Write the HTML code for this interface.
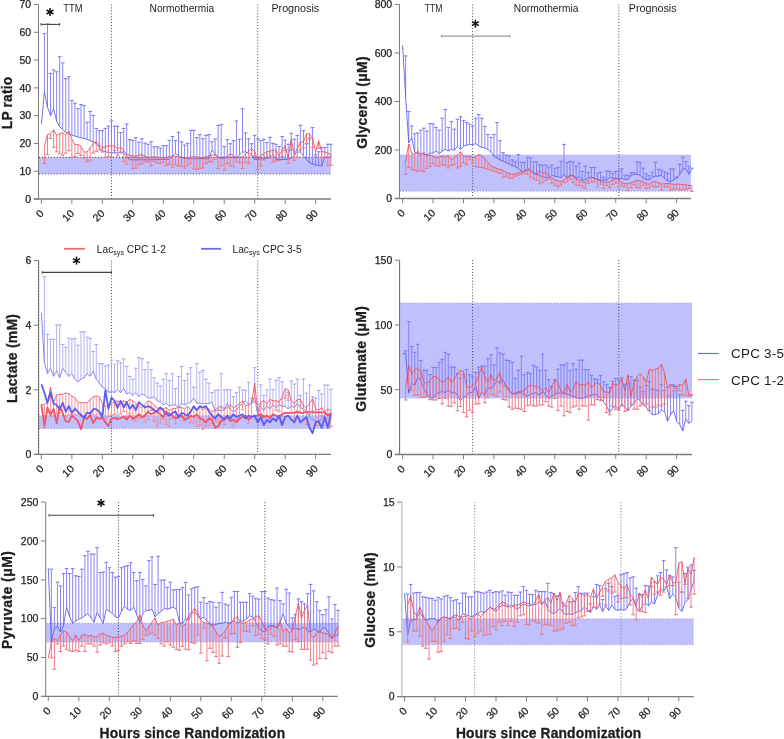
<!DOCTYPE html><html><head><meta charset="utf-8"><style>html,body{margin:0;padding:0;background:#fff;}svg{display:block;will-change:transform;}</style></head><body>
<svg width="784" height="739" viewBox="0 0 784 739" font-family='"Liberation Sans", sans-serif'>
<rect width="784" height="739" fill="#fff"/>
<rect x="39.00" y="157.32" width="292.00" height="16.67" fill="#c0c0fd"/>
<line x1="39.00" y1="157.32" x2="331.00" y2="157.32" stroke="#222" stroke-width="1" stroke-dasharray="1 1.96"/>
<line x1="39.00" y1="173.99" x2="331.00" y2="173.99" stroke="#4a4a4a" stroke-width="1" stroke-dasharray="1 1.96"/>
<line x1="111.48" y1="4.50" x2="111.48" y2="199.00" stroke="#444" stroke-width="1" stroke-dasharray="1 1.93"/>
<line x1="257.74" y1="4.50" x2="257.74" y2="199.00" stroke="#444" stroke-width="1" stroke-dasharray="1 1.93"/>
<line x1="44.45" y1="91.75" x2="44.45" y2="33.68" stroke="#7e7ef2" stroke-width="0.95"/>
<line x1="42.65" y1="33.68" x2="46.25" y2="33.68" stroke="#7e7ef2" stroke-width="1.1"/>
<line x1="47.49" y1="107.31" x2="47.49" y2="23.95" stroke="#7e7ef2" stroke-width="0.95"/>
<line x1="45.69" y1="23.95" x2="49.29" y2="23.95" stroke="#7e7ef2" stroke-width="1.1"/>
<line x1="50.54" y1="115.64" x2="50.54" y2="73.41" stroke="#7e7ef2" stroke-width="0.95"/>
<line x1="48.74" y1="73.41" x2="52.34" y2="73.41" stroke="#7e7ef2" stroke-width="1.1"/>
<line x1="53.59" y1="108.97" x2="53.59" y2="70.07" stroke="#7e7ef2" stroke-width="0.95"/>
<line x1="51.79" y1="70.07" x2="55.39" y2="70.07" stroke="#7e7ef2" stroke-width="1.1"/>
<line x1="56.63" y1="121.20" x2="56.63" y2="71.74" stroke="#7e7ef2" stroke-width="0.95"/>
<line x1="54.84" y1="71.74" x2="58.43" y2="71.74" stroke="#7e7ef2" stroke-width="1.1"/>
<line x1="59.68" y1="126.76" x2="59.68" y2="56.74" stroke="#7e7ef2" stroke-width="0.95"/>
<line x1="57.88" y1="56.74" x2="61.48" y2="56.74" stroke="#7e7ef2" stroke-width="1.1"/>
<line x1="62.73" y1="129.54" x2="62.73" y2="62.85" stroke="#7e7ef2" stroke-width="0.95"/>
<line x1="60.93" y1="62.85" x2="64.53" y2="62.85" stroke="#7e7ef2" stroke-width="1.1"/>
<line x1="65.78" y1="132.31" x2="65.78" y2="78.69" stroke="#7e7ef2" stroke-width="0.95"/>
<line x1="63.98" y1="78.69" x2="67.58" y2="78.69" stroke="#7e7ef2" stroke-width="1.1"/>
<line x1="68.82" y1="133.70" x2="68.82" y2="76.74" stroke="#7e7ef2" stroke-width="0.95"/>
<line x1="67.02" y1="76.74" x2="70.62" y2="76.74" stroke="#7e7ef2" stroke-width="1.1"/>
<line x1="71.87" y1="135.09" x2="71.87" y2="100.36" stroke="#7e7ef2" stroke-width="0.95"/>
<line x1="70.07" y1="100.36" x2="73.67" y2="100.36" stroke="#7e7ef2" stroke-width="1.1"/>
<line x1="74.92" y1="136.07" x2="74.92" y2="103.14" stroke="#7e7ef2" stroke-width="0.95"/>
<line x1="73.12" y1="103.14" x2="76.72" y2="103.14" stroke="#7e7ef2" stroke-width="1.1"/>
<line x1="77.96" y1="137.04" x2="77.96" y2="108.70" stroke="#7e7ef2" stroke-width="0.95"/>
<line x1="76.16" y1="108.70" x2="79.76" y2="108.70" stroke="#7e7ef2" stroke-width="1.1"/>
<line x1="81.01" y1="137.78" x2="81.01" y2="104.53" stroke="#7e7ef2" stroke-width="0.95"/>
<line x1="79.21" y1="104.53" x2="82.81" y2="104.53" stroke="#7e7ef2" stroke-width="1.1"/>
<line x1="84.06" y1="138.52" x2="84.06" y2="105.64" stroke="#7e7ef2" stroke-width="0.95"/>
<line x1="82.26" y1="105.64" x2="85.86" y2="105.64" stroke="#7e7ef2" stroke-width="1.1"/>
<line x1="87.11" y1="139.26" x2="87.11" y2="122.31" stroke="#7e7ef2" stroke-width="0.95"/>
<line x1="85.31" y1="122.31" x2="88.91" y2="122.31" stroke="#7e7ef2" stroke-width="1.1"/>
<line x1="90.15" y1="140.65" x2="90.15" y2="111.47" stroke="#7e7ef2" stroke-width="0.95"/>
<line x1="88.35" y1="111.47" x2="91.95" y2="111.47" stroke="#7e7ef2" stroke-width="1.1"/>
<line x1="93.20" y1="142.04" x2="93.20" y2="115.36" stroke="#7e7ef2" stroke-width="0.95"/>
<line x1="91.40" y1="115.36" x2="95.00" y2="115.36" stroke="#7e7ef2" stroke-width="1.1"/>
<line x1="96.25" y1="143.43" x2="96.25" y2="128.42" stroke="#7e7ef2" stroke-width="0.95"/>
<line x1="94.45" y1="128.42" x2="98.05" y2="128.42" stroke="#7e7ef2" stroke-width="1.1"/>
<line x1="99.29" y1="147.32" x2="99.29" y2="130.65" stroke="#7e7ef2" stroke-width="0.95"/>
<line x1="97.49" y1="130.65" x2="101.09" y2="130.65" stroke="#7e7ef2" stroke-width="1.1"/>
<line x1="102.34" y1="151.21" x2="102.34" y2="130.65" stroke="#7e7ef2" stroke-width="0.95"/>
<line x1="100.54" y1="130.65" x2="104.14" y2="130.65" stroke="#7e7ef2" stroke-width="1.1"/>
<line x1="105.39" y1="151.76" x2="105.39" y2="128.42" stroke="#7e7ef2" stroke-width="0.95"/>
<line x1="103.59" y1="128.42" x2="107.19" y2="128.42" stroke="#7e7ef2" stroke-width="1.1"/>
<line x1="108.43" y1="152.32" x2="108.43" y2="126.20" stroke="#7e7ef2" stroke-width="0.95"/>
<line x1="106.63" y1="126.20" x2="110.23" y2="126.20" stroke="#7e7ef2" stroke-width="1.1"/>
<line x1="111.48" y1="152.88" x2="111.48" y2="120.92" stroke="#7e7ef2" stroke-width="0.95"/>
<line x1="109.68" y1="120.92" x2="113.28" y2="120.92" stroke="#7e7ef2" stroke-width="1.1"/>
<line x1="114.53" y1="152.88" x2="114.53" y2="126.20" stroke="#7e7ef2" stroke-width="0.95"/>
<line x1="112.73" y1="126.20" x2="116.33" y2="126.20" stroke="#7e7ef2" stroke-width="1.1"/>
<line x1="117.57" y1="152.88" x2="117.57" y2="126.20" stroke="#7e7ef2" stroke-width="0.95"/>
<line x1="115.77" y1="126.20" x2="119.37" y2="126.20" stroke="#7e7ef2" stroke-width="1.1"/>
<line x1="120.62" y1="152.88" x2="120.62" y2="132.59" stroke="#7e7ef2" stroke-width="0.95"/>
<line x1="118.82" y1="132.59" x2="122.42" y2="132.59" stroke="#7e7ef2" stroke-width="1.1"/>
<line x1="123.67" y1="152.88" x2="123.67" y2="128.42" stroke="#7e7ef2" stroke-width="0.95"/>
<line x1="121.87" y1="128.42" x2="125.47" y2="128.42" stroke="#7e7ef2" stroke-width="1.1"/>
<line x1="126.72" y1="156.35" x2="126.72" y2="123.98" stroke="#7e7ef2" stroke-width="0.95"/>
<line x1="124.92" y1="123.98" x2="128.52" y2="123.98" stroke="#7e7ef2" stroke-width="1.1"/>
<line x1="129.76" y1="159.82" x2="129.76" y2="139.54" stroke="#7e7ef2" stroke-width="0.95"/>
<line x1="127.96" y1="139.54" x2="131.56" y2="139.54" stroke="#7e7ef2" stroke-width="1.1"/>
<line x1="132.81" y1="159.82" x2="132.81" y2="140.37" stroke="#7e7ef2" stroke-width="0.95"/>
<line x1="131.01" y1="140.37" x2="134.61" y2="140.37" stroke="#7e7ef2" stroke-width="1.1"/>
<line x1="135.86" y1="159.82" x2="135.86" y2="137.59" stroke="#7e7ef2" stroke-width="0.95"/>
<line x1="134.06" y1="137.59" x2="137.66" y2="137.59" stroke="#7e7ef2" stroke-width="1.1"/>
<line x1="138.90" y1="159.82" x2="138.90" y2="142.32" stroke="#7e7ef2" stroke-width="0.95"/>
<line x1="137.10" y1="142.32" x2="140.70" y2="142.32" stroke="#7e7ef2" stroke-width="1.1"/>
<line x1="141.95" y1="159.82" x2="141.95" y2="138.71" stroke="#7e7ef2" stroke-width="0.95"/>
<line x1="140.15" y1="138.71" x2="143.75" y2="138.71" stroke="#7e7ef2" stroke-width="1.1"/>
<line x1="145.00" y1="159.82" x2="145.00" y2="143.15" stroke="#7e7ef2" stroke-width="0.95"/>
<line x1="143.20" y1="143.15" x2="146.80" y2="143.15" stroke="#7e7ef2" stroke-width="1.1"/>
<line x1="148.05" y1="159.82" x2="148.05" y2="144.26" stroke="#7e7ef2" stroke-width="0.95"/>
<line x1="146.25" y1="144.26" x2="149.85" y2="144.26" stroke="#7e7ef2" stroke-width="1.1"/>
<line x1="151.09" y1="159.74" x2="151.09" y2="141.76" stroke="#7e7ef2" stroke-width="0.95"/>
<line x1="149.29" y1="141.76" x2="152.89" y2="141.76" stroke="#7e7ef2" stroke-width="1.1"/>
<line x1="154.14" y1="159.66" x2="154.14" y2="146.76" stroke="#7e7ef2" stroke-width="0.95"/>
<line x1="152.34" y1="146.76" x2="155.94" y2="146.76" stroke="#7e7ef2" stroke-width="1.1"/>
<line x1="157.19" y1="159.58" x2="157.19" y2="146.76" stroke="#7e7ef2" stroke-width="0.95"/>
<line x1="155.39" y1="146.76" x2="158.99" y2="146.76" stroke="#7e7ef2" stroke-width="1.1"/>
<line x1="160.23" y1="159.50" x2="160.23" y2="148.15" stroke="#7e7ef2" stroke-width="0.95"/>
<line x1="158.43" y1="148.15" x2="162.03" y2="148.15" stroke="#7e7ef2" stroke-width="1.1"/>
<line x1="163.28" y1="159.43" x2="163.28" y2="145.65" stroke="#7e7ef2" stroke-width="0.95"/>
<line x1="161.48" y1="145.65" x2="165.08" y2="145.65" stroke="#7e7ef2" stroke-width="1.1"/>
<line x1="166.33" y1="159.35" x2="166.33" y2="145.65" stroke="#7e7ef2" stroke-width="0.95"/>
<line x1="164.53" y1="145.65" x2="168.13" y2="145.65" stroke="#7e7ef2" stroke-width="1.1"/>
<line x1="169.37" y1="159.27" x2="169.37" y2="140.37" stroke="#7e7ef2" stroke-width="0.95"/>
<line x1="167.57" y1="140.37" x2="171.17" y2="140.37" stroke="#7e7ef2" stroke-width="1.1"/>
<line x1="172.42" y1="156.49" x2="172.42" y2="136.48" stroke="#7e7ef2" stroke-width="0.95"/>
<line x1="170.62" y1="136.48" x2="174.22" y2="136.48" stroke="#7e7ef2" stroke-width="1.1"/>
<line x1="175.47" y1="153.71" x2="175.47" y2="140.65" stroke="#7e7ef2" stroke-width="0.95"/>
<line x1="173.67" y1="140.65" x2="177.27" y2="140.65" stroke="#7e7ef2" stroke-width="1.1"/>
<line x1="178.52" y1="155.52" x2="178.52" y2="132.31" stroke="#7e7ef2" stroke-width="0.95"/>
<line x1="176.72" y1="132.31" x2="180.32" y2="132.31" stroke="#7e7ef2" stroke-width="1.1"/>
<line x1="181.56" y1="157.32" x2="181.56" y2="141.76" stroke="#7e7ef2" stroke-width="0.95"/>
<line x1="179.76" y1="141.76" x2="183.36" y2="141.76" stroke="#7e7ef2" stroke-width="1.1"/>
<line x1="184.61" y1="158.02" x2="184.61" y2="145.10" stroke="#7e7ef2" stroke-width="0.95"/>
<line x1="182.81" y1="145.10" x2="186.41" y2="145.10" stroke="#7e7ef2" stroke-width="1.1"/>
<line x1="187.66" y1="158.71" x2="187.66" y2="143.43" stroke="#7e7ef2" stroke-width="0.95"/>
<line x1="185.86" y1="143.43" x2="189.46" y2="143.43" stroke="#7e7ef2" stroke-width="1.1"/>
<line x1="190.70" y1="158.71" x2="190.70" y2="130.37" stroke="#7e7ef2" stroke-width="0.95"/>
<line x1="188.90" y1="130.37" x2="192.50" y2="130.37" stroke="#7e7ef2" stroke-width="1.1"/>
<line x1="193.75" y1="158.71" x2="193.75" y2="130.37" stroke="#7e7ef2" stroke-width="0.95"/>
<line x1="191.95" y1="130.37" x2="195.55" y2="130.37" stroke="#7e7ef2" stroke-width="1.1"/>
<line x1="196.80" y1="158.71" x2="196.80" y2="137.59" stroke="#7e7ef2" stroke-width="0.95"/>
<line x1="195.00" y1="137.59" x2="198.60" y2="137.59" stroke="#7e7ef2" stroke-width="1.1"/>
<line x1="199.84" y1="158.71" x2="199.84" y2="134.54" stroke="#7e7ef2" stroke-width="0.95"/>
<line x1="198.04" y1="134.54" x2="201.64" y2="134.54" stroke="#7e7ef2" stroke-width="1.1"/>
<line x1="202.89" y1="158.71" x2="202.89" y2="138.71" stroke="#7e7ef2" stroke-width="0.95"/>
<line x1="201.09" y1="138.71" x2="204.69" y2="138.71" stroke="#7e7ef2" stroke-width="1.1"/>
<line x1="205.94" y1="158.71" x2="205.94" y2="135.37" stroke="#7e7ef2" stroke-width="0.95"/>
<line x1="204.14" y1="135.37" x2="207.74" y2="135.37" stroke="#7e7ef2" stroke-width="1.1"/>
<line x1="208.99" y1="158.71" x2="208.99" y2="134.54" stroke="#7e7ef2" stroke-width="0.95"/>
<line x1="207.19" y1="134.54" x2="210.79" y2="134.54" stroke="#7e7ef2" stroke-width="1.1"/>
<line x1="212.03" y1="150.10" x2="212.03" y2="141.76" stroke="#7e7ef2" stroke-width="0.95"/>
<line x1="210.23" y1="141.76" x2="213.83" y2="141.76" stroke="#7e7ef2" stroke-width="1.1"/>
<line x1="215.08" y1="153.71" x2="215.08" y2="138.98" stroke="#7e7ef2" stroke-width="0.95"/>
<line x1="213.28" y1="138.98" x2="216.88" y2="138.98" stroke="#7e7ef2" stroke-width="1.1"/>
<line x1="218.13" y1="157.32" x2="218.13" y2="125.37" stroke="#7e7ef2" stroke-width="0.95"/>
<line x1="216.33" y1="125.37" x2="219.93" y2="125.37" stroke="#7e7ef2" stroke-width="1.1"/>
<line x1="221.17" y1="157.32" x2="221.17" y2="124.53" stroke="#7e7ef2" stroke-width="0.95"/>
<line x1="219.37" y1="124.53" x2="222.97" y2="124.53" stroke="#7e7ef2" stroke-width="1.1"/>
<line x1="224.22" y1="157.32" x2="224.22" y2="146.49" stroke="#7e7ef2" stroke-width="0.95"/>
<line x1="222.42" y1="146.49" x2="226.02" y2="146.49" stroke="#7e7ef2" stroke-width="1.1"/>
<line x1="227.27" y1="157.32" x2="227.27" y2="139.54" stroke="#7e7ef2" stroke-width="0.95"/>
<line x1="225.47" y1="139.54" x2="229.07" y2="139.54" stroke="#7e7ef2" stroke-width="1.1"/>
<line x1="230.31" y1="157.32" x2="230.31" y2="143.71" stroke="#7e7ef2" stroke-width="0.95"/>
<line x1="228.51" y1="143.71" x2="232.11" y2="143.71" stroke="#7e7ef2" stroke-width="1.1"/>
<line x1="233.36" y1="157.32" x2="233.36" y2="140.65" stroke="#7e7ef2" stroke-width="0.95"/>
<line x1="231.56" y1="140.65" x2="235.16" y2="140.65" stroke="#7e7ef2" stroke-width="1.1"/>
<line x1="236.41" y1="158.16" x2="236.41" y2="120.92" stroke="#7e7ef2" stroke-width="0.95"/>
<line x1="234.61" y1="120.92" x2="238.21" y2="120.92" stroke="#7e7ef2" stroke-width="1.1"/>
<line x1="239.46" y1="155.10" x2="239.46" y2="139.26" stroke="#7e7ef2" stroke-width="0.95"/>
<line x1="237.66" y1="139.26" x2="241.26" y2="139.26" stroke="#7e7ef2" stroke-width="1.1"/>
<line x1="242.50" y1="152.04" x2="242.50" y2="108.70" stroke="#7e7ef2" stroke-width="0.95"/>
<line x1="240.70" y1="108.70" x2="244.30" y2="108.70" stroke="#7e7ef2" stroke-width="1.1"/>
<line x1="245.55" y1="152.04" x2="245.55" y2="132.87" stroke="#7e7ef2" stroke-width="0.95"/>
<line x1="243.75" y1="132.87" x2="247.35" y2="132.87" stroke="#7e7ef2" stroke-width="1.1"/>
<line x1="248.60" y1="153.29" x2="248.60" y2="138.71" stroke="#7e7ef2" stroke-width="0.95"/>
<line x1="246.80" y1="138.71" x2="250.40" y2="138.71" stroke="#7e7ef2" stroke-width="1.1"/>
<line x1="251.64" y1="154.54" x2="251.64" y2="143.71" stroke="#7e7ef2" stroke-width="0.95"/>
<line x1="249.84" y1="143.71" x2="253.44" y2="143.71" stroke="#7e7ef2" stroke-width="1.1"/>
<line x1="254.69" y1="159.54" x2="254.69" y2="135.37" stroke="#7e7ef2" stroke-width="0.95"/>
<line x1="252.89" y1="135.37" x2="256.49" y2="135.37" stroke="#7e7ef2" stroke-width="1.1"/>
<line x1="257.74" y1="159.21" x2="257.74" y2="138.71" stroke="#7e7ef2" stroke-width="0.95"/>
<line x1="255.94" y1="138.71" x2="259.54" y2="138.71" stroke="#7e7ef2" stroke-width="1.1"/>
<line x1="260.78" y1="158.88" x2="260.78" y2="140.65" stroke="#7e7ef2" stroke-width="0.95"/>
<line x1="258.98" y1="140.65" x2="262.58" y2="140.65" stroke="#7e7ef2" stroke-width="1.1"/>
<line x1="263.83" y1="158.54" x2="263.83" y2="139.26" stroke="#7e7ef2" stroke-width="0.95"/>
<line x1="262.03" y1="139.26" x2="265.63" y2="139.26" stroke="#7e7ef2" stroke-width="1.1"/>
<line x1="266.88" y1="158.21" x2="266.88" y2="142.59" stroke="#7e7ef2" stroke-width="0.95"/>
<line x1="265.08" y1="142.59" x2="268.68" y2="142.59" stroke="#7e7ef2" stroke-width="1.1"/>
<line x1="269.93" y1="157.88" x2="269.93" y2="137.32" stroke="#7e7ef2" stroke-width="0.95"/>
<line x1="268.12" y1="137.32" x2="271.73" y2="137.32" stroke="#7e7ef2" stroke-width="1.1"/>
<line x1="272.97" y1="154.54" x2="272.97" y2="143.43" stroke="#7e7ef2" stroke-width="0.95"/>
<line x1="271.17" y1="143.43" x2="274.77" y2="143.43" stroke="#7e7ef2" stroke-width="1.1"/>
<line x1="276.02" y1="159.54" x2="276.02" y2="144.26" stroke="#7e7ef2" stroke-width="0.95"/>
<line x1="274.22" y1="144.26" x2="277.82" y2="144.26" stroke="#7e7ef2" stroke-width="1.1"/>
<line x1="279.07" y1="159.54" x2="279.07" y2="146.49" stroke="#7e7ef2" stroke-width="0.95"/>
<line x1="277.27" y1="146.49" x2="280.87" y2="146.49" stroke="#7e7ef2" stroke-width="1.1"/>
<line x1="282.11" y1="159.54" x2="282.11" y2="136.48" stroke="#7e7ef2" stroke-width="0.95"/>
<line x1="280.31" y1="136.48" x2="283.91" y2="136.48" stroke="#7e7ef2" stroke-width="1.1"/>
<line x1="285.16" y1="159.54" x2="285.16" y2="140.09" stroke="#7e7ef2" stroke-width="0.95"/>
<line x1="283.36" y1="140.09" x2="286.96" y2="140.09" stroke="#7e7ef2" stroke-width="1.1"/>
<line x1="288.21" y1="158.99" x2="288.21" y2="144.26" stroke="#7e7ef2" stroke-width="0.95"/>
<line x1="286.41" y1="144.26" x2="290.01" y2="144.26" stroke="#7e7ef2" stroke-width="1.1"/>
<line x1="291.25" y1="158.43" x2="291.25" y2="133.15" stroke="#7e7ef2" stroke-width="0.95"/>
<line x1="289.45" y1="133.15" x2="293.05" y2="133.15" stroke="#7e7ef2" stroke-width="1.1"/>
<line x1="294.30" y1="155.24" x2="294.30" y2="139.26" stroke="#7e7ef2" stroke-width="0.95"/>
<line x1="292.50" y1="139.26" x2="296.10" y2="139.26" stroke="#7e7ef2" stroke-width="1.1"/>
<line x1="297.35" y1="152.04" x2="297.35" y2="135.37" stroke="#7e7ef2" stroke-width="0.95"/>
<line x1="295.55" y1="135.37" x2="299.15" y2="135.37" stroke="#7e7ef2" stroke-width="1.1"/>
<line x1="300.39" y1="152.04" x2="300.39" y2="125.37" stroke="#7e7ef2" stroke-width="0.95"/>
<line x1="298.59" y1="125.37" x2="302.19" y2="125.37" stroke="#7e7ef2" stroke-width="1.1"/>
<line x1="303.44" y1="155.65" x2="303.44" y2="130.65" stroke="#7e7ef2" stroke-width="0.95"/>
<line x1="301.64" y1="130.65" x2="305.24" y2="130.65" stroke="#7e7ef2" stroke-width="1.1"/>
<line x1="306.49" y1="159.27" x2="306.49" y2="143.43" stroke="#7e7ef2" stroke-width="0.95"/>
<line x1="304.69" y1="143.43" x2="308.29" y2="143.43" stroke="#7e7ef2" stroke-width="1.1"/>
<line x1="309.54" y1="162.88" x2="309.54" y2="137.87" stroke="#7e7ef2" stroke-width="0.95"/>
<line x1="307.74" y1="137.87" x2="311.34" y2="137.87" stroke="#7e7ef2" stroke-width="1.1"/>
<line x1="312.58" y1="163.99" x2="312.58" y2="127.59" stroke="#7e7ef2" stroke-width="0.95"/>
<line x1="310.78" y1="127.59" x2="314.38" y2="127.59" stroke="#7e7ef2" stroke-width="1.1"/>
<line x1="315.63" y1="165.10" x2="315.63" y2="154.54" stroke="#7e7ef2" stroke-width="0.95"/>
<line x1="313.83" y1="154.54" x2="317.43" y2="154.54" stroke="#7e7ef2" stroke-width="1.1"/>
<line x1="318.68" y1="165.52" x2="318.68" y2="151.76" stroke="#7e7ef2" stroke-width="0.95"/>
<line x1="316.88" y1="151.76" x2="320.48" y2="151.76" stroke="#7e7ef2" stroke-width="1.1"/>
<line x1="321.72" y1="165.94" x2="321.72" y2="147.60" stroke="#7e7ef2" stroke-width="0.95"/>
<line x1="319.92" y1="147.60" x2="323.52" y2="147.60" stroke="#7e7ef2" stroke-width="1.1"/>
<line x1="324.77" y1="157.32" x2="324.77" y2="147.60" stroke="#7e7ef2" stroke-width="0.95"/>
<line x1="322.97" y1="147.60" x2="326.57" y2="147.60" stroke="#7e7ef2" stroke-width="1.1"/>
<line x1="327.82" y1="157.32" x2="327.82" y2="144.26" stroke="#7e7ef2" stroke-width="0.95"/>
<line x1="326.02" y1="144.26" x2="329.62" y2="144.26" stroke="#7e7ef2" stroke-width="1.1"/>
<line x1="330.87" y1="157.32" x2="330.87" y2="144.26" stroke="#7e7ef2" stroke-width="0.95"/>
<line x1="329.06" y1="144.26" x2="332.67" y2="144.26" stroke="#7e7ef2" stroke-width="1.1"/>
<polyline points="41.40,123.98 44.45,91.75 47.49,107.31 50.54,115.64 53.59,108.97 56.63,121.20 59.68,126.76 62.73,129.54 65.78,132.31 68.82,133.70 71.87,135.09 74.92,136.07 77.96,137.04 81.01,137.78 84.06,138.52 87.11,139.26 90.15,140.65 93.20,142.04 96.25,143.43 99.29,147.32 102.34,151.21 105.39,151.76 108.43,152.32 111.48,152.88 114.53,152.88 117.57,152.88 120.62,152.88 123.67,152.88 126.72,156.35 129.76,159.82 132.81,159.82 135.86,159.82 138.90,159.82 141.95,159.82 145.00,159.82 148.05,159.82 151.09,159.74 154.14,159.66 157.19,159.58 160.23,159.50 163.28,159.43 166.33,159.35 169.37,159.27 172.42,156.49 175.47,153.71 178.52,155.52 181.56,157.32 184.61,158.02 187.66,158.71 190.70,158.71 193.75,158.71 196.80,158.71 199.84,158.71 202.89,158.71 205.94,158.71 208.99,158.71 212.03,150.10 215.08,153.71 218.13,157.32 221.17,157.32 224.22,157.32 227.27,157.32 230.31,157.32 233.36,157.32 236.41,158.16 239.46,155.10 242.50,152.04 245.55,152.04 248.60,153.29 251.64,154.54 254.69,159.54 257.74,159.21 260.78,158.88 263.83,158.54 266.88,158.21 269.93,157.88 272.97,154.54 276.02,159.54 279.07,159.54 282.11,159.54 285.16,159.54 288.21,158.99 291.25,158.43 294.30,155.24 297.35,152.04 300.39,152.04 303.44,155.65 306.49,159.27 309.54,162.88 312.58,163.99 315.63,165.10 318.68,165.52 321.72,165.94 324.77,157.32 327.82,157.32 330.87,157.32" fill="none" stroke="#5858ee" stroke-width="0.85" stroke-linejoin="round"/>
<line x1="44.45" y1="146.21" x2="44.45" y2="163.43" stroke="#ee7884" stroke-width="0.95"/>
<line x1="42.65" y1="163.43" x2="46.25" y2="163.43" stroke="#ee7884" stroke-width="1.1"/>
<line x1="47.49" y1="134.81" x2="47.49" y2="154.54" stroke="#ee7884" stroke-width="0.95"/>
<line x1="45.69" y1="154.54" x2="49.29" y2="154.54" stroke="#ee7884" stroke-width="1.1"/>
<line x1="50.54" y1="133.70" x2="50.54" y2="138.43" stroke="#ee7884" stroke-width="0.95"/>
<line x1="48.74" y1="138.43" x2="52.34" y2="138.43" stroke="#ee7884" stroke-width="1.1"/>
<line x1="53.59" y1="129.81" x2="53.59" y2="147.32" stroke="#ee7884" stroke-width="0.95"/>
<line x1="51.79" y1="147.32" x2="55.39" y2="147.32" stroke="#ee7884" stroke-width="1.1"/>
<line x1="56.63" y1="135.37" x2="56.63" y2="151.76" stroke="#ee7884" stroke-width="0.95"/>
<line x1="54.84" y1="151.76" x2="58.43" y2="151.76" stroke="#ee7884" stroke-width="1.1"/>
<line x1="59.68" y1="133.70" x2="59.68" y2="153.71" stroke="#ee7884" stroke-width="0.95"/>
<line x1="57.88" y1="153.71" x2="61.48" y2="153.71" stroke="#ee7884" stroke-width="1.1"/>
<line x1="62.73" y1="132.59" x2="62.73" y2="155.38" stroke="#ee7884" stroke-width="0.95"/>
<line x1="60.93" y1="155.38" x2="64.53" y2="155.38" stroke="#ee7884" stroke-width="1.1"/>
<line x1="65.78" y1="135.37" x2="65.78" y2="153.15" stroke="#ee7884" stroke-width="0.95"/>
<line x1="63.98" y1="153.15" x2="67.58" y2="153.15" stroke="#ee7884" stroke-width="1.1"/>
<line x1="68.82" y1="131.20" x2="68.82" y2="150.65" stroke="#ee7884" stroke-width="0.95"/>
<line x1="67.02" y1="150.65" x2="70.62" y2="150.65" stroke="#ee7884" stroke-width="1.1"/>
<line x1="71.87" y1="139.26" x2="71.87" y2="157.60" stroke="#ee7884" stroke-width="0.95"/>
<line x1="70.07" y1="157.60" x2="73.67" y2="157.60" stroke="#ee7884" stroke-width="1.1"/>
<line x1="74.92" y1="144.54" x2="74.92" y2="156.49" stroke="#ee7884" stroke-width="0.95"/>
<line x1="73.12" y1="156.49" x2="76.72" y2="156.49" stroke="#ee7884" stroke-width="1.1"/>
<line x1="77.96" y1="144.54" x2="77.96" y2="153.43" stroke="#ee7884" stroke-width="0.95"/>
<line x1="76.16" y1="153.43" x2="79.76" y2="153.43" stroke="#ee7884" stroke-width="1.1"/>
<line x1="81.01" y1="146.21" x2="81.01" y2="155.38" stroke="#ee7884" stroke-width="0.95"/>
<line x1="79.21" y1="155.38" x2="82.81" y2="155.38" stroke="#ee7884" stroke-width="1.1"/>
<line x1="84.06" y1="152.04" x2="84.06" y2="158.59" stroke="#ee7884" stroke-width="0.95"/>
<line x1="82.26" y1="158.59" x2="85.86" y2="158.59" stroke="#ee7884" stroke-width="1.1"/>
<line x1="87.11" y1="152.04" x2="87.11" y2="161.71" stroke="#ee7884" stroke-width="0.95"/>
<line x1="85.31" y1="161.71" x2="88.91" y2="161.71" stroke="#ee7884" stroke-width="1.1"/>
<line x1="90.15" y1="147.60" x2="90.15" y2="160.86" stroke="#ee7884" stroke-width="0.95"/>
<line x1="88.35" y1="160.86" x2="91.95" y2="160.86" stroke="#ee7884" stroke-width="1.1"/>
<line x1="93.20" y1="143.43" x2="93.20" y2="153.15" stroke="#ee7884" stroke-width="0.95"/>
<line x1="91.40" y1="153.15" x2="95.00" y2="153.15" stroke="#ee7884" stroke-width="1.1"/>
<line x1="96.25" y1="141.48" x2="96.25" y2="151.41" stroke="#ee7884" stroke-width="0.95"/>
<line x1="94.45" y1="151.41" x2="98.05" y2="151.41" stroke="#ee7884" stroke-width="1.1"/>
<line x1="99.29" y1="144.82" x2="99.29" y2="149.99" stroke="#ee7884" stroke-width="0.95"/>
<line x1="97.49" y1="149.99" x2="101.09" y2="149.99" stroke="#ee7884" stroke-width="1.1"/>
<line x1="102.34" y1="147.87" x2="102.34" y2="152.04" stroke="#ee7884" stroke-width="0.95"/>
<line x1="100.54" y1="152.04" x2="104.14" y2="152.04" stroke="#ee7884" stroke-width="1.1"/>
<line x1="105.39" y1="146.76" x2="105.39" y2="157.42" stroke="#ee7884" stroke-width="0.95"/>
<line x1="103.59" y1="157.42" x2="107.19" y2="157.42" stroke="#ee7884" stroke-width="1.1"/>
<line x1="108.43" y1="145.65" x2="108.43" y2="157.01" stroke="#ee7884" stroke-width="0.95"/>
<line x1="106.63" y1="157.01" x2="110.23" y2="157.01" stroke="#ee7884" stroke-width="1.1"/>
<line x1="111.48" y1="146.21" x2="111.48" y2="156.99" stroke="#ee7884" stroke-width="0.95"/>
<line x1="109.68" y1="156.99" x2="113.28" y2="156.99" stroke="#ee7884" stroke-width="1.1"/>
<line x1="114.53" y1="145.65" x2="114.53" y2="150.33" stroke="#ee7884" stroke-width="0.95"/>
<line x1="112.73" y1="150.33" x2="116.33" y2="150.33" stroke="#ee7884" stroke-width="1.1"/>
<line x1="117.57" y1="148.99" x2="117.57" y2="155.68" stroke="#ee7884" stroke-width="0.95"/>
<line x1="115.77" y1="155.68" x2="119.37" y2="155.68" stroke="#ee7884" stroke-width="1.1"/>
<line x1="120.62" y1="147.04" x2="120.62" y2="151.96" stroke="#ee7884" stroke-width="0.95"/>
<line x1="118.82" y1="151.96" x2="122.42" y2="151.96" stroke="#ee7884" stroke-width="1.1"/>
<line x1="123.67" y1="150.65" x2="123.67" y2="161.57" stroke="#ee7884" stroke-width="0.95"/>
<line x1="121.87" y1="161.57" x2="125.47" y2="161.57" stroke="#ee7884" stroke-width="1.1"/>
<line x1="126.72" y1="154.26" x2="126.72" y2="164.21" stroke="#ee7884" stroke-width="0.95"/>
<line x1="124.92" y1="164.21" x2="128.52" y2="164.21" stroke="#ee7884" stroke-width="1.1"/>
<line x1="129.76" y1="155.24" x2="129.76" y2="159.75" stroke="#ee7884" stroke-width="0.95"/>
<line x1="127.96" y1="159.75" x2="131.56" y2="159.75" stroke="#ee7884" stroke-width="1.1"/>
<line x1="132.81" y1="156.21" x2="132.81" y2="168.57" stroke="#ee7884" stroke-width="0.95"/>
<line x1="131.01" y1="168.57" x2="134.61" y2="168.57" stroke="#ee7884" stroke-width="1.1"/>
<line x1="135.86" y1="155.93" x2="135.86" y2="168.14" stroke="#ee7884" stroke-width="0.95"/>
<line x1="134.06" y1="168.14" x2="137.66" y2="168.14" stroke="#ee7884" stroke-width="1.1"/>
<line x1="138.90" y1="155.24" x2="138.90" y2="164.86" stroke="#ee7884" stroke-width="0.95"/>
<line x1="137.10" y1="164.86" x2="140.70" y2="164.86" stroke="#ee7884" stroke-width="1.1"/>
<line x1="141.95" y1="154.54" x2="141.95" y2="163.84" stroke="#ee7884" stroke-width="0.95"/>
<line x1="140.15" y1="163.84" x2="143.75" y2="163.84" stroke="#ee7884" stroke-width="1.1"/>
<line x1="145.00" y1="156.07" x2="145.00" y2="161.55" stroke="#ee7884" stroke-width="0.95"/>
<line x1="143.20" y1="161.55" x2="146.80" y2="161.55" stroke="#ee7884" stroke-width="1.1"/>
<line x1="148.05" y1="157.60" x2="148.05" y2="161.89" stroke="#ee7884" stroke-width="0.95"/>
<line x1="146.25" y1="161.89" x2="149.85" y2="161.89" stroke="#ee7884" stroke-width="1.1"/>
<line x1="151.09" y1="157.18" x2="151.09" y2="165.75" stroke="#ee7884" stroke-width="0.95"/>
<line x1="149.29" y1="165.75" x2="152.89" y2="165.75" stroke="#ee7884" stroke-width="1.1"/>
<line x1="154.14" y1="156.77" x2="154.14" y2="161.43" stroke="#ee7884" stroke-width="0.95"/>
<line x1="152.34" y1="161.43" x2="155.94" y2="161.43" stroke="#ee7884" stroke-width="1.1"/>
<line x1="157.19" y1="157.14" x2="157.19" y2="162.89" stroke="#ee7884" stroke-width="0.95"/>
<line x1="155.39" y1="162.89" x2="158.99" y2="162.89" stroke="#ee7884" stroke-width="1.1"/>
<line x1="160.23" y1="157.51" x2="160.23" y2="163.69" stroke="#ee7884" stroke-width="0.95"/>
<line x1="158.43" y1="163.69" x2="162.03" y2="163.69" stroke="#ee7884" stroke-width="1.1"/>
<line x1="163.28" y1="157.88" x2="163.28" y2="162.30" stroke="#ee7884" stroke-width="0.95"/>
<line x1="161.48" y1="162.30" x2="165.08" y2="162.30" stroke="#ee7884" stroke-width="1.1"/>
<line x1="166.33" y1="157.23" x2="166.33" y2="165.26" stroke="#ee7884" stroke-width="0.95"/>
<line x1="164.53" y1="165.26" x2="168.13" y2="165.26" stroke="#ee7884" stroke-width="1.1"/>
<line x1="169.37" y1="156.58" x2="169.37" y2="164.42" stroke="#ee7884" stroke-width="0.95"/>
<line x1="167.57" y1="164.42" x2="171.17" y2="164.42" stroke="#ee7884" stroke-width="1.1"/>
<line x1="172.42" y1="155.93" x2="172.42" y2="167.12" stroke="#ee7884" stroke-width="0.95"/>
<line x1="170.62" y1="167.12" x2="174.22" y2="167.12" stroke="#ee7884" stroke-width="1.1"/>
<line x1="175.47" y1="156.35" x2="175.47" y2="164.84" stroke="#ee7884" stroke-width="0.95"/>
<line x1="173.67" y1="164.84" x2="177.27" y2="164.84" stroke="#ee7884" stroke-width="1.1"/>
<line x1="178.52" y1="156.77" x2="178.52" y2="166.27" stroke="#ee7884" stroke-width="0.95"/>
<line x1="176.72" y1="166.27" x2="180.32" y2="166.27" stroke="#ee7884" stroke-width="1.1"/>
<line x1="181.56" y1="157.60" x2="181.56" y2="165.93" stroke="#ee7884" stroke-width="0.95"/>
<line x1="179.76" y1="165.93" x2="183.36" y2="165.93" stroke="#ee7884" stroke-width="1.1"/>
<line x1="184.61" y1="158.43" x2="184.61" y2="168.12" stroke="#ee7884" stroke-width="0.95"/>
<line x1="182.81" y1="168.12" x2="186.41" y2="168.12" stroke="#ee7884" stroke-width="1.1"/>
<line x1="187.66" y1="157.78" x2="187.66" y2="165.76" stroke="#ee7884" stroke-width="0.95"/>
<line x1="185.86" y1="165.76" x2="189.46" y2="165.76" stroke="#ee7884" stroke-width="1.1"/>
<line x1="190.70" y1="157.14" x2="190.70" y2="163.62" stroke="#ee7884" stroke-width="0.95"/>
<line x1="188.90" y1="163.62" x2="192.50" y2="163.62" stroke="#ee7884" stroke-width="1.1"/>
<line x1="193.75" y1="156.49" x2="193.75" y2="168.97" stroke="#ee7884" stroke-width="0.95"/>
<line x1="191.95" y1="168.97" x2="195.55" y2="168.97" stroke="#ee7884" stroke-width="1.1"/>
<line x1="196.80" y1="156.95" x2="196.80" y2="169.42" stroke="#ee7884" stroke-width="0.95"/>
<line x1="195.00" y1="169.42" x2="198.60" y2="169.42" stroke="#ee7884" stroke-width="1.1"/>
<line x1="199.84" y1="157.41" x2="199.84" y2="168.59" stroke="#ee7884" stroke-width="0.95"/>
<line x1="198.04" y1="168.59" x2="201.64" y2="168.59" stroke="#ee7884" stroke-width="1.1"/>
<line x1="202.89" y1="157.88" x2="202.89" y2="167.95" stroke="#ee7884" stroke-width="0.95"/>
<line x1="201.09" y1="167.95" x2="204.69" y2="167.95" stroke="#ee7884" stroke-width="1.1"/>
<line x1="205.94" y1="156.90" x2="205.94" y2="163.70" stroke="#ee7884" stroke-width="0.95"/>
<line x1="204.14" y1="163.70" x2="207.74" y2="163.70" stroke="#ee7884" stroke-width="1.1"/>
<line x1="208.99" y1="155.93" x2="208.99" y2="162.01" stroke="#ee7884" stroke-width="0.95"/>
<line x1="207.19" y1="162.01" x2="210.79" y2="162.01" stroke="#ee7884" stroke-width="1.1"/>
<line x1="212.03" y1="155.24" x2="212.03" y2="161.81" stroke="#ee7884" stroke-width="0.95"/>
<line x1="210.23" y1="161.81" x2="213.83" y2="161.81" stroke="#ee7884" stroke-width="1.1"/>
<line x1="215.08" y1="154.54" x2="215.08" y2="159.30" stroke="#ee7884" stroke-width="0.95"/>
<line x1="213.28" y1="159.30" x2="216.88" y2="159.30" stroke="#ee7884" stroke-width="1.1"/>
<line x1="218.13" y1="157.88" x2="218.13" y2="168.43" stroke="#ee7884" stroke-width="0.95"/>
<line x1="216.33" y1="168.43" x2="219.93" y2="168.43" stroke="#ee7884" stroke-width="1.1"/>
<line x1="221.17" y1="158.29" x2="221.17" y2="165.80" stroke="#ee7884" stroke-width="0.95"/>
<line x1="219.37" y1="165.80" x2="222.97" y2="165.80" stroke="#ee7884" stroke-width="1.1"/>
<line x1="224.22" y1="158.71" x2="224.22" y2="169.94" stroke="#ee7884" stroke-width="0.95"/>
<line x1="222.42" y1="169.94" x2="226.02" y2="169.94" stroke="#ee7884" stroke-width="1.1"/>
<line x1="227.27" y1="156.21" x2="227.27" y2="163.60" stroke="#ee7884" stroke-width="0.95"/>
<line x1="225.47" y1="163.60" x2="229.07" y2="163.60" stroke="#ee7884" stroke-width="1.1"/>
<line x1="230.31" y1="153.71" x2="230.31" y2="165.86" stroke="#ee7884" stroke-width="0.95"/>
<line x1="228.51" y1="165.86" x2="232.11" y2="165.86" stroke="#ee7884" stroke-width="1.1"/>
<line x1="233.36" y1="155.52" x2="233.36" y2="166.75" stroke="#ee7884" stroke-width="0.95"/>
<line x1="231.56" y1="166.75" x2="235.16" y2="166.75" stroke="#ee7884" stroke-width="1.1"/>
<line x1="236.41" y1="157.32" x2="236.41" y2="161.49" stroke="#ee7884" stroke-width="0.95"/>
<line x1="234.61" y1="161.49" x2="238.21" y2="161.49" stroke="#ee7884" stroke-width="1.1"/>
<line x1="239.46" y1="157.04" x2="239.46" y2="162.96" stroke="#ee7884" stroke-width="0.95"/>
<line x1="237.66" y1="162.96" x2="241.26" y2="162.96" stroke="#ee7884" stroke-width="1.1"/>
<line x1="242.50" y1="156.77" x2="242.50" y2="168.52" stroke="#ee7884" stroke-width="0.95"/>
<line x1="240.70" y1="168.52" x2="244.30" y2="168.52" stroke="#ee7884" stroke-width="1.1"/>
<line x1="245.55" y1="153.99" x2="245.55" y2="162.07" stroke="#ee7884" stroke-width="0.95"/>
<line x1="243.75" y1="162.07" x2="247.35" y2="162.07" stroke="#ee7884" stroke-width="1.1"/>
<line x1="248.60" y1="151.21" x2="248.60" y2="163.55" stroke="#ee7884" stroke-width="0.95"/>
<line x1="246.80" y1="163.55" x2="250.40" y2="163.55" stroke="#ee7884" stroke-width="1.1"/>
<line x1="251.64" y1="148.43" x2="251.64" y2="155.91" stroke="#ee7884" stroke-width="0.95"/>
<line x1="249.84" y1="155.91" x2="253.44" y2="155.91" stroke="#ee7884" stroke-width="1.1"/>
<line x1="254.69" y1="151.76" x2="254.69" y2="156.54" stroke="#ee7884" stroke-width="0.95"/>
<line x1="252.89" y1="156.54" x2="256.49" y2="156.54" stroke="#ee7884" stroke-width="1.1"/>
<line x1="257.74" y1="160.10" x2="257.74" y2="169.51" stroke="#ee7884" stroke-width="0.95"/>
<line x1="255.94" y1="169.51" x2="259.54" y2="169.51" stroke="#ee7884" stroke-width="1.1"/>
<line x1="260.78" y1="155.38" x2="260.78" y2="166.03" stroke="#ee7884" stroke-width="0.95"/>
<line x1="258.98" y1="166.03" x2="262.58" y2="166.03" stroke="#ee7884" stroke-width="1.1"/>
<line x1="263.83" y1="153.57" x2="263.83" y2="159.99" stroke="#ee7884" stroke-width="0.95"/>
<line x1="262.03" y1="159.99" x2="265.63" y2="159.99" stroke="#ee7884" stroke-width="1.1"/>
<line x1="266.88" y1="151.76" x2="266.88" y2="156.66" stroke="#ee7884" stroke-width="0.95"/>
<line x1="265.08" y1="156.66" x2="268.68" y2="156.66" stroke="#ee7884" stroke-width="1.1"/>
<line x1="269.93" y1="151.21" x2="269.93" y2="158.15" stroke="#ee7884" stroke-width="0.95"/>
<line x1="268.12" y1="158.15" x2="271.73" y2="158.15" stroke="#ee7884" stroke-width="1.1"/>
<line x1="272.97" y1="149.82" x2="272.97" y2="162.02" stroke="#ee7884" stroke-width="0.95"/>
<line x1="271.17" y1="162.02" x2="274.77" y2="162.02" stroke="#ee7884" stroke-width="1.1"/>
<line x1="276.02" y1="150.38" x2="276.02" y2="160.86" stroke="#ee7884" stroke-width="0.95"/>
<line x1="274.22" y1="160.86" x2="277.82" y2="160.86" stroke="#ee7884" stroke-width="1.1"/>
<line x1="279.07" y1="155.38" x2="279.07" y2="160.53" stroke="#ee7884" stroke-width="0.95"/>
<line x1="277.27" y1="160.53" x2="280.87" y2="160.53" stroke="#ee7884" stroke-width="1.1"/>
<line x1="282.11" y1="150.38" x2="282.11" y2="156.60" stroke="#ee7884" stroke-width="0.95"/>
<line x1="280.31" y1="156.60" x2="283.91" y2="156.60" stroke="#ee7884" stroke-width="1.1"/>
<line x1="285.16" y1="145.37" x2="285.16" y2="150.38" stroke="#ee7884" stroke-width="0.95"/>
<line x1="283.36" y1="150.38" x2="286.96" y2="150.38" stroke="#ee7884" stroke-width="1.1"/>
<line x1="288.21" y1="158.71" x2="288.21" y2="163.38" stroke="#ee7884" stroke-width="0.95"/>
<line x1="286.41" y1="163.38" x2="290.01" y2="163.38" stroke="#ee7884" stroke-width="1.1"/>
<line x1="291.25" y1="139.26" x2="291.25" y2="150.07" stroke="#ee7884" stroke-width="0.95"/>
<line x1="289.45" y1="150.07" x2="293.05" y2="150.07" stroke="#ee7884" stroke-width="1.1"/>
<line x1="294.30" y1="154.54" x2="294.30" y2="160.19" stroke="#ee7884" stroke-width="0.95"/>
<line x1="292.50" y1="160.19" x2="296.10" y2="160.19" stroke="#ee7884" stroke-width="1.1"/>
<line x1="297.35" y1="148.29" x2="297.35" y2="157.12" stroke="#ee7884" stroke-width="0.95"/>
<line x1="295.55" y1="157.12" x2="299.15" y2="157.12" stroke="#ee7884" stroke-width="1.1"/>
<line x1="300.39" y1="142.04" x2="300.39" y2="149.94" stroke="#ee7884" stroke-width="0.95"/>
<line x1="298.59" y1="149.94" x2="302.19" y2="149.94" stroke="#ee7884" stroke-width="1.1"/>
<line x1="303.44" y1="142.04" x2="303.44" y2="147.80" stroke="#ee7884" stroke-width="0.95"/>
<line x1="301.64" y1="147.80" x2="305.24" y2="147.80" stroke="#ee7884" stroke-width="1.1"/>
<line x1="306.49" y1="133.70" x2="306.49" y2="143.97" stroke="#ee7884" stroke-width="0.95"/>
<line x1="304.69" y1="143.97" x2="308.29" y2="143.97" stroke="#ee7884" stroke-width="1.1"/>
<line x1="309.54" y1="133.70" x2="309.54" y2="138.96" stroke="#ee7884" stroke-width="0.95"/>
<line x1="307.74" y1="138.96" x2="311.34" y2="138.96" stroke="#ee7884" stroke-width="1.1"/>
<line x1="312.58" y1="137.87" x2="312.58" y2="147.41" stroke="#ee7884" stroke-width="0.95"/>
<line x1="310.78" y1="147.41" x2="314.38" y2="147.41" stroke="#ee7884" stroke-width="1.1"/>
<line x1="315.63" y1="151.76" x2="315.63" y2="156.90" stroke="#ee7884" stroke-width="0.95"/>
<line x1="313.83" y1="156.90" x2="317.43" y2="156.90" stroke="#ee7884" stroke-width="1.1"/>
<line x1="318.68" y1="140.65" x2="318.68" y2="148.33" stroke="#ee7884" stroke-width="0.95"/>
<line x1="316.88" y1="148.33" x2="320.48" y2="148.33" stroke="#ee7884" stroke-width="1.1"/>
<line x1="321.72" y1="151.76" x2="321.72" y2="157.71" stroke="#ee7884" stroke-width="0.95"/>
<line x1="319.92" y1="157.71" x2="323.52" y2="157.71" stroke="#ee7884" stroke-width="1.1"/>
<line x1="324.77" y1="151.76" x2="324.77" y2="158.18" stroke="#ee7884" stroke-width="0.95"/>
<line x1="322.97" y1="158.18" x2="326.57" y2="158.18" stroke="#ee7884" stroke-width="1.1"/>
<line x1="327.82" y1="153.15" x2="327.82" y2="165.41" stroke="#ee7884" stroke-width="0.95"/>
<line x1="326.02" y1="165.41" x2="329.62" y2="165.41" stroke="#ee7884" stroke-width="1.1"/>
<line x1="330.87" y1="154.54" x2="330.87" y2="165.41" stroke="#ee7884" stroke-width="0.95"/>
<line x1="329.06" y1="165.41" x2="332.67" y2="165.41" stroke="#ee7884" stroke-width="1.1"/>
<polyline points="44.45,146.21 47.49,134.81 50.54,133.70 53.59,129.81 56.63,135.37 59.68,133.70 62.73,132.59 65.78,135.37 68.82,131.20 71.87,139.26 74.92,144.54 77.96,144.54 81.01,146.21 84.06,152.04 87.11,152.04 90.15,147.60 93.20,143.43 96.25,141.48 99.29,144.82 102.34,147.87 105.39,146.76 108.43,145.65 111.48,146.21 114.53,145.65 117.57,148.99 120.62,147.04 123.67,150.65 126.72,154.26 129.76,155.24 132.81,156.21 135.86,155.93 138.90,155.24 141.95,154.54 145.00,156.07 148.05,157.60 151.09,157.18 154.14,156.77 157.19,157.14 160.23,157.51 163.28,157.88 166.33,157.23 169.37,156.58 172.42,155.93 175.47,156.35 178.52,156.77 181.56,157.60 184.61,158.43 187.66,157.78 190.70,157.14 193.75,156.49 196.80,156.95 199.84,157.41 202.89,157.88 205.94,156.90 208.99,155.93 212.03,155.24 215.08,154.54 218.13,157.88 221.17,158.29 224.22,158.71 227.27,156.21 230.31,153.71 233.36,155.52 236.41,157.32 239.46,157.04 242.50,156.77 245.55,153.99 248.60,151.21 251.64,148.43 254.69,151.76 257.74,160.10 260.78,155.38 263.83,153.57 266.88,151.76 269.93,151.21 272.97,149.82 276.02,150.38 279.07,155.38 282.11,150.38 285.16,145.37 288.21,158.71 291.25,139.26 294.30,154.54 297.35,148.29 300.39,142.04 303.44,142.04 306.49,133.70 309.54,133.70 312.58,137.87 315.63,151.76 318.68,140.65 321.72,151.76 324.77,151.76 327.82,153.15 330.87,154.54" fill="none" stroke="#ea4d60" stroke-width="0.85" stroke-linejoin="round"/>
<line x1="38.5" y1="4.50" x2="38.5" y2="199.00" stroke="#7d7d7d" stroke-width="1"/>
<line x1="33.70" y1="199.00" x2="38.5" y2="199.00" stroke="#7d7d7d" stroke-width="1"/>
<text x="31.20" y="202.80" text-anchor="end" font-size="10.5" fill="#1e1e1e" stroke="#1e1e1e" stroke-width="0.25">0</text>
<line x1="33.70" y1="171.21" x2="38.5" y2="171.21" stroke="#7d7d7d" stroke-width="1"/>
<text x="31.20" y="175.01" text-anchor="end" font-size="10.5" fill="#1e1e1e" stroke="#1e1e1e" stroke-width="0.25">10</text>
<line x1="33.70" y1="143.43" x2="38.5" y2="143.43" stroke="#7d7d7d" stroke-width="1"/>
<text x="31.20" y="147.23" text-anchor="end" font-size="10.5" fill="#1e1e1e" stroke="#1e1e1e" stroke-width="0.25">20</text>
<line x1="33.70" y1="115.64" x2="38.5" y2="115.64" stroke="#7d7d7d" stroke-width="1"/>
<text x="31.20" y="119.44" text-anchor="end" font-size="10.5" fill="#1e1e1e" stroke="#1e1e1e" stroke-width="0.25">30</text>
<line x1="33.70" y1="87.86" x2="38.5" y2="87.86" stroke="#7d7d7d" stroke-width="1"/>
<text x="31.20" y="91.66" text-anchor="end" font-size="10.5" fill="#1e1e1e" stroke="#1e1e1e" stroke-width="0.25">40</text>
<line x1="33.70" y1="60.07" x2="38.5" y2="60.07" stroke="#7d7d7d" stroke-width="1"/>
<text x="31.20" y="63.87" text-anchor="end" font-size="10.5" fill="#1e1e1e" stroke="#1e1e1e" stroke-width="0.25">50</text>
<line x1="33.70" y1="32.29" x2="38.5" y2="32.29" stroke="#7d7d7d" stroke-width="1"/>
<text x="31.20" y="36.09" text-anchor="end" font-size="10.5" fill="#1e1e1e" stroke="#1e1e1e" stroke-width="0.25">60</text>
<line x1="33.70" y1="4.50" x2="38.5" y2="4.50" stroke="#7d7d7d" stroke-width="1"/>
<text x="31.20" y="8.30" text-anchor="end" font-size="10.5" fill="#1e1e1e" stroke="#1e1e1e" stroke-width="0.25">70</text>
<line x1="34.00" y1="199.00" x2="331.00" y2="199.00" stroke="#7d7d7d" stroke-width="1.3"/>
<line x1="41.40" y1="199.00" x2="41.40" y2="203.70" stroke="#7d7d7d" stroke-width="1"/>
<text transform="translate(44.40,214.00) rotate(-45)" text-anchor="end" font-size="10.5" fill="#1e1e1e" stroke="#1e1e1e" stroke-width="0.25">0</text>
<line x1="71.87" y1="199.00" x2="71.87" y2="203.70" stroke="#7d7d7d" stroke-width="1"/>
<text transform="translate(74.87,214.00) rotate(-45)" text-anchor="end" font-size="10.5" fill="#1e1e1e" stroke="#1e1e1e" stroke-width="0.25">10</text>
<line x1="102.34" y1="199.00" x2="102.34" y2="203.70" stroke="#7d7d7d" stroke-width="1"/>
<text transform="translate(105.34,214.00) rotate(-45)" text-anchor="end" font-size="10.5" fill="#1e1e1e" stroke="#1e1e1e" stroke-width="0.25">20</text>
<line x1="132.81" y1="199.00" x2="132.81" y2="203.70" stroke="#7d7d7d" stroke-width="1"/>
<text transform="translate(135.81,214.00) rotate(-45)" text-anchor="end" font-size="10.5" fill="#1e1e1e" stroke="#1e1e1e" stroke-width="0.25">30</text>
<line x1="163.28" y1="199.00" x2="163.28" y2="203.70" stroke="#7d7d7d" stroke-width="1"/>
<text transform="translate(166.28,214.00) rotate(-45)" text-anchor="end" font-size="10.5" fill="#1e1e1e" stroke="#1e1e1e" stroke-width="0.25">40</text>
<line x1="193.75" y1="199.00" x2="193.75" y2="203.70" stroke="#7d7d7d" stroke-width="1"/>
<text transform="translate(196.75,214.00) rotate(-45)" text-anchor="end" font-size="10.5" fill="#1e1e1e" stroke="#1e1e1e" stroke-width="0.25">50</text>
<line x1="224.22" y1="199.00" x2="224.22" y2="203.70" stroke="#7d7d7d" stroke-width="1"/>
<text transform="translate(227.22,214.00) rotate(-45)" text-anchor="end" font-size="10.5" fill="#1e1e1e" stroke="#1e1e1e" stroke-width="0.25">60</text>
<line x1="254.69" y1="199.00" x2="254.69" y2="203.70" stroke="#7d7d7d" stroke-width="1"/>
<text transform="translate(257.69,214.00) rotate(-45)" text-anchor="end" font-size="10.5" fill="#1e1e1e" stroke="#1e1e1e" stroke-width="0.25">70</text>
<line x1="285.16" y1="199.00" x2="285.16" y2="203.70" stroke="#7d7d7d" stroke-width="1"/>
<text transform="translate(288.16,214.00) rotate(-45)" text-anchor="end" font-size="10.5" fill="#1e1e1e" stroke="#1e1e1e" stroke-width="0.25">80</text>
<line x1="315.63" y1="199.00" x2="315.63" y2="203.70" stroke="#7d7d7d" stroke-width="1"/>
<text transform="translate(318.63,214.00) rotate(-45)" text-anchor="end" font-size="10.5" fill="#1e1e1e" stroke="#1e1e1e" stroke-width="0.25">90</text>
<text x="63.3" y="12" font-size="10.2" fill="#1e1e1e" textLength="19.3" lengthAdjust="spacingAndGlyphs">TTM</text>
<text x="149.6" y="12" font-size="10.2" fill="#1e1e1e">Normothermia</text>
<text x="271.4" y="12" font-size="10.2" fill="#1e1e1e" textLength="47.8" lengthAdjust="spacingAndGlyphs">Prognosis</text>
<line x1="41.10" y1="24.40" x2="59.60" y2="24.40" stroke="#444" stroke-width="1.1"/>
<line x1="41.10" y1="23.10" x2="41.10" y2="25.70" stroke="#444" stroke-width="1"/>
<line x1="59.60" y1="23.10" x2="59.60" y2="25.70" stroke="#444" stroke-width="1"/>
<line x1="50.00" y1="8.00" x2="50.00" y2="16.00" stroke="#111" stroke-width="1.55"/>
<line x1="46.54" y1="10.00" x2="53.46" y2="14.00" stroke="#111" stroke-width="1.55"/>
<line x1="46.54" y1="14.00" x2="53.46" y2="10.00" stroke="#111" stroke-width="1.55"/>
<text transform="translate(12.00,103.00) rotate(-90)" text-anchor="middle" font-size="13.9" font-weight="bold" fill="#1e1e1e" stroke="#1e1e1e" stroke-width="0.3" textLength="52.5" lengthAdjust="spacing">LP ratio</text>
<rect x="400.00" y="154.85" width="291.00" height="36.38" fill="#c0c0fd"/>
<line x1="400.00" y1="154.85" x2="691.00" y2="154.85" stroke="#b8b8d8" stroke-width="1" stroke-dasharray="1 1.96"/>
<line x1="400.00" y1="191.22" x2="691.00" y2="191.22" stroke="#9a9ab8" stroke-width="1" stroke-dasharray="1 1.96"/>
<line x1="472.63" y1="4.50" x2="472.63" y2="198.50" stroke="#444" stroke-width="1" stroke-dasharray="1 1.93"/>
<line x1="618.80" y1="4.50" x2="618.80" y2="198.50" stroke="#444" stroke-width="1" stroke-dasharray="1 1.93"/>
<line x1="405.65" y1="96.65" x2="405.65" y2="55.91" stroke="#7e7ef2" stroke-width="0.95"/>
<line x1="403.85" y1="55.91" x2="407.45" y2="55.91" stroke="#7e7ef2" stroke-width="1.1"/>
<line x1="408.69" y1="142.72" x2="408.69" y2="111.44" stroke="#7e7ef2" stroke-width="0.95"/>
<line x1="406.89" y1="111.44" x2="410.49" y2="111.44" stroke="#7e7ef2" stroke-width="1.1"/>
<line x1="411.74" y1="137.88" x2="411.74" y2="125.99" stroke="#7e7ef2" stroke-width="0.95"/>
<line x1="409.94" y1="125.99" x2="413.54" y2="125.99" stroke="#7e7ef2" stroke-width="1.1"/>
<line x1="414.78" y1="152.18" x2="414.78" y2="133.75" stroke="#7e7ef2" stroke-width="0.95"/>
<line x1="412.98" y1="133.75" x2="416.58" y2="133.75" stroke="#7e7ef2" stroke-width="1.1"/>
<line x1="417.83" y1="154.12" x2="417.83" y2="133.03" stroke="#7e7ef2" stroke-width="0.95"/>
<line x1="416.03" y1="133.03" x2="419.63" y2="133.03" stroke="#7e7ef2" stroke-width="1.1"/>
<line x1="420.87" y1="153.15" x2="420.87" y2="130.12" stroke="#7e7ef2" stroke-width="0.95"/>
<line x1="419.07" y1="130.12" x2="422.67" y2="130.12" stroke="#7e7ef2" stroke-width="1.1"/>
<line x1="423.92" y1="154.12" x2="423.92" y2="128.18" stroke="#7e7ef2" stroke-width="0.95"/>
<line x1="422.12" y1="128.18" x2="425.72" y2="128.18" stroke="#7e7ef2" stroke-width="1.1"/>
<line x1="426.96" y1="155.09" x2="426.96" y2="131.08" stroke="#7e7ef2" stroke-width="0.95"/>
<line x1="425.16" y1="131.08" x2="428.76" y2="131.08" stroke="#7e7ef2" stroke-width="1.1"/>
<line x1="430.00" y1="153.15" x2="430.00" y2="123.57" stroke="#7e7ef2" stroke-width="0.95"/>
<line x1="428.20" y1="123.57" x2="431.81" y2="123.57" stroke="#7e7ef2" stroke-width="1.1"/>
<line x1="433.05" y1="153.15" x2="433.05" y2="123.81" stroke="#7e7ef2" stroke-width="0.95"/>
<line x1="431.25" y1="123.81" x2="434.85" y2="123.81" stroke="#7e7ef2" stroke-width="1.1"/>
<line x1="436.10" y1="150.97" x2="436.10" y2="127.45" stroke="#7e7ef2" stroke-width="0.95"/>
<line x1="434.30" y1="127.45" x2="437.90" y2="127.45" stroke="#7e7ef2" stroke-width="1.1"/>
<line x1="439.14" y1="153.64" x2="439.14" y2="130.12" stroke="#7e7ef2" stroke-width="0.95"/>
<line x1="437.34" y1="130.12" x2="440.94" y2="130.12" stroke="#7e7ef2" stroke-width="1.1"/>
<line x1="442.19" y1="151.21" x2="442.19" y2="118.23" stroke="#7e7ef2" stroke-width="0.95"/>
<line x1="440.38" y1="118.23" x2="443.99" y2="118.23" stroke="#7e7ef2" stroke-width="1.1"/>
<line x1="445.23" y1="149.27" x2="445.23" y2="109.50" stroke="#7e7ef2" stroke-width="0.95"/>
<line x1="443.43" y1="109.50" x2="447.03" y2="109.50" stroke="#7e7ef2" stroke-width="1.1"/>
<line x1="448.28" y1="150.97" x2="448.28" y2="127.45" stroke="#7e7ef2" stroke-width="0.95"/>
<line x1="446.48" y1="127.45" x2="450.08" y2="127.45" stroke="#7e7ef2" stroke-width="1.1"/>
<line x1="451.32" y1="149.27" x2="451.32" y2="121.63" stroke="#7e7ef2" stroke-width="0.95"/>
<line x1="449.52" y1="121.63" x2="453.12" y2="121.63" stroke="#7e7ef2" stroke-width="1.1"/>
<line x1="454.37" y1="150.24" x2="454.37" y2="129.14" stroke="#7e7ef2" stroke-width="0.95"/>
<line x1="452.56" y1="129.14" x2="456.17" y2="129.14" stroke="#7e7ef2" stroke-width="1.1"/>
<line x1="457.41" y1="146.36" x2="457.41" y2="119.20" stroke="#7e7ef2" stroke-width="0.95"/>
<line x1="455.61" y1="119.20" x2="459.21" y2="119.20" stroke="#7e7ef2" stroke-width="1.1"/>
<line x1="460.46" y1="149.27" x2="460.46" y2="116.78" stroke="#7e7ef2" stroke-width="0.95"/>
<line x1="458.66" y1="116.78" x2="462.26" y2="116.78" stroke="#7e7ef2" stroke-width="1.1"/>
<line x1="463.50" y1="146.36" x2="463.50" y2="120.66" stroke="#7e7ef2" stroke-width="0.95"/>
<line x1="461.70" y1="120.66" x2="465.30" y2="120.66" stroke="#7e7ef2" stroke-width="1.1"/>
<line x1="466.55" y1="145.15" x2="466.55" y2="122.60" stroke="#7e7ef2" stroke-width="0.95"/>
<line x1="464.75" y1="122.60" x2="468.35" y2="122.60" stroke="#7e7ef2" stroke-width="1.1"/>
<line x1="469.59" y1="144.66" x2="469.59" y2="124.05" stroke="#7e7ef2" stroke-width="0.95"/>
<line x1="467.79" y1="124.05" x2="471.39" y2="124.05" stroke="#7e7ef2" stroke-width="1.1"/>
<line x1="472.63" y1="144.66" x2="472.63" y2="125.99" stroke="#7e7ef2" stroke-width="0.95"/>
<line x1="470.83" y1="125.99" x2="474.44" y2="125.99" stroke="#7e7ef2" stroke-width="1.1"/>
<line x1="475.68" y1="143.69" x2="475.68" y2="118.23" stroke="#7e7ef2" stroke-width="0.95"/>
<line x1="473.88" y1="118.23" x2="477.48" y2="118.23" stroke="#7e7ef2" stroke-width="1.1"/>
<line x1="478.73" y1="145.88" x2="478.73" y2="114.59" stroke="#7e7ef2" stroke-width="0.95"/>
<line x1="476.93" y1="114.59" x2="480.53" y2="114.59" stroke="#7e7ef2" stroke-width="1.1"/>
<line x1="481.77" y1="147.33" x2="481.77" y2="118.23" stroke="#7e7ef2" stroke-width="0.95"/>
<line x1="479.97" y1="118.23" x2="483.57" y2="118.23" stroke="#7e7ef2" stroke-width="1.1"/>
<line x1="484.82" y1="147.82" x2="484.82" y2="126.48" stroke="#7e7ef2" stroke-width="0.95"/>
<line x1="483.02" y1="126.48" x2="486.62" y2="126.48" stroke="#7e7ef2" stroke-width="1.1"/>
<line x1="487.86" y1="149.27" x2="487.86" y2="134.48" stroke="#7e7ef2" stroke-width="0.95"/>
<line x1="486.06" y1="134.48" x2="489.66" y2="134.48" stroke="#7e7ef2" stroke-width="1.1"/>
<line x1="490.91" y1="152.18" x2="490.91" y2="137.39" stroke="#7e7ef2" stroke-width="0.95"/>
<line x1="489.11" y1="137.39" x2="492.71" y2="137.39" stroke="#7e7ef2" stroke-width="1.1"/>
<line x1="493.95" y1="156.06" x2="493.95" y2="134.48" stroke="#7e7ef2" stroke-width="0.95"/>
<line x1="492.15" y1="134.48" x2="495.75" y2="134.48" stroke="#7e7ef2" stroke-width="1.1"/>
<line x1="497.00" y1="158.00" x2="497.00" y2="122.60" stroke="#7e7ef2" stroke-width="0.95"/>
<line x1="495.19" y1="122.60" x2="498.80" y2="122.60" stroke="#7e7ef2" stroke-width="1.1"/>
<line x1="500.04" y1="159.94" x2="500.04" y2="140.78" stroke="#7e7ef2" stroke-width="0.95"/>
<line x1="498.24" y1="140.78" x2="501.84" y2="140.78" stroke="#7e7ef2" stroke-width="1.1"/>
<line x1="503.09" y1="161.16" x2="503.09" y2="152.67" stroke="#7e7ef2" stroke-width="0.95"/>
<line x1="501.29" y1="152.67" x2="504.89" y2="152.67" stroke="#7e7ef2" stroke-width="1.1"/>
<line x1="506.13" y1="162.61" x2="506.13" y2="155.09" stroke="#7e7ef2" stroke-width="0.95"/>
<line x1="504.33" y1="155.09" x2="507.93" y2="155.09" stroke="#7e7ef2" stroke-width="1.1"/>
<line x1="509.18" y1="164.06" x2="509.18" y2="155.58" stroke="#7e7ef2" stroke-width="0.95"/>
<line x1="507.38" y1="155.58" x2="510.98" y2="155.58" stroke="#7e7ef2" stroke-width="1.1"/>
<line x1="512.22" y1="165.52" x2="512.22" y2="159.94" stroke="#7e7ef2" stroke-width="0.95"/>
<line x1="510.42" y1="159.94" x2="514.02" y2="159.94" stroke="#7e7ef2" stroke-width="1.1"/>
<line x1="515.26" y1="166.49" x2="515.26" y2="161.88" stroke="#7e7ef2" stroke-width="0.95"/>
<line x1="513.47" y1="161.88" x2="517.06" y2="161.88" stroke="#7e7ef2" stroke-width="1.1"/>
<line x1="518.31" y1="168.43" x2="518.31" y2="154.61" stroke="#7e7ef2" stroke-width="0.95"/>
<line x1="516.51" y1="154.61" x2="520.11" y2="154.61" stroke="#7e7ef2" stroke-width="1.1"/>
<line x1="521.36" y1="171.34" x2="521.36" y2="162.37" stroke="#7e7ef2" stroke-width="0.95"/>
<line x1="519.56" y1="162.37" x2="523.15" y2="162.37" stroke="#7e7ef2" stroke-width="1.1"/>
<line x1="524.40" y1="171.34" x2="524.40" y2="162.37" stroke="#7e7ef2" stroke-width="0.95"/>
<line x1="522.60" y1="162.37" x2="526.20" y2="162.37" stroke="#7e7ef2" stroke-width="1.1"/>
<line x1="527.45" y1="169.88" x2="527.45" y2="157.28" stroke="#7e7ef2" stroke-width="0.95"/>
<line x1="525.65" y1="157.28" x2="529.25" y2="157.28" stroke="#7e7ef2" stroke-width="1.1"/>
<line x1="530.49" y1="171.34" x2="530.49" y2="158.00" stroke="#7e7ef2" stroke-width="0.95"/>
<line x1="528.69" y1="158.00" x2="532.29" y2="158.00" stroke="#7e7ef2" stroke-width="1.1"/>
<line x1="533.54" y1="173.76" x2="533.54" y2="161.88" stroke="#7e7ef2" stroke-width="0.95"/>
<line x1="531.74" y1="161.88" x2="535.34" y2="161.88" stroke="#7e7ef2" stroke-width="1.1"/>
<line x1="536.58" y1="174.25" x2="536.58" y2="161.88" stroke="#7e7ef2" stroke-width="0.95"/>
<line x1="534.78" y1="161.88" x2="538.38" y2="161.88" stroke="#7e7ef2" stroke-width="1.1"/>
<line x1="539.62" y1="175.22" x2="539.62" y2="164.55" stroke="#7e7ef2" stroke-width="0.95"/>
<line x1="537.83" y1="164.55" x2="541.42" y2="164.55" stroke="#7e7ef2" stroke-width="1.1"/>
<line x1="542.67" y1="177.16" x2="542.67" y2="165.28" stroke="#7e7ef2" stroke-width="0.95"/>
<line x1="540.87" y1="165.28" x2="544.47" y2="165.28" stroke="#7e7ef2" stroke-width="1.1"/>
<line x1="545.72" y1="177.16" x2="545.72" y2="165.03" stroke="#7e7ef2" stroke-width="0.95"/>
<line x1="543.92" y1="165.03" x2="547.51" y2="165.03" stroke="#7e7ef2" stroke-width="1.1"/>
<line x1="548.76" y1="178.13" x2="548.76" y2="166.97" stroke="#7e7ef2" stroke-width="0.95"/>
<line x1="546.96" y1="166.97" x2="550.56" y2="166.97" stroke="#7e7ef2" stroke-width="1.1"/>
<line x1="551.81" y1="175.46" x2="551.81" y2="165.03" stroke="#7e7ef2" stroke-width="0.95"/>
<line x1="550.01" y1="165.03" x2="553.61" y2="165.03" stroke="#7e7ef2" stroke-width="1.1"/>
<line x1="554.85" y1="176.19" x2="554.85" y2="168.19" stroke="#7e7ef2" stroke-width="0.95"/>
<line x1="553.05" y1="168.19" x2="556.65" y2="168.19" stroke="#7e7ef2" stroke-width="1.1"/>
<line x1="557.89" y1="176.68" x2="557.89" y2="167.22" stroke="#7e7ef2" stroke-width="0.95"/>
<line x1="556.10" y1="167.22" x2="559.69" y2="167.22" stroke="#7e7ef2" stroke-width="1.1"/>
<line x1="560.94" y1="177.89" x2="560.94" y2="161.16" stroke="#7e7ef2" stroke-width="0.95"/>
<line x1="559.14" y1="161.16" x2="562.74" y2="161.16" stroke="#7e7ef2" stroke-width="1.1"/>
<line x1="563.99" y1="174.25" x2="563.99" y2="144.42" stroke="#7e7ef2" stroke-width="0.95"/>
<line x1="562.19" y1="144.42" x2="565.78" y2="144.42" stroke="#7e7ef2" stroke-width="1.1"/>
<line x1="567.03" y1="178.37" x2="567.03" y2="162.61" stroke="#7e7ef2" stroke-width="0.95"/>
<line x1="565.23" y1="162.61" x2="568.83" y2="162.61" stroke="#7e7ef2" stroke-width="1.1"/>
<line x1="570.08" y1="176.19" x2="570.08" y2="161.40" stroke="#7e7ef2" stroke-width="0.95"/>
<line x1="568.28" y1="161.40" x2="571.88" y2="161.40" stroke="#7e7ef2" stroke-width="1.1"/>
<line x1="573.12" y1="174.74" x2="573.12" y2="162.12" stroke="#7e7ef2" stroke-width="0.95"/>
<line x1="571.32" y1="162.12" x2="574.92" y2="162.12" stroke="#7e7ef2" stroke-width="1.1"/>
<line x1="576.16" y1="178.13" x2="576.16" y2="166.25" stroke="#7e7ef2" stroke-width="0.95"/>
<line x1="574.37" y1="166.25" x2="577.96" y2="166.25" stroke="#7e7ef2" stroke-width="1.1"/>
<line x1="579.21" y1="176.68" x2="579.21" y2="163.34" stroke="#7e7ef2" stroke-width="0.95"/>
<line x1="577.41" y1="163.34" x2="581.01" y2="163.34" stroke="#7e7ef2" stroke-width="1.1"/>
<line x1="582.25" y1="180.07" x2="582.25" y2="171.34" stroke="#7e7ef2" stroke-width="0.95"/>
<line x1="580.46" y1="171.34" x2="584.05" y2="171.34" stroke="#7e7ef2" stroke-width="1.1"/>
<line x1="585.30" y1="180.07" x2="585.30" y2="166.25" stroke="#7e7ef2" stroke-width="0.95"/>
<line x1="583.50" y1="166.25" x2="587.10" y2="166.25" stroke="#7e7ef2" stroke-width="1.1"/>
<line x1="588.35" y1="177.65" x2="588.35" y2="172.31" stroke="#7e7ef2" stroke-width="0.95"/>
<line x1="586.55" y1="172.31" x2="590.14" y2="172.31" stroke="#7e7ef2" stroke-width="1.1"/>
<line x1="591.39" y1="177.16" x2="591.39" y2="167.46" stroke="#7e7ef2" stroke-width="0.95"/>
<line x1="589.59" y1="167.46" x2="593.19" y2="167.46" stroke="#7e7ef2" stroke-width="1.1"/>
<line x1="594.44" y1="178.37" x2="594.44" y2="167.46" stroke="#7e7ef2" stroke-width="0.95"/>
<line x1="592.64" y1="167.46" x2="596.24" y2="167.46" stroke="#7e7ef2" stroke-width="1.1"/>
<line x1="597.48" y1="179.10" x2="597.48" y2="173.28" stroke="#7e7ef2" stroke-width="0.95"/>
<line x1="595.68" y1="173.28" x2="599.28" y2="173.28" stroke="#7e7ef2" stroke-width="1.1"/>
<line x1="600.52" y1="180.07" x2="600.52" y2="172.31" stroke="#7e7ef2" stroke-width="0.95"/>
<line x1="598.73" y1="172.31" x2="602.32" y2="172.31" stroke="#7e7ef2" stroke-width="1.1"/>
<line x1="603.57" y1="180.07" x2="603.57" y2="177.16" stroke="#7e7ef2" stroke-width="0.95"/>
<line x1="601.77" y1="177.16" x2="605.37" y2="177.16" stroke="#7e7ef2" stroke-width="1.1"/>
<line x1="606.62" y1="180.07" x2="606.62" y2="170.85" stroke="#7e7ef2" stroke-width="0.95"/>
<line x1="604.82" y1="170.85" x2="608.41" y2="170.85" stroke="#7e7ef2" stroke-width="1.1"/>
<line x1="609.66" y1="177.65" x2="609.66" y2="171.34" stroke="#7e7ef2" stroke-width="0.95"/>
<line x1="607.86" y1="171.34" x2="611.46" y2="171.34" stroke="#7e7ef2" stroke-width="1.1"/>
<line x1="612.71" y1="178.13" x2="612.71" y2="173.28" stroke="#7e7ef2" stroke-width="0.95"/>
<line x1="610.91" y1="173.28" x2="614.50" y2="173.28" stroke="#7e7ef2" stroke-width="1.1"/>
<line x1="615.75" y1="178.37" x2="615.75" y2="171.34" stroke="#7e7ef2" stroke-width="0.95"/>
<line x1="613.95" y1="171.34" x2="617.55" y2="171.34" stroke="#7e7ef2" stroke-width="1.1"/>
<line x1="618.80" y1="179.10" x2="618.80" y2="171.34" stroke="#7e7ef2" stroke-width="0.95"/>
<line x1="617.00" y1="171.34" x2="620.60" y2="171.34" stroke="#7e7ef2" stroke-width="1.1"/>
<line x1="621.84" y1="178.37" x2="621.84" y2="168.91" stroke="#7e7ef2" stroke-width="0.95"/>
<line x1="620.04" y1="168.91" x2="623.64" y2="168.91" stroke="#7e7ef2" stroke-width="1.1"/>
<line x1="624.88" y1="179.59" x2="624.88" y2="175.22" stroke="#7e7ef2" stroke-width="0.95"/>
<line x1="623.09" y1="175.22" x2="626.68" y2="175.22" stroke="#7e7ef2" stroke-width="1.1"/>
<line x1="627.93" y1="179.59" x2="627.93" y2="175.22" stroke="#7e7ef2" stroke-width="0.95"/>
<line x1="626.13" y1="175.22" x2="629.73" y2="175.22" stroke="#7e7ef2" stroke-width="1.1"/>
<line x1="630.98" y1="175.70" x2="630.98" y2="172.55" stroke="#7e7ef2" stroke-width="0.95"/>
<line x1="629.18" y1="172.55" x2="632.77" y2="172.55" stroke="#7e7ef2" stroke-width="1.1"/>
<line x1="634.02" y1="174.25" x2="634.02" y2="172.55" stroke="#7e7ef2" stroke-width="0.95"/>
<line x1="632.22" y1="172.55" x2="635.82" y2="172.55" stroke="#7e7ef2" stroke-width="1.1"/>
<line x1="637.07" y1="174.25" x2="637.07" y2="161.64" stroke="#7e7ef2" stroke-width="0.95"/>
<line x1="635.27" y1="161.64" x2="638.87" y2="161.64" stroke="#7e7ef2" stroke-width="1.1"/>
<line x1="640.11" y1="175.22" x2="640.11" y2="162.37" stroke="#7e7ef2" stroke-width="0.95"/>
<line x1="638.31" y1="162.37" x2="641.91" y2="162.37" stroke="#7e7ef2" stroke-width="1.1"/>
<line x1="643.15" y1="178.37" x2="643.15" y2="168.19" stroke="#7e7ef2" stroke-width="0.95"/>
<line x1="641.36" y1="168.19" x2="644.95" y2="168.19" stroke="#7e7ef2" stroke-width="1.1"/>
<line x1="646.20" y1="179.59" x2="646.20" y2="173.76" stroke="#7e7ef2" stroke-width="0.95"/>
<line x1="644.40" y1="173.76" x2="648.00" y2="173.76" stroke="#7e7ef2" stroke-width="1.1"/>
<line x1="649.25" y1="179.59" x2="649.25" y2="175.70" stroke="#7e7ef2" stroke-width="0.95"/>
<line x1="647.45" y1="175.70" x2="651.04" y2="175.70" stroke="#7e7ef2" stroke-width="1.1"/>
<line x1="652.29" y1="177.16" x2="652.29" y2="172.31" stroke="#7e7ef2" stroke-width="0.95"/>
<line x1="650.49" y1="172.31" x2="654.09" y2="172.31" stroke="#7e7ef2" stroke-width="1.1"/>
<line x1="655.34" y1="176.19" x2="655.34" y2="162.37" stroke="#7e7ef2" stroke-width="0.95"/>
<line x1="653.54" y1="162.37" x2="657.13" y2="162.37" stroke="#7e7ef2" stroke-width="1.1"/>
<line x1="658.38" y1="176.19" x2="658.38" y2="169.40" stroke="#7e7ef2" stroke-width="0.95"/>
<line x1="656.58" y1="169.40" x2="660.18" y2="169.40" stroke="#7e7ef2" stroke-width="1.1"/>
<line x1="661.42" y1="175.22" x2="661.42" y2="170.13" stroke="#7e7ef2" stroke-width="0.95"/>
<line x1="659.62" y1="170.13" x2="663.22" y2="170.13" stroke="#7e7ef2" stroke-width="1.1"/>
<line x1="664.47" y1="178.13" x2="664.47" y2="171.82" stroke="#7e7ef2" stroke-width="0.95"/>
<line x1="662.67" y1="171.82" x2="666.27" y2="171.82" stroke="#7e7ef2" stroke-width="1.1"/>
<line x1="667.52" y1="180.80" x2="667.52" y2="173.28" stroke="#7e7ef2" stroke-width="0.95"/>
<line x1="665.72" y1="173.28" x2="669.32" y2="173.28" stroke="#7e7ef2" stroke-width="1.1"/>
<line x1="670.56" y1="181.77" x2="670.56" y2="168.91" stroke="#7e7ef2" stroke-width="0.95"/>
<line x1="668.76" y1="168.91" x2="672.36" y2="168.91" stroke="#7e7ef2" stroke-width="1.1"/>
<line x1="673.61" y1="180.07" x2="673.61" y2="168.91" stroke="#7e7ef2" stroke-width="0.95"/>
<line x1="671.81" y1="168.91" x2="675.40" y2="168.91" stroke="#7e7ef2" stroke-width="1.1"/>
<line x1="676.65" y1="178.37" x2="676.65" y2="177.16" stroke="#7e7ef2" stroke-width="0.95"/>
<line x1="674.85" y1="177.16" x2="678.45" y2="177.16" stroke="#7e7ef2" stroke-width="1.1"/>
<line x1="679.69" y1="174.25" x2="679.69" y2="164.31" stroke="#7e7ef2" stroke-width="0.95"/>
<line x1="677.89" y1="164.31" x2="681.49" y2="164.31" stroke="#7e7ef2" stroke-width="1.1"/>
<line x1="682.74" y1="169.40" x2="682.74" y2="157.28" stroke="#7e7ef2" stroke-width="0.95"/>
<line x1="680.94" y1="157.28" x2="684.54" y2="157.28" stroke="#7e7ef2" stroke-width="1.1"/>
<line x1="685.79" y1="168.43" x2="685.79" y2="161.64" stroke="#7e7ef2" stroke-width="0.95"/>
<line x1="683.99" y1="161.64" x2="687.59" y2="161.64" stroke="#7e7ef2" stroke-width="1.1"/>
<line x1="688.83" y1="174.25" x2="688.83" y2="166.25" stroke="#7e7ef2" stroke-width="0.95"/>
<line x1="687.03" y1="166.25" x2="690.63" y2="166.25" stroke="#7e7ef2" stroke-width="1.1"/>
<line x1="691.88" y1="169.40" x2="691.88" y2="168.19" stroke="#7e7ef2" stroke-width="0.95"/>
<line x1="690.08" y1="168.19" x2="693.67" y2="168.19" stroke="#7e7ef2" stroke-width="1.1"/>
<polyline points="402.60,45.24 405.65,96.65 408.69,142.72 411.74,137.88 414.78,152.18 417.83,154.12 420.87,153.15 423.92,154.12 426.96,155.09 430.00,153.15 433.05,153.15 436.10,150.97 439.14,153.64 442.19,151.21 445.23,149.27 448.28,150.97 451.32,149.27 454.37,150.24 457.41,146.36 460.46,149.27 463.50,146.36 466.55,145.15 469.59,144.66 472.63,144.66 475.68,143.69 478.73,145.88 481.77,147.33 484.82,147.82 487.86,149.27 490.91,152.18 493.95,156.06 497.00,158.00 500.04,159.94 503.09,161.16 506.13,162.61 509.18,164.06 512.22,165.52 515.26,166.49 518.31,168.43 521.36,171.34 524.40,171.34 527.45,169.88 530.49,171.34 533.54,173.76 536.58,174.25 539.62,175.22 542.67,177.16 545.72,177.16 548.76,178.13 551.81,175.46 554.85,176.19 557.89,176.68 560.94,177.89 563.99,174.25 567.03,178.37 570.08,176.19 573.12,174.74 576.16,178.13 579.21,176.68 582.25,180.07 585.30,180.07 588.35,177.65 591.39,177.16 594.44,178.37 597.48,179.10 600.52,180.07 603.57,180.07 606.62,180.07 609.66,177.65 612.71,178.13 615.75,178.37 618.80,179.10 621.84,178.37 624.88,179.59 627.93,179.59 630.98,175.70 634.02,174.25 637.07,174.25 640.11,175.22 643.15,178.37 646.20,179.59 649.25,179.59 652.29,177.16 655.34,176.19 658.38,176.19 661.42,175.22 664.47,178.13 667.52,180.80 670.56,181.77 673.61,180.07 676.65,178.37 679.69,174.25 682.74,169.40 685.79,168.43 688.83,174.25 691.88,169.40" fill="none" stroke="#5858ee" stroke-width="0.85" stroke-linejoin="round"/>
<line x1="405.65" y1="162.12" x2="405.65" y2="174.25" stroke="#ee7884" stroke-width="0.95"/>
<line x1="403.85" y1="174.25" x2="407.45" y2="174.25" stroke="#ee7884" stroke-width="1.1"/>
<line x1="408.69" y1="143.94" x2="408.69" y2="167.46" stroke="#ee7884" stroke-width="0.95"/>
<line x1="406.89" y1="167.46" x2="410.49" y2="167.46" stroke="#ee7884" stroke-width="1.1"/>
<line x1="411.74" y1="153.15" x2="411.74" y2="169.40" stroke="#ee7884" stroke-width="0.95"/>
<line x1="409.94" y1="169.40" x2="413.54" y2="169.40" stroke="#ee7884" stroke-width="1.1"/>
<line x1="414.78" y1="154.12" x2="414.78" y2="170.37" stroke="#ee7884" stroke-width="0.95"/>
<line x1="412.98" y1="170.37" x2="416.58" y2="170.37" stroke="#ee7884" stroke-width="1.1"/>
<line x1="417.83" y1="150.97" x2="417.83" y2="171.34" stroke="#ee7884" stroke-width="0.95"/>
<line x1="416.03" y1="171.34" x2="419.63" y2="171.34" stroke="#ee7884" stroke-width="1.1"/>
<line x1="420.87" y1="156.06" x2="420.87" y2="170.37" stroke="#ee7884" stroke-width="0.95"/>
<line x1="419.07" y1="170.37" x2="422.67" y2="170.37" stroke="#ee7884" stroke-width="1.1"/>
<line x1="423.92" y1="152.18" x2="423.92" y2="171.82" stroke="#ee7884" stroke-width="0.95"/>
<line x1="422.12" y1="171.82" x2="425.72" y2="171.82" stroke="#ee7884" stroke-width="1.1"/>
<line x1="426.96" y1="156.06" x2="426.96" y2="168.43" stroke="#ee7884" stroke-width="0.95"/>
<line x1="425.16" y1="168.43" x2="428.76" y2="168.43" stroke="#ee7884" stroke-width="1.1"/>
<line x1="430.00" y1="155.09" x2="430.00" y2="166.49" stroke="#ee7884" stroke-width="0.95"/>
<line x1="428.20" y1="166.49" x2="431.81" y2="166.49" stroke="#ee7884" stroke-width="1.1"/>
<line x1="433.05" y1="156.06" x2="433.05" y2="163.82" stroke="#ee7884" stroke-width="0.95"/>
<line x1="431.25" y1="163.82" x2="434.85" y2="163.82" stroke="#ee7884" stroke-width="1.1"/>
<line x1="436.10" y1="158.00" x2="436.10" y2="165.52" stroke="#ee7884" stroke-width="0.95"/>
<line x1="434.30" y1="165.52" x2="437.90" y2="165.52" stroke="#ee7884" stroke-width="1.1"/>
<line x1="439.14" y1="157.03" x2="439.14" y2="166.49" stroke="#ee7884" stroke-width="0.95"/>
<line x1="437.34" y1="166.49" x2="440.94" y2="166.49" stroke="#ee7884" stroke-width="1.1"/>
<line x1="442.19" y1="156.06" x2="442.19" y2="164.55" stroke="#ee7884" stroke-width="0.95"/>
<line x1="440.38" y1="164.55" x2="443.99" y2="164.55" stroke="#ee7884" stroke-width="1.1"/>
<line x1="445.23" y1="157.03" x2="445.23" y2="165.52" stroke="#ee7884" stroke-width="0.95"/>
<line x1="443.43" y1="165.52" x2="447.03" y2="165.52" stroke="#ee7884" stroke-width="1.1"/>
<line x1="448.28" y1="155.58" x2="448.28" y2="167.94" stroke="#ee7884" stroke-width="0.95"/>
<line x1="446.48" y1="167.94" x2="450.08" y2="167.94" stroke="#ee7884" stroke-width="1.1"/>
<line x1="451.32" y1="159.94" x2="451.32" y2="165.52" stroke="#ee7884" stroke-width="0.95"/>
<line x1="449.52" y1="165.52" x2="453.12" y2="165.52" stroke="#ee7884" stroke-width="1.1"/>
<line x1="454.37" y1="157.03" x2="454.37" y2="164.55" stroke="#ee7884" stroke-width="0.95"/>
<line x1="452.56" y1="164.55" x2="456.17" y2="164.55" stroke="#ee7884" stroke-width="1.1"/>
<line x1="457.41" y1="155.34" x2="457.41" y2="167.94" stroke="#ee7884" stroke-width="0.95"/>
<line x1="455.61" y1="167.94" x2="459.21" y2="167.94" stroke="#ee7884" stroke-width="1.1"/>
<line x1="460.46" y1="151.70" x2="460.46" y2="166.49" stroke="#ee7884" stroke-width="0.95"/>
<line x1="458.66" y1="166.49" x2="462.26" y2="166.49" stroke="#ee7884" stroke-width="1.1"/>
<line x1="463.50" y1="156.06" x2="463.50" y2="162.85" stroke="#ee7884" stroke-width="0.95"/>
<line x1="461.70" y1="162.85" x2="465.30" y2="162.85" stroke="#ee7884" stroke-width="1.1"/>
<line x1="466.55" y1="156.79" x2="466.55" y2="164.55" stroke="#ee7884" stroke-width="0.95"/>
<line x1="464.75" y1="164.55" x2="468.35" y2="164.55" stroke="#ee7884" stroke-width="1.1"/>
<line x1="469.59" y1="156.06" x2="469.59" y2="159.94" stroke="#ee7884" stroke-width="0.95"/>
<line x1="467.79" y1="159.94" x2="471.39" y2="159.94" stroke="#ee7884" stroke-width="1.1"/>
<line x1="472.63" y1="157.76" x2="472.63" y2="162.85" stroke="#ee7884" stroke-width="0.95"/>
<line x1="470.83" y1="162.85" x2="474.44" y2="162.85" stroke="#ee7884" stroke-width="1.1"/>
<line x1="475.68" y1="156.79" x2="475.68" y2="166.49" stroke="#ee7884" stroke-width="0.95"/>
<line x1="473.88" y1="166.49" x2="477.48" y2="166.49" stroke="#ee7884" stroke-width="1.1"/>
<line x1="478.73" y1="154.61" x2="478.73" y2="167.46" stroke="#ee7884" stroke-width="0.95"/>
<line x1="476.93" y1="167.46" x2="480.53" y2="167.46" stroke="#ee7884" stroke-width="1.1"/>
<line x1="481.77" y1="156.06" x2="481.77" y2="167.46" stroke="#ee7884" stroke-width="0.95"/>
<line x1="479.97" y1="167.46" x2="483.57" y2="167.46" stroke="#ee7884" stroke-width="1.1"/>
<line x1="484.82" y1="158.97" x2="484.82" y2="168.43" stroke="#ee7884" stroke-width="0.95"/>
<line x1="483.02" y1="168.43" x2="486.62" y2="168.43" stroke="#ee7884" stroke-width="1.1"/>
<line x1="487.86" y1="162.61" x2="487.86" y2="169.40" stroke="#ee7884" stroke-width="0.95"/>
<line x1="486.06" y1="169.40" x2="489.66" y2="169.40" stroke="#ee7884" stroke-width="1.1"/>
<line x1="490.91" y1="165.52" x2="490.91" y2="170.37" stroke="#ee7884" stroke-width="0.95"/>
<line x1="489.11" y1="170.37" x2="492.71" y2="170.37" stroke="#ee7884" stroke-width="1.1"/>
<line x1="493.95" y1="167.46" x2="493.95" y2="171.34" stroke="#ee7884" stroke-width="0.95"/>
<line x1="492.15" y1="171.34" x2="495.75" y2="171.34" stroke="#ee7884" stroke-width="1.1"/>
<line x1="497.00" y1="168.43" x2="497.00" y2="172.31" stroke="#ee7884" stroke-width="0.95"/>
<line x1="495.19" y1="172.31" x2="498.80" y2="172.31" stroke="#ee7884" stroke-width="1.1"/>
<line x1="500.04" y1="169.40" x2="500.04" y2="173.28" stroke="#ee7884" stroke-width="0.95"/>
<line x1="498.24" y1="173.28" x2="501.84" y2="173.28" stroke="#ee7884" stroke-width="1.1"/>
<line x1="503.09" y1="170.37" x2="503.09" y2="177.16" stroke="#ee7884" stroke-width="0.95"/>
<line x1="501.29" y1="177.16" x2="504.89" y2="177.16" stroke="#ee7884" stroke-width="1.1"/>
<line x1="506.13" y1="172.31" x2="506.13" y2="176.19" stroke="#ee7884" stroke-width="0.95"/>
<line x1="504.33" y1="176.19" x2="507.93" y2="176.19" stroke="#ee7884" stroke-width="1.1"/>
<line x1="509.18" y1="173.76" x2="509.18" y2="178.13" stroke="#ee7884" stroke-width="0.95"/>
<line x1="507.38" y1="178.13" x2="510.98" y2="178.13" stroke="#ee7884" stroke-width="1.1"/>
<line x1="512.22" y1="174.25" x2="512.22" y2="178.37" stroke="#ee7884" stroke-width="0.95"/>
<line x1="510.42" y1="178.37" x2="514.02" y2="178.37" stroke="#ee7884" stroke-width="1.1"/>
<line x1="515.26" y1="173.76" x2="515.26" y2="176.19" stroke="#ee7884" stroke-width="0.95"/>
<line x1="513.47" y1="176.19" x2="517.06" y2="176.19" stroke="#ee7884" stroke-width="1.1"/>
<line x1="518.31" y1="172.80" x2="518.31" y2="175.22" stroke="#ee7884" stroke-width="0.95"/>
<line x1="516.51" y1="175.22" x2="520.11" y2="175.22" stroke="#ee7884" stroke-width="1.1"/>
<line x1="521.36" y1="172.31" x2="521.36" y2="174.25" stroke="#ee7884" stroke-width="0.95"/>
<line x1="519.56" y1="174.25" x2="523.15" y2="174.25" stroke="#ee7884" stroke-width="1.1"/>
<line x1="524.40" y1="171.34" x2="524.40" y2="173.28" stroke="#ee7884" stroke-width="0.95"/>
<line x1="522.60" y1="173.28" x2="526.20" y2="173.28" stroke="#ee7884" stroke-width="1.1"/>
<line x1="527.45" y1="168.43" x2="527.45" y2="174.25" stroke="#ee7884" stroke-width="0.95"/>
<line x1="525.65" y1="174.25" x2="529.25" y2="174.25" stroke="#ee7884" stroke-width="1.1"/>
<line x1="530.49" y1="169.40" x2="530.49" y2="177.16" stroke="#ee7884" stroke-width="0.95"/>
<line x1="528.69" y1="177.16" x2="532.29" y2="177.16" stroke="#ee7884" stroke-width="1.1"/>
<line x1="533.54" y1="172.31" x2="533.54" y2="179.10" stroke="#ee7884" stroke-width="0.95"/>
<line x1="531.74" y1="179.10" x2="535.34" y2="179.10" stroke="#ee7884" stroke-width="1.1"/>
<line x1="536.58" y1="174.25" x2="536.58" y2="180.31" stroke="#ee7884" stroke-width="0.95"/>
<line x1="534.78" y1="180.31" x2="538.38" y2="180.31" stroke="#ee7884" stroke-width="1.1"/>
<line x1="539.62" y1="170.37" x2="539.62" y2="183.71" stroke="#ee7884" stroke-width="0.95"/>
<line x1="537.83" y1="183.71" x2="541.42" y2="183.71" stroke="#ee7884" stroke-width="1.1"/>
<line x1="542.67" y1="173.28" x2="542.67" y2="182.50" stroke="#ee7884" stroke-width="0.95"/>
<line x1="540.87" y1="182.50" x2="544.47" y2="182.50" stroke="#ee7884" stroke-width="1.1"/>
<line x1="545.72" y1="172.55" x2="545.72" y2="180.31" stroke="#ee7884" stroke-width="0.95"/>
<line x1="543.92" y1="180.31" x2="547.51" y2="180.31" stroke="#ee7884" stroke-width="1.1"/>
<line x1="548.76" y1="175.22" x2="548.76" y2="179.10" stroke="#ee7884" stroke-width="0.95"/>
<line x1="546.96" y1="179.10" x2="550.56" y2="179.10" stroke="#ee7884" stroke-width="1.1"/>
<line x1="551.81" y1="178.13" x2="551.81" y2="183.11" stroke="#ee7884" stroke-width="0.95"/>
<line x1="550.01" y1="183.11" x2="553.61" y2="183.11" stroke="#ee7884" stroke-width="1.1"/>
<line x1="554.85" y1="179.59" x2="554.85" y2="185.36" stroke="#ee7884" stroke-width="0.95"/>
<line x1="553.05" y1="185.36" x2="556.65" y2="185.36" stroke="#ee7884" stroke-width="1.1"/>
<line x1="557.89" y1="180.80" x2="557.89" y2="186.62" stroke="#ee7884" stroke-width="0.95"/>
<line x1="556.10" y1="186.62" x2="559.69" y2="186.62" stroke="#ee7884" stroke-width="1.1"/>
<line x1="560.94" y1="181.53" x2="560.94" y2="185.06" stroke="#ee7884" stroke-width="0.95"/>
<line x1="559.14" y1="185.06" x2="562.74" y2="185.06" stroke="#ee7884" stroke-width="1.1"/>
<line x1="563.99" y1="179.83" x2="563.99" y2="182.78" stroke="#ee7884" stroke-width="0.95"/>
<line x1="562.19" y1="182.78" x2="565.78" y2="182.78" stroke="#ee7884" stroke-width="1.1"/>
<line x1="567.03" y1="177.16" x2="567.03" y2="181.71" stroke="#ee7884" stroke-width="0.95"/>
<line x1="565.23" y1="181.71" x2="568.83" y2="181.71" stroke="#ee7884" stroke-width="1.1"/>
<line x1="570.08" y1="175.22" x2="570.08" y2="179.33" stroke="#ee7884" stroke-width="0.95"/>
<line x1="568.28" y1="179.33" x2="571.88" y2="179.33" stroke="#ee7884" stroke-width="1.1"/>
<line x1="573.12" y1="176.19" x2="573.12" y2="182.64" stroke="#ee7884" stroke-width="0.95"/>
<line x1="571.32" y1="182.64" x2="574.92" y2="182.64" stroke="#ee7884" stroke-width="1.1"/>
<line x1="576.16" y1="179.10" x2="576.16" y2="185.02" stroke="#ee7884" stroke-width="0.95"/>
<line x1="574.37" y1="185.02" x2="577.96" y2="185.02" stroke="#ee7884" stroke-width="1.1"/>
<line x1="579.21" y1="180.07" x2="579.21" y2="185.61" stroke="#ee7884" stroke-width="0.95"/>
<line x1="577.41" y1="185.61" x2="581.01" y2="185.61" stroke="#ee7884" stroke-width="1.1"/>
<line x1="582.25" y1="181.53" x2="582.25" y2="186.87" stroke="#ee7884" stroke-width="0.95"/>
<line x1="580.46" y1="186.87" x2="584.05" y2="186.87" stroke="#ee7884" stroke-width="1.1"/>
<line x1="585.30" y1="182.74" x2="585.30" y2="188.53" stroke="#ee7884" stroke-width="0.95"/>
<line x1="583.50" y1="188.53" x2="587.10" y2="188.53" stroke="#ee7884" stroke-width="1.1"/>
<line x1="588.35" y1="180.07" x2="588.35" y2="183.61" stroke="#ee7884" stroke-width="0.95"/>
<line x1="586.55" y1="183.61" x2="590.14" y2="183.61" stroke="#ee7884" stroke-width="1.1"/>
<line x1="591.39" y1="177.16" x2="591.39" y2="181.99" stroke="#ee7884" stroke-width="0.95"/>
<line x1="589.59" y1="181.99" x2="593.19" y2="181.99" stroke="#ee7884" stroke-width="1.1"/>
<line x1="594.44" y1="178.13" x2="594.44" y2="181.75" stroke="#ee7884" stroke-width="0.95"/>
<line x1="592.64" y1="181.75" x2="596.24" y2="181.75" stroke="#ee7884" stroke-width="1.1"/>
<line x1="597.48" y1="180.07" x2="597.48" y2="186.93" stroke="#ee7884" stroke-width="0.95"/>
<line x1="595.68" y1="186.93" x2="599.28" y2="186.93" stroke="#ee7884" stroke-width="1.1"/>
<line x1="600.52" y1="181.04" x2="600.52" y2="184.21" stroke="#ee7884" stroke-width="0.95"/>
<line x1="598.73" y1="184.21" x2="602.32" y2="184.21" stroke="#ee7884" stroke-width="1.1"/>
<line x1="603.57" y1="182.01" x2="603.57" y2="188.49" stroke="#ee7884" stroke-width="0.95"/>
<line x1="601.77" y1="188.49" x2="605.37" y2="188.49" stroke="#ee7884" stroke-width="1.1"/>
<line x1="606.62" y1="182.25" x2="606.62" y2="185.49" stroke="#ee7884" stroke-width="0.95"/>
<line x1="604.82" y1="185.49" x2="608.41" y2="185.49" stroke="#ee7884" stroke-width="1.1"/>
<line x1="609.66" y1="181.53" x2="609.66" y2="187.43" stroke="#ee7884" stroke-width="0.95"/>
<line x1="607.86" y1="187.43" x2="611.46" y2="187.43" stroke="#ee7884" stroke-width="1.1"/>
<line x1="612.71" y1="180.07" x2="612.71" y2="184.45" stroke="#ee7884" stroke-width="0.95"/>
<line x1="610.91" y1="184.45" x2="614.50" y2="184.45" stroke="#ee7884" stroke-width="1.1"/>
<line x1="615.75" y1="178.37" x2="615.75" y2="183.05" stroke="#ee7884" stroke-width="0.95"/>
<line x1="613.95" y1="183.05" x2="617.55" y2="183.05" stroke="#ee7884" stroke-width="1.1"/>
<line x1="618.80" y1="180.07" x2="618.80" y2="186.66" stroke="#ee7884" stroke-width="0.95"/>
<line x1="617.00" y1="186.66" x2="620.60" y2="186.66" stroke="#ee7884" stroke-width="1.1"/>
<line x1="621.84" y1="182.74" x2="621.84" y2="185.73" stroke="#ee7884" stroke-width="0.95"/>
<line x1="620.04" y1="185.73" x2="623.64" y2="185.73" stroke="#ee7884" stroke-width="1.1"/>
<line x1="624.88" y1="183.71" x2="624.88" y2="186.88" stroke="#ee7884" stroke-width="0.95"/>
<line x1="623.09" y1="186.88" x2="626.68" y2="186.88" stroke="#ee7884" stroke-width="1.1"/>
<line x1="627.93" y1="183.71" x2="627.93" y2="190.61" stroke="#ee7884" stroke-width="0.95"/>
<line x1="626.13" y1="190.61" x2="629.73" y2="190.61" stroke="#ee7884" stroke-width="1.1"/>
<line x1="630.98" y1="182.74" x2="630.98" y2="187.87" stroke="#ee7884" stroke-width="0.95"/>
<line x1="629.18" y1="187.87" x2="632.77" y2="187.87" stroke="#ee7884" stroke-width="1.1"/>
<line x1="634.02" y1="181.53" x2="634.02" y2="184.83" stroke="#ee7884" stroke-width="0.95"/>
<line x1="632.22" y1="184.83" x2="635.82" y2="184.83" stroke="#ee7884" stroke-width="1.1"/>
<line x1="637.07" y1="180.31" x2="637.07" y2="187.53" stroke="#ee7884" stroke-width="0.95"/>
<line x1="635.27" y1="187.53" x2="638.87" y2="187.53" stroke="#ee7884" stroke-width="1.1"/>
<line x1="640.11" y1="180.80" x2="640.11" y2="187.84" stroke="#ee7884" stroke-width="0.95"/>
<line x1="638.31" y1="187.84" x2="641.91" y2="187.84" stroke="#ee7884" stroke-width="1.1"/>
<line x1="643.15" y1="181.77" x2="643.15" y2="185.17" stroke="#ee7884" stroke-width="0.95"/>
<line x1="641.36" y1="185.17" x2="644.95" y2="185.17" stroke="#ee7884" stroke-width="1.1"/>
<line x1="646.20" y1="183.71" x2="646.20" y2="188.46" stroke="#ee7884" stroke-width="0.95"/>
<line x1="644.40" y1="188.46" x2="648.00" y2="188.46" stroke="#ee7884" stroke-width="1.1"/>
<line x1="649.25" y1="184.19" x2="649.25" y2="187.69" stroke="#ee7884" stroke-width="0.95"/>
<line x1="647.45" y1="187.69" x2="651.04" y2="187.69" stroke="#ee7884" stroke-width="1.1"/>
<line x1="652.29" y1="181.77" x2="652.29" y2="186.04" stroke="#ee7884" stroke-width="0.95"/>
<line x1="650.49" y1="186.04" x2="654.09" y2="186.04" stroke="#ee7884" stroke-width="1.1"/>
<line x1="655.34" y1="181.53" x2="655.34" y2="187.15" stroke="#ee7884" stroke-width="0.95"/>
<line x1="653.54" y1="187.15" x2="657.13" y2="187.15" stroke="#ee7884" stroke-width="1.1"/>
<line x1="658.38" y1="182.74" x2="658.38" y2="186.36" stroke="#ee7884" stroke-width="0.95"/>
<line x1="656.58" y1="186.36" x2="660.18" y2="186.36" stroke="#ee7884" stroke-width="1.1"/>
<line x1="661.42" y1="184.19" x2="661.42" y2="190.14" stroke="#ee7884" stroke-width="0.95"/>
<line x1="659.62" y1="190.14" x2="663.22" y2="190.14" stroke="#ee7884" stroke-width="1.1"/>
<line x1="664.47" y1="183.71" x2="664.47" y2="186.84" stroke="#ee7884" stroke-width="0.95"/>
<line x1="662.67" y1="186.84" x2="666.27" y2="186.84" stroke="#ee7884" stroke-width="1.1"/>
<line x1="667.52" y1="183.47" x2="667.52" y2="187.12" stroke="#ee7884" stroke-width="0.95"/>
<line x1="665.72" y1="187.12" x2="669.32" y2="187.12" stroke="#ee7884" stroke-width="1.1"/>
<line x1="670.56" y1="183.71" x2="670.56" y2="190.18" stroke="#ee7884" stroke-width="0.95"/>
<line x1="668.76" y1="190.18" x2="672.36" y2="190.18" stroke="#ee7884" stroke-width="1.1"/>
<line x1="673.61" y1="184.44" x2="673.61" y2="189.09" stroke="#ee7884" stroke-width="0.95"/>
<line x1="671.81" y1="189.09" x2="675.40" y2="189.09" stroke="#ee7884" stroke-width="1.1"/>
<line x1="676.65" y1="184.19" x2="676.65" y2="188.93" stroke="#ee7884" stroke-width="0.95"/>
<line x1="674.85" y1="188.93" x2="678.45" y2="188.93" stroke="#ee7884" stroke-width="1.1"/>
<line x1="679.69" y1="184.19" x2="679.69" y2="189.70" stroke="#ee7884" stroke-width="0.95"/>
<line x1="677.89" y1="189.70" x2="681.49" y2="189.70" stroke="#ee7884" stroke-width="1.1"/>
<line x1="682.74" y1="184.68" x2="682.74" y2="189.67" stroke="#ee7884" stroke-width="0.95"/>
<line x1="680.94" y1="189.67" x2="684.54" y2="189.67" stroke="#ee7884" stroke-width="1.1"/>
<line x1="685.79" y1="184.68" x2="685.79" y2="189.27" stroke="#ee7884" stroke-width="0.95"/>
<line x1="683.99" y1="189.27" x2="687.59" y2="189.27" stroke="#ee7884" stroke-width="1.1"/>
<line x1="688.83" y1="185.41" x2="688.83" y2="188.45" stroke="#ee7884" stroke-width="0.95"/>
<line x1="687.03" y1="188.45" x2="690.63" y2="188.45" stroke="#ee7884" stroke-width="1.1"/>
<line x1="691.88" y1="185.41" x2="691.88" y2="191.49" stroke="#ee7884" stroke-width="0.95"/>
<line x1="690.08" y1="191.49" x2="693.67" y2="191.49" stroke="#ee7884" stroke-width="1.1"/>
<polyline points="405.65,162.12 408.69,143.94 411.74,153.15 414.78,154.12 417.83,150.97 420.87,156.06 423.92,152.18 426.96,156.06 430.00,155.09 433.05,156.06 436.10,158.00 439.14,157.03 442.19,156.06 445.23,157.03 448.28,155.58 451.32,159.94 454.37,157.03 457.41,155.34 460.46,151.70 463.50,156.06 466.55,156.79 469.59,156.06 472.63,157.76 475.68,156.79 478.73,154.61 481.77,156.06 484.82,158.97 487.86,162.61 490.91,165.52 493.95,167.46 497.00,168.43 500.04,169.40 503.09,170.37 506.13,172.31 509.18,173.76 512.22,174.25 515.26,173.76 518.31,172.80 521.36,172.31 524.40,171.34 527.45,168.43 530.49,169.40 533.54,172.31 536.58,174.25 539.62,170.37 542.67,173.28 545.72,172.55 548.76,175.22 551.81,178.13 554.85,179.59 557.89,180.80 560.94,181.53 563.99,179.83 567.03,177.16 570.08,175.22 573.12,176.19 576.16,179.10 579.21,180.07 582.25,181.53 585.30,182.74 588.35,180.07 591.39,177.16 594.44,178.13 597.48,180.07 600.52,181.04 603.57,182.01 606.62,182.25 609.66,181.53 612.71,180.07 615.75,178.37 618.80,180.07 621.84,182.74 624.88,183.71 627.93,183.71 630.98,182.74 634.02,181.53 637.07,180.31 640.11,180.80 643.15,181.77 646.20,183.71 649.25,184.19 652.29,181.77 655.34,181.53 658.38,182.74 661.42,184.19 664.47,183.71 667.52,183.47 670.56,183.71 673.61,184.44 676.65,184.19 679.69,184.19 682.74,184.68 685.79,184.68 688.83,185.41 691.88,185.41" fill="none" stroke="#ea4d60" stroke-width="0.85" stroke-linejoin="round"/>
<line x1="399.5" y1="4.50" x2="399.5" y2="198.50" stroke="#7d7d7d" stroke-width="1"/>
<line x1="394.70" y1="198.50" x2="399.5" y2="198.50" stroke="#7d7d7d" stroke-width="1"/>
<text x="392.20" y="202.30" text-anchor="end" font-size="10.5" fill="#1e1e1e" stroke="#1e1e1e" stroke-width="0.25">0</text>
<line x1="394.70" y1="150.00" x2="399.5" y2="150.00" stroke="#7d7d7d" stroke-width="1"/>
<text x="392.20" y="153.80" text-anchor="end" font-size="10.5" fill="#1e1e1e" stroke="#1e1e1e" stroke-width="0.25">200</text>
<line x1="394.70" y1="101.50" x2="399.5" y2="101.50" stroke="#7d7d7d" stroke-width="1"/>
<text x="392.20" y="105.30" text-anchor="end" font-size="10.5" fill="#1e1e1e" stroke="#1e1e1e" stroke-width="0.25">400</text>
<line x1="394.70" y1="53.00" x2="399.5" y2="53.00" stroke="#7d7d7d" stroke-width="1"/>
<text x="392.20" y="56.80" text-anchor="end" font-size="10.5" fill="#1e1e1e" stroke="#1e1e1e" stroke-width="0.25">600</text>
<line x1="394.70" y1="4.50" x2="399.5" y2="4.50" stroke="#7d7d7d" stroke-width="1"/>
<text x="392.20" y="8.30" text-anchor="end" font-size="10.5" fill="#1e1e1e" stroke="#1e1e1e" stroke-width="0.25">800</text>
<line x1="395.00" y1="198.50" x2="691.00" y2="198.50" stroke="#7d7d7d" stroke-width="1.3"/>
<line x1="402.60" y1="198.50" x2="402.60" y2="203.20" stroke="#7d7d7d" stroke-width="1"/>
<text transform="translate(405.60,213.50) rotate(-45)" text-anchor="end" font-size="10.5" fill="#1e1e1e" stroke="#1e1e1e" stroke-width="0.25">0</text>
<line x1="433.05" y1="198.50" x2="433.05" y2="203.20" stroke="#7d7d7d" stroke-width="1"/>
<text transform="translate(436.05,213.50) rotate(-45)" text-anchor="end" font-size="10.5" fill="#1e1e1e" stroke="#1e1e1e" stroke-width="0.25">10</text>
<line x1="463.50" y1="198.50" x2="463.50" y2="203.20" stroke="#7d7d7d" stroke-width="1"/>
<text transform="translate(466.50,213.50) rotate(-45)" text-anchor="end" font-size="10.5" fill="#1e1e1e" stroke="#1e1e1e" stroke-width="0.25">20</text>
<line x1="493.95" y1="198.50" x2="493.95" y2="203.20" stroke="#7d7d7d" stroke-width="1"/>
<text transform="translate(496.95,213.50) rotate(-45)" text-anchor="end" font-size="10.5" fill="#1e1e1e" stroke="#1e1e1e" stroke-width="0.25">30</text>
<line x1="524.40" y1="198.50" x2="524.40" y2="203.20" stroke="#7d7d7d" stroke-width="1"/>
<text transform="translate(527.40,213.50) rotate(-45)" text-anchor="end" font-size="10.5" fill="#1e1e1e" stroke="#1e1e1e" stroke-width="0.25">40</text>
<line x1="554.85" y1="198.50" x2="554.85" y2="203.20" stroke="#7d7d7d" stroke-width="1"/>
<text transform="translate(557.85,213.50) rotate(-45)" text-anchor="end" font-size="10.5" fill="#1e1e1e" stroke="#1e1e1e" stroke-width="0.25">50</text>
<line x1="585.30" y1="198.50" x2="585.30" y2="203.20" stroke="#7d7d7d" stroke-width="1"/>
<text transform="translate(588.30,213.50) rotate(-45)" text-anchor="end" font-size="10.5" fill="#1e1e1e" stroke="#1e1e1e" stroke-width="0.25">60</text>
<line x1="615.75" y1="198.50" x2="615.75" y2="203.20" stroke="#7d7d7d" stroke-width="1"/>
<text transform="translate(618.75,213.50) rotate(-45)" text-anchor="end" font-size="10.5" fill="#1e1e1e" stroke="#1e1e1e" stroke-width="0.25">70</text>
<line x1="646.20" y1="198.50" x2="646.20" y2="203.20" stroke="#7d7d7d" stroke-width="1"/>
<text transform="translate(649.20,213.50) rotate(-45)" text-anchor="end" font-size="10.5" fill="#1e1e1e" stroke="#1e1e1e" stroke-width="0.25">80</text>
<line x1="676.65" y1="198.50" x2="676.65" y2="203.20" stroke="#7d7d7d" stroke-width="1"/>
<text transform="translate(679.65,213.50) rotate(-45)" text-anchor="end" font-size="10.5" fill="#1e1e1e" stroke="#1e1e1e" stroke-width="0.25">90</text>
<text x="424.8" y="12" font-size="10.2" fill="#1e1e1e" textLength="17.6" lengthAdjust="spacingAndGlyphs">TTM</text>
<text x="513.8" y="12" font-size="10.2" fill="#1e1e1e">Normothermia</text>
<text x="628.8" y="12" font-size="10.2" fill="#1e1e1e" textLength="47.8" lengthAdjust="spacingAndGlyphs">Prognosis</text>
<line x1="441.40" y1="36.10" x2="510.00" y2="36.10" stroke="#999" stroke-width="1.1"/>
<line x1="441.40" y1="34.80" x2="441.40" y2="37.40" stroke="#999" stroke-width="1"/>
<line x1="510.00" y1="34.80" x2="510.00" y2="37.40" stroke="#999" stroke-width="1"/>
<line x1="475.40" y1="19.70" x2="475.40" y2="27.70" stroke="#111" stroke-width="1.55"/>
<line x1="471.94" y1="21.70" x2="478.86" y2="25.70" stroke="#111" stroke-width="1.55"/>
<line x1="471.94" y1="25.70" x2="478.86" y2="21.70" stroke="#111" stroke-width="1.55"/>
<text transform="translate(366.60,102.60) rotate(-90)" text-anchor="middle" font-size="13.9" font-weight="bold" fill="#1e1e1e" stroke="#1e1e1e" stroke-width="0.3" textLength="92.5" lengthAdjust="spacing">Glycerol (μM)</text>
<rect x="39.10" y="415.64" width="291.90" height="12.92" fill="#c0c0fd"/>
<line x1="39.10" y1="415.64" x2="331.00" y2="415.64" stroke="#b0b0d8" stroke-width="1" stroke-dasharray="1 1.96"/>
<line x1="39.10" y1="428.56" x2="331.00" y2="428.56" stroke="#9a9ab8" stroke-width="1" stroke-dasharray="1 1.96"/>
<line x1="111.48" y1="260.60" x2="111.48" y2="454.40" stroke="#444" stroke-width="1" stroke-dasharray="1 1.93"/>
<line x1="257.74" y1="260.60" x2="257.74" y2="454.40" stroke="#444" stroke-width="1" stroke-dasharray="1 1.93"/>
<line x1="44.45" y1="362.86" x2="44.45" y2="276.80" stroke="#a8a8f7" stroke-width="0.9"/>
<line x1="42.65" y1="276.80" x2="46.25" y2="276.80" stroke="#a8a8f7" stroke-width="1.1"/>
<line x1="47.49" y1="373.68" x2="47.49" y2="334.44" stroke="#a8a8f7" stroke-width="0.9"/>
<line x1="45.69" y1="334.44" x2="49.29" y2="334.44" stroke="#a8a8f7" stroke-width="1.1"/>
<line x1="50.54" y1="368.27" x2="50.54" y2="339.31" stroke="#a8a8f7" stroke-width="0.9"/>
<line x1="48.74" y1="339.31" x2="52.34" y2="339.31" stroke="#a8a8f7" stroke-width="1.1"/>
<line x1="53.59" y1="376.39" x2="53.59" y2="339.31" stroke="#a8a8f7" stroke-width="0.9"/>
<line x1="51.79" y1="339.31" x2="55.39" y2="339.31" stroke="#a8a8f7" stroke-width="1.1"/>
<line x1="56.63" y1="370.98" x2="56.63" y2="324.97" stroke="#a8a8f7" stroke-width="0.9"/>
<line x1="54.84" y1="324.97" x2="58.43" y2="324.97" stroke="#a8a8f7" stroke-width="1.1"/>
<line x1="59.68" y1="377.74" x2="59.68" y2="324.97" stroke="#a8a8f7" stroke-width="0.9"/>
<line x1="57.88" y1="324.97" x2="61.48" y2="324.97" stroke="#a8a8f7" stroke-width="1.1"/>
<line x1="62.73" y1="368.27" x2="62.73" y2="344.46" stroke="#a8a8f7" stroke-width="0.9"/>
<line x1="60.93" y1="344.46" x2="64.53" y2="344.46" stroke="#a8a8f7" stroke-width="1.1"/>
<line x1="65.78" y1="372.33" x2="65.78" y2="347.16" stroke="#a8a8f7" stroke-width="0.9"/>
<line x1="63.98" y1="347.16" x2="67.58" y2="347.16" stroke="#a8a8f7" stroke-width="1.1"/>
<line x1="68.82" y1="376.39" x2="68.82" y2="337.96" stroke="#a8a8f7" stroke-width="0.9"/>
<line x1="67.02" y1="337.96" x2="70.62" y2="337.96" stroke="#a8a8f7" stroke-width="1.1"/>
<line x1="71.87" y1="373.68" x2="71.87" y2="339.04" stroke="#a8a8f7" stroke-width="0.9"/>
<line x1="70.07" y1="339.04" x2="73.67" y2="339.04" stroke="#a8a8f7" stroke-width="1.1"/>
<line x1="74.92" y1="379.10" x2="74.92" y2="338.50" stroke="#a8a8f7" stroke-width="0.9"/>
<line x1="73.12" y1="338.50" x2="76.72" y2="338.50" stroke="#a8a8f7" stroke-width="1.1"/>
<line x1="77.96" y1="381.80" x2="77.96" y2="345.27" stroke="#a8a8f7" stroke-width="0.9"/>
<line x1="76.16" y1="345.27" x2="79.76" y2="345.27" stroke="#a8a8f7" stroke-width="1.1"/>
<line x1="81.01" y1="379.10" x2="81.01" y2="331.74" stroke="#a8a8f7" stroke-width="0.9"/>
<line x1="79.21" y1="331.74" x2="82.81" y2="331.74" stroke="#a8a8f7" stroke-width="1.1"/>
<line x1="84.06" y1="377.74" x2="84.06" y2="331.74" stroke="#a8a8f7" stroke-width="0.9"/>
<line x1="82.26" y1="331.74" x2="85.86" y2="331.74" stroke="#a8a8f7" stroke-width="1.1"/>
<line x1="87.11" y1="373.68" x2="87.11" y2="337.15" stroke="#a8a8f7" stroke-width="0.9"/>
<line x1="85.31" y1="337.15" x2="88.91" y2="337.15" stroke="#a8a8f7" stroke-width="1.1"/>
<line x1="90.15" y1="376.39" x2="90.15" y2="338.50" stroke="#a8a8f7" stroke-width="0.9"/>
<line x1="88.35" y1="338.50" x2="91.95" y2="338.50" stroke="#a8a8f7" stroke-width="1.1"/>
<line x1="93.20" y1="370.98" x2="93.20" y2="351.49" stroke="#a8a8f7" stroke-width="0.9"/>
<line x1="91.40" y1="351.49" x2="95.00" y2="351.49" stroke="#a8a8f7" stroke-width="1.1"/>
<line x1="96.25" y1="379.10" x2="96.25" y2="344.46" stroke="#a8a8f7" stroke-width="0.9"/>
<line x1="94.45" y1="344.46" x2="98.05" y2="344.46" stroke="#a8a8f7" stroke-width="1.1"/>
<line x1="99.29" y1="383.16" x2="99.29" y2="363.67" stroke="#a8a8f7" stroke-width="0.9"/>
<line x1="97.49" y1="363.67" x2="101.09" y2="363.67" stroke="#a8a8f7" stroke-width="1.1"/>
<line x1="102.34" y1="387.22" x2="102.34" y2="363.67" stroke="#a8a8f7" stroke-width="0.9"/>
<line x1="100.54" y1="363.67" x2="104.14" y2="363.67" stroke="#a8a8f7" stroke-width="1.1"/>
<line x1="105.39" y1="388.57" x2="105.39" y2="366.11" stroke="#a8a8f7" stroke-width="0.9"/>
<line x1="103.59" y1="366.11" x2="107.19" y2="366.11" stroke="#a8a8f7" stroke-width="1.1"/>
<line x1="108.43" y1="392.63" x2="108.43" y2="365.02" stroke="#a8a8f7" stroke-width="0.9"/>
<line x1="106.63" y1="365.02" x2="110.23" y2="365.02" stroke="#a8a8f7" stroke-width="1.1"/>
<line x1="111.48" y1="391.28" x2="111.48" y2="360.15" stroke="#a8a8f7" stroke-width="0.9"/>
<line x1="109.68" y1="360.15" x2="113.28" y2="360.15" stroke="#a8a8f7" stroke-width="1.1"/>
<line x1="114.53" y1="392.63" x2="114.53" y2="364.21" stroke="#a8a8f7" stroke-width="0.9"/>
<line x1="112.73" y1="364.21" x2="116.33" y2="364.21" stroke="#a8a8f7" stroke-width="1.1"/>
<line x1="117.57" y1="389.92" x2="117.57" y2="360.69" stroke="#a8a8f7" stroke-width="0.9"/>
<line x1="115.77" y1="360.69" x2="119.37" y2="360.69" stroke="#a8a8f7" stroke-width="1.1"/>
<line x1="120.62" y1="392.63" x2="120.62" y2="362.86" stroke="#a8a8f7" stroke-width="0.9"/>
<line x1="118.82" y1="362.86" x2="122.42" y2="362.86" stroke="#a8a8f7" stroke-width="1.1"/>
<line x1="123.67" y1="388.57" x2="123.67" y2="358.80" stroke="#a8a8f7" stroke-width="0.9"/>
<line x1="121.87" y1="358.80" x2="125.47" y2="358.80" stroke="#a8a8f7" stroke-width="1.1"/>
<line x1="126.72" y1="393.98" x2="126.72" y2="366.38" stroke="#a8a8f7" stroke-width="0.9"/>
<line x1="124.92" y1="366.38" x2="128.52" y2="366.38" stroke="#a8a8f7" stroke-width="1.1"/>
<line x1="129.76" y1="392.63" x2="129.76" y2="376.39" stroke="#a8a8f7" stroke-width="0.9"/>
<line x1="127.96" y1="376.39" x2="131.56" y2="376.39" stroke="#a8a8f7" stroke-width="1.1"/>
<line x1="132.81" y1="395.33" x2="132.81" y2="379.10" stroke="#a8a8f7" stroke-width="0.9"/>
<line x1="131.01" y1="379.10" x2="134.61" y2="379.10" stroke="#a8a8f7" stroke-width="1.1"/>
<line x1="135.86" y1="392.63" x2="135.86" y2="368.27" stroke="#a8a8f7" stroke-width="0.9"/>
<line x1="134.06" y1="368.27" x2="137.66" y2="368.27" stroke="#a8a8f7" stroke-width="1.1"/>
<line x1="138.90" y1="396.69" x2="138.90" y2="357.45" stroke="#a8a8f7" stroke-width="0.9"/>
<line x1="137.10" y1="357.45" x2="140.70" y2="357.45" stroke="#a8a8f7" stroke-width="1.1"/>
<line x1="141.95" y1="393.98" x2="141.95" y2="358.80" stroke="#a8a8f7" stroke-width="0.9"/>
<line x1="140.15" y1="358.80" x2="143.75" y2="358.80" stroke="#a8a8f7" stroke-width="1.1"/>
<line x1="145.00" y1="395.33" x2="145.00" y2="369.62" stroke="#a8a8f7" stroke-width="0.9"/>
<line x1="143.20" y1="369.62" x2="146.80" y2="369.62" stroke="#a8a8f7" stroke-width="1.1"/>
<line x1="148.05" y1="398.04" x2="148.05" y2="362.32" stroke="#a8a8f7" stroke-width="0.9"/>
<line x1="146.25" y1="362.32" x2="149.85" y2="362.32" stroke="#a8a8f7" stroke-width="1.1"/>
<line x1="151.09" y1="398.04" x2="151.09" y2="369.62" stroke="#a8a8f7" stroke-width="0.9"/>
<line x1="149.29" y1="369.62" x2="152.89" y2="369.62" stroke="#a8a8f7" stroke-width="1.1"/>
<line x1="154.14" y1="396.69" x2="154.14" y2="377.74" stroke="#a8a8f7" stroke-width="0.9"/>
<line x1="152.34" y1="377.74" x2="155.94" y2="377.74" stroke="#a8a8f7" stroke-width="1.1"/>
<line x1="157.19" y1="400.75" x2="157.19" y2="383.16" stroke="#a8a8f7" stroke-width="0.9"/>
<line x1="155.39" y1="383.16" x2="158.99" y2="383.16" stroke="#a8a8f7" stroke-width="1.1"/>
<line x1="160.23" y1="402.10" x2="160.23" y2="385.86" stroke="#a8a8f7" stroke-width="0.9"/>
<line x1="158.43" y1="385.86" x2="162.03" y2="385.86" stroke="#a8a8f7" stroke-width="1.1"/>
<line x1="163.28" y1="404.81" x2="163.28" y2="379.10" stroke="#a8a8f7" stroke-width="0.9"/>
<line x1="161.48" y1="379.10" x2="165.08" y2="379.10" stroke="#a8a8f7" stroke-width="1.1"/>
<line x1="166.33" y1="403.45" x2="166.33" y2="373.68" stroke="#a8a8f7" stroke-width="0.9"/>
<line x1="164.53" y1="373.68" x2="168.13" y2="373.68" stroke="#a8a8f7" stroke-width="1.1"/>
<line x1="169.37" y1="406.16" x2="169.37" y2="380.45" stroke="#a8a8f7" stroke-width="0.9"/>
<line x1="167.57" y1="380.45" x2="171.17" y2="380.45" stroke="#a8a8f7" stroke-width="1.1"/>
<line x1="172.42" y1="404.81" x2="172.42" y2="373.68" stroke="#a8a8f7" stroke-width="0.9"/>
<line x1="170.62" y1="373.68" x2="174.22" y2="373.68" stroke="#a8a8f7" stroke-width="1.1"/>
<line x1="175.47" y1="404.81" x2="175.47" y2="388.57" stroke="#a8a8f7" stroke-width="0.9"/>
<line x1="173.67" y1="388.57" x2="177.27" y2="388.57" stroke="#a8a8f7" stroke-width="1.1"/>
<line x1="178.52" y1="407.51" x2="178.52" y2="376.39" stroke="#a8a8f7" stroke-width="0.9"/>
<line x1="176.72" y1="376.39" x2="180.32" y2="376.39" stroke="#a8a8f7" stroke-width="1.1"/>
<line x1="181.56" y1="403.45" x2="181.56" y2="366.38" stroke="#a8a8f7" stroke-width="0.9"/>
<line x1="179.76" y1="366.38" x2="183.36" y2="366.38" stroke="#a8a8f7" stroke-width="1.1"/>
<line x1="184.61" y1="404.81" x2="184.61" y2="380.45" stroke="#a8a8f7" stroke-width="0.9"/>
<line x1="182.81" y1="380.45" x2="186.41" y2="380.45" stroke="#a8a8f7" stroke-width="1.1"/>
<line x1="187.66" y1="403.45" x2="187.66" y2="373.68" stroke="#a8a8f7" stroke-width="0.9"/>
<line x1="185.86" y1="373.68" x2="189.46" y2="373.68" stroke="#a8a8f7" stroke-width="1.1"/>
<line x1="190.70" y1="402.10" x2="190.70" y2="367.73" stroke="#a8a8f7" stroke-width="0.9"/>
<line x1="188.90" y1="367.73" x2="192.50" y2="367.73" stroke="#a8a8f7" stroke-width="1.1"/>
<line x1="193.75" y1="398.04" x2="193.75" y2="387.22" stroke="#a8a8f7" stroke-width="0.9"/>
<line x1="191.95" y1="387.22" x2="195.55" y2="387.22" stroke="#a8a8f7" stroke-width="1.1"/>
<line x1="196.80" y1="403.45" x2="196.80" y2="363.67" stroke="#a8a8f7" stroke-width="0.9"/>
<line x1="195.00" y1="363.67" x2="198.60" y2="363.67" stroke="#a8a8f7" stroke-width="1.1"/>
<line x1="199.84" y1="402.91" x2="199.84" y2="372.33" stroke="#a8a8f7" stroke-width="0.9"/>
<line x1="198.04" y1="372.33" x2="201.64" y2="372.33" stroke="#a8a8f7" stroke-width="1.1"/>
<line x1="202.89" y1="404.00" x2="202.89" y2="370.44" stroke="#a8a8f7" stroke-width="0.9"/>
<line x1="201.09" y1="370.44" x2="204.69" y2="370.44" stroke="#a8a8f7" stroke-width="1.1"/>
<line x1="205.94" y1="403.45" x2="205.94" y2="379.10" stroke="#a8a8f7" stroke-width="0.9"/>
<line x1="204.14" y1="379.10" x2="207.74" y2="379.10" stroke="#a8a8f7" stroke-width="1.1"/>
<line x1="208.99" y1="403.45" x2="208.99" y2="383.16" stroke="#a8a8f7" stroke-width="0.9"/>
<line x1="207.19" y1="383.16" x2="210.79" y2="383.16" stroke="#a8a8f7" stroke-width="1.1"/>
<line x1="212.03" y1="402.10" x2="212.03" y2="392.63" stroke="#a8a8f7" stroke-width="0.9"/>
<line x1="210.23" y1="392.63" x2="213.83" y2="392.63" stroke="#a8a8f7" stroke-width="1.1"/>
<line x1="215.08" y1="411.57" x2="215.08" y2="390.46" stroke="#a8a8f7" stroke-width="0.9"/>
<line x1="213.28" y1="390.46" x2="216.88" y2="390.46" stroke="#a8a8f7" stroke-width="1.1"/>
<line x1="218.13" y1="410.22" x2="218.13" y2="389.92" stroke="#a8a8f7" stroke-width="0.9"/>
<line x1="216.33" y1="389.92" x2="219.93" y2="389.92" stroke="#a8a8f7" stroke-width="1.1"/>
<line x1="221.17" y1="410.22" x2="221.17" y2="373.68" stroke="#a8a8f7" stroke-width="0.9"/>
<line x1="219.37" y1="373.68" x2="222.97" y2="373.68" stroke="#a8a8f7" stroke-width="1.1"/>
<line x1="224.22" y1="410.22" x2="224.22" y2="389.92" stroke="#a8a8f7" stroke-width="0.9"/>
<line x1="222.42" y1="389.92" x2="226.02" y2="389.92" stroke="#a8a8f7" stroke-width="1.1"/>
<line x1="227.27" y1="403.45" x2="227.27" y2="389.38" stroke="#a8a8f7" stroke-width="0.9"/>
<line x1="225.47" y1="389.38" x2="229.07" y2="389.38" stroke="#a8a8f7" stroke-width="1.1"/>
<line x1="230.31" y1="410.22" x2="230.31" y2="389.92" stroke="#a8a8f7" stroke-width="0.9"/>
<line x1="228.51" y1="389.92" x2="232.11" y2="389.92" stroke="#a8a8f7" stroke-width="1.1"/>
<line x1="233.36" y1="411.57" x2="233.36" y2="396.69" stroke="#a8a8f7" stroke-width="0.9"/>
<line x1="231.56" y1="396.69" x2="235.16" y2="396.69" stroke="#a8a8f7" stroke-width="1.1"/>
<line x1="236.41" y1="410.22" x2="236.41" y2="392.63" stroke="#a8a8f7" stroke-width="0.9"/>
<line x1="234.61" y1="392.63" x2="238.21" y2="392.63" stroke="#a8a8f7" stroke-width="1.1"/>
<line x1="239.46" y1="406.16" x2="239.46" y2="387.22" stroke="#a8a8f7" stroke-width="0.9"/>
<line x1="237.66" y1="387.22" x2="241.26" y2="387.22" stroke="#a8a8f7" stroke-width="1.1"/>
<line x1="242.50" y1="403.45" x2="242.50" y2="389.92" stroke="#a8a8f7" stroke-width="0.9"/>
<line x1="240.70" y1="389.92" x2="244.30" y2="389.92" stroke="#a8a8f7" stroke-width="1.1"/>
<line x1="245.55" y1="400.75" x2="245.55" y2="390.46" stroke="#a8a8f7" stroke-width="0.9"/>
<line x1="243.75" y1="390.46" x2="247.35" y2="390.46" stroke="#a8a8f7" stroke-width="1.1"/>
<line x1="248.60" y1="404.81" x2="248.60" y2="382.34" stroke="#a8a8f7" stroke-width="0.9"/>
<line x1="246.80" y1="382.34" x2="250.40" y2="382.34" stroke="#a8a8f7" stroke-width="1.1"/>
<line x1="251.64" y1="403.45" x2="251.64" y2="398.04" stroke="#a8a8f7" stroke-width="0.9"/>
<line x1="249.84" y1="398.04" x2="253.44" y2="398.04" stroke="#a8a8f7" stroke-width="1.1"/>
<line x1="254.69" y1="396.69" x2="254.69" y2="367.73" stroke="#a8a8f7" stroke-width="0.9"/>
<line x1="252.89" y1="367.73" x2="256.49" y2="367.73" stroke="#a8a8f7" stroke-width="1.1"/>
<line x1="257.74" y1="415.63" x2="257.74" y2="403.45" stroke="#a8a8f7" stroke-width="0.9"/>
<line x1="255.94" y1="403.45" x2="259.54" y2="403.45" stroke="#a8a8f7" stroke-width="1.1"/>
<line x1="260.78" y1="407.51" x2="260.78" y2="385.05" stroke="#a8a8f7" stroke-width="0.9"/>
<line x1="258.98" y1="385.05" x2="262.58" y2="385.05" stroke="#a8a8f7" stroke-width="1.1"/>
<line x1="263.83" y1="410.22" x2="263.83" y2="395.33" stroke="#a8a8f7" stroke-width="0.9"/>
<line x1="262.03" y1="395.33" x2="265.63" y2="395.33" stroke="#a8a8f7" stroke-width="1.1"/>
<line x1="266.88" y1="406.16" x2="266.88" y2="389.92" stroke="#a8a8f7" stroke-width="0.9"/>
<line x1="265.08" y1="389.92" x2="268.68" y2="389.92" stroke="#a8a8f7" stroke-width="1.1"/>
<line x1="269.93" y1="408.87" x2="269.93" y2="379.10" stroke="#a8a8f7" stroke-width="0.9"/>
<line x1="268.12" y1="379.10" x2="271.73" y2="379.10" stroke="#a8a8f7" stroke-width="1.1"/>
<line x1="272.97" y1="404.81" x2="272.97" y2="389.38" stroke="#a8a8f7" stroke-width="0.9"/>
<line x1="271.17" y1="389.38" x2="274.77" y2="389.38" stroke="#a8a8f7" stroke-width="1.1"/>
<line x1="276.02" y1="407.51" x2="276.02" y2="380.45" stroke="#a8a8f7" stroke-width="0.9"/>
<line x1="274.22" y1="380.45" x2="277.82" y2="380.45" stroke="#a8a8f7" stroke-width="1.1"/>
<line x1="279.07" y1="404.81" x2="279.07" y2="377.74" stroke="#a8a8f7" stroke-width="0.9"/>
<line x1="277.27" y1="377.74" x2="280.87" y2="377.74" stroke="#a8a8f7" stroke-width="1.1"/>
<line x1="282.11" y1="406.16" x2="282.11" y2="381.80" stroke="#a8a8f7" stroke-width="0.9"/>
<line x1="280.31" y1="381.80" x2="283.91" y2="381.80" stroke="#a8a8f7" stroke-width="1.1"/>
<line x1="285.16" y1="406.16" x2="285.16" y2="395.33" stroke="#a8a8f7" stroke-width="0.9"/>
<line x1="283.36" y1="395.33" x2="286.96" y2="395.33" stroke="#a8a8f7" stroke-width="1.1"/>
<line x1="288.21" y1="408.87" x2="288.21" y2="392.63" stroke="#a8a8f7" stroke-width="0.9"/>
<line x1="286.41" y1="392.63" x2="290.01" y2="392.63" stroke="#a8a8f7" stroke-width="1.1"/>
<line x1="291.25" y1="406.16" x2="291.25" y2="380.99" stroke="#a8a8f7" stroke-width="0.9"/>
<line x1="289.45" y1="380.99" x2="293.05" y2="380.99" stroke="#a8a8f7" stroke-width="1.1"/>
<line x1="294.30" y1="407.51" x2="294.30" y2="383.97" stroke="#a8a8f7" stroke-width="0.9"/>
<line x1="292.50" y1="383.97" x2="296.10" y2="383.97" stroke="#a8a8f7" stroke-width="1.1"/>
<line x1="297.35" y1="403.45" x2="297.35" y2="379.10" stroke="#a8a8f7" stroke-width="0.9"/>
<line x1="295.55" y1="379.10" x2="299.15" y2="379.10" stroke="#a8a8f7" stroke-width="1.1"/>
<line x1="300.39" y1="407.51" x2="300.39" y2="395.33" stroke="#a8a8f7" stroke-width="0.9"/>
<line x1="298.59" y1="395.33" x2="302.19" y2="395.33" stroke="#a8a8f7" stroke-width="1.1"/>
<line x1="303.44" y1="408.87" x2="303.44" y2="379.10" stroke="#a8a8f7" stroke-width="0.9"/>
<line x1="301.64" y1="379.10" x2="305.24" y2="379.10" stroke="#a8a8f7" stroke-width="1.1"/>
<line x1="306.49" y1="411.57" x2="306.49" y2="393.17" stroke="#a8a8f7" stroke-width="0.9"/>
<line x1="304.69" y1="393.17" x2="308.29" y2="393.17" stroke="#a8a8f7" stroke-width="1.1"/>
<line x1="309.54" y1="416.99" x2="309.54" y2="385.05" stroke="#a8a8f7" stroke-width="0.9"/>
<line x1="307.74" y1="385.05" x2="311.34" y2="385.05" stroke="#a8a8f7" stroke-width="1.1"/>
<line x1="312.58" y1="419.69" x2="312.58" y2="396.69" stroke="#a8a8f7" stroke-width="0.9"/>
<line x1="310.78" y1="396.69" x2="314.38" y2="396.69" stroke="#a8a8f7" stroke-width="1.1"/>
<line x1="315.63" y1="421.04" x2="315.63" y2="398.04" stroke="#a8a8f7" stroke-width="0.9"/>
<line x1="313.83" y1="398.04" x2="317.43" y2="398.04" stroke="#a8a8f7" stroke-width="1.1"/>
<line x1="318.68" y1="422.40" x2="318.68" y2="390.46" stroke="#a8a8f7" stroke-width="0.9"/>
<line x1="316.88" y1="390.46" x2="320.48" y2="390.46" stroke="#a8a8f7" stroke-width="1.1"/>
<line x1="321.72" y1="418.34" x2="321.72" y2="393.98" stroke="#a8a8f7" stroke-width="0.9"/>
<line x1="319.92" y1="393.98" x2="323.52" y2="393.98" stroke="#a8a8f7" stroke-width="1.1"/>
<line x1="324.77" y1="414.28" x2="324.77" y2="385.05" stroke="#a8a8f7" stroke-width="0.9"/>
<line x1="322.97" y1="385.05" x2="326.57" y2="385.05" stroke="#a8a8f7" stroke-width="1.1"/>
<line x1="327.82" y1="415.63" x2="327.82" y2="385.05" stroke="#a8a8f7" stroke-width="0.9"/>
<line x1="326.02" y1="385.05" x2="329.62" y2="385.05" stroke="#a8a8f7" stroke-width="1.1"/>
<line x1="330.87" y1="415.63" x2="330.87" y2="389.38" stroke="#a8a8f7" stroke-width="0.9"/>
<line x1="329.06" y1="389.38" x2="332.67" y2="389.38" stroke="#a8a8f7" stroke-width="1.1"/>
<polyline points="41.40,312.79 44.45,362.86 47.49,373.68 50.54,368.27 53.59,376.39 56.63,370.98 59.68,377.74 62.73,368.27 65.78,372.33 68.82,376.39 71.87,373.68 74.92,379.10 77.96,381.80 81.01,379.10 84.06,377.74 87.11,373.68 90.15,376.39 93.20,370.98 96.25,379.10 99.29,383.16 102.34,387.22 105.39,388.57 108.43,392.63 111.48,391.28 114.53,392.63 117.57,389.92 120.62,392.63 123.67,388.57 126.72,393.98 129.76,392.63 132.81,395.33 135.86,392.63 138.90,396.69 141.95,393.98 145.00,395.33 148.05,398.04 151.09,398.04 154.14,396.69 157.19,400.75 160.23,402.10 163.28,404.81 166.33,403.45 169.37,406.16 172.42,404.81 175.47,404.81 178.52,407.51 181.56,403.45 184.61,404.81 187.66,403.45 190.70,402.10 193.75,398.04 196.80,403.45 199.84,402.91 202.89,404.00 205.94,403.45 208.99,403.45 212.03,402.10 215.08,411.57 218.13,410.22 221.17,410.22 224.22,410.22 227.27,403.45 230.31,410.22 233.36,411.57 236.41,410.22 239.46,406.16 242.50,403.45 245.55,400.75 248.60,404.81 251.64,403.45 254.69,396.69 257.74,415.63 260.78,407.51 263.83,410.22 266.88,406.16 269.93,408.87 272.97,404.81 276.02,407.51 279.07,404.81 282.11,406.16 285.16,406.16 288.21,408.87 291.25,406.16 294.30,407.51 297.35,403.45 300.39,407.51 303.44,408.87 306.49,411.57 309.54,416.99 312.58,419.69 315.63,421.04 318.68,422.40 321.72,418.34 324.77,414.28 327.82,415.63 330.87,415.63" fill="none" stroke="#7b7bf2" stroke-width="0.9" stroke-linejoin="round"/>
<line x1="44.45" y1="404.33" x2="44.45" y2="427.81" stroke="#f28a95" stroke-width="0.9"/>
<line x1="42.65" y1="427.81" x2="46.25" y2="427.81" stroke="#f28a95" stroke-width="1.1"/>
<line x1="47.49" y1="402.72" x2="47.49" y2="412.62" stroke="#f28a95" stroke-width="0.9"/>
<line x1="45.69" y1="412.62" x2="49.29" y2="412.62" stroke="#f28a95" stroke-width="1.1"/>
<line x1="50.54" y1="386.89" x2="50.54" y2="416.10" stroke="#f28a95" stroke-width="0.9"/>
<line x1="48.74" y1="416.10" x2="52.34" y2="416.10" stroke="#f28a95" stroke-width="1.1"/>
<line x1="53.59" y1="402.72" x2="53.59" y2="416.11" stroke="#f28a95" stroke-width="0.9"/>
<line x1="51.79" y1="416.11" x2="55.39" y2="416.11" stroke="#f28a95" stroke-width="1.1"/>
<line x1="56.63" y1="394.97" x2="56.63" y2="414.24" stroke="#f28a95" stroke-width="0.9"/>
<line x1="54.84" y1="414.24" x2="58.43" y2="414.24" stroke="#f28a95" stroke-width="1.1"/>
<line x1="59.68" y1="394.32" x2="59.68" y2="413.41" stroke="#f28a95" stroke-width="0.9"/>
<line x1="57.88" y1="413.41" x2="61.48" y2="413.41" stroke="#f28a95" stroke-width="1.1"/>
<line x1="62.73" y1="394.32" x2="62.73" y2="415.69" stroke="#f28a95" stroke-width="0.9"/>
<line x1="60.93" y1="415.69" x2="64.53" y2="415.69" stroke="#f28a95" stroke-width="1.1"/>
<line x1="65.78" y1="393.03" x2="65.78" y2="416.16" stroke="#f28a95" stroke-width="0.9"/>
<line x1="63.98" y1="416.16" x2="67.58" y2="416.16" stroke="#f28a95" stroke-width="1.1"/>
<line x1="68.82" y1="393.68" x2="68.82" y2="415.01" stroke="#f28a95" stroke-width="0.9"/>
<line x1="67.02" y1="415.01" x2="70.62" y2="415.01" stroke="#f28a95" stroke-width="1.1"/>
<line x1="71.87" y1="396.26" x2="71.87" y2="414.49" stroke="#f28a95" stroke-width="0.9"/>
<line x1="70.07" y1="414.49" x2="73.67" y2="414.49" stroke="#f28a95" stroke-width="1.1"/>
<line x1="74.92" y1="397.55" x2="74.92" y2="415.06" stroke="#f28a95" stroke-width="0.9"/>
<line x1="73.12" y1="415.06" x2="76.72" y2="415.06" stroke="#f28a95" stroke-width="1.1"/>
<line x1="77.96" y1="402.72" x2="77.96" y2="414.96" stroke="#f28a95" stroke-width="0.9"/>
<line x1="76.16" y1="414.96" x2="79.76" y2="414.96" stroke="#f28a95" stroke-width="1.1"/>
<line x1="81.01" y1="402.72" x2="81.01" y2="416.00" stroke="#f28a95" stroke-width="0.9"/>
<line x1="79.21" y1="416.00" x2="82.81" y2="416.00" stroke="#f28a95" stroke-width="1.1"/>
<line x1="84.06" y1="402.72" x2="84.06" y2="416.74" stroke="#f28a95" stroke-width="0.9"/>
<line x1="82.26" y1="416.74" x2="85.86" y2="416.74" stroke="#f28a95" stroke-width="1.1"/>
<line x1="87.11" y1="402.72" x2="87.11" y2="412.58" stroke="#f28a95" stroke-width="0.9"/>
<line x1="85.31" y1="412.58" x2="88.91" y2="412.58" stroke="#f28a95" stroke-width="1.1"/>
<line x1="90.15" y1="399.17" x2="90.15" y2="415.50" stroke="#f28a95" stroke-width="0.9"/>
<line x1="88.35" y1="415.50" x2="91.95" y2="415.50" stroke="#f28a95" stroke-width="1.1"/>
<line x1="93.20" y1="396.91" x2="93.20" y2="414.73" stroke="#f28a95" stroke-width="0.9"/>
<line x1="91.40" y1="414.73" x2="95.00" y2="414.73" stroke="#f28a95" stroke-width="1.1"/>
<line x1="96.25" y1="395.94" x2="96.25" y2="416.38" stroke="#f28a95" stroke-width="0.9"/>
<line x1="94.45" y1="416.38" x2="98.05" y2="416.38" stroke="#f28a95" stroke-width="1.1"/>
<line x1="99.29" y1="396.58" x2="99.29" y2="413.97" stroke="#f28a95" stroke-width="0.9"/>
<line x1="97.49" y1="413.97" x2="101.09" y2="413.97" stroke="#f28a95" stroke-width="1.1"/>
<line x1="102.34" y1="403.69" x2="102.34" y2="412.87" stroke="#f28a95" stroke-width="0.9"/>
<line x1="100.54" y1="412.87" x2="104.14" y2="412.87" stroke="#f28a95" stroke-width="1.1"/>
<line x1="105.39" y1="406.16" x2="105.39" y2="418.79" stroke="#f28a95" stroke-width="0.9"/>
<line x1="103.59" y1="418.79" x2="107.19" y2="418.79" stroke="#f28a95" stroke-width="1.1"/>
<line x1="108.43" y1="406.16" x2="108.43" y2="416.48" stroke="#f28a95" stroke-width="0.9"/>
<line x1="106.63" y1="416.48" x2="110.23" y2="416.48" stroke="#f28a95" stroke-width="1.1"/>
<line x1="111.48" y1="403.45" x2="111.48" y2="415.26" stroke="#f28a95" stroke-width="0.9"/>
<line x1="109.68" y1="415.26" x2="113.28" y2="415.26" stroke="#f28a95" stroke-width="1.1"/>
<line x1="114.53" y1="402.10" x2="114.53" y2="414.30" stroke="#f28a95" stroke-width="0.9"/>
<line x1="112.73" y1="414.30" x2="116.33" y2="414.30" stroke="#f28a95" stroke-width="1.1"/>
<line x1="117.57" y1="400.75" x2="117.57" y2="419.62" stroke="#f28a95" stroke-width="0.9"/>
<line x1="115.77" y1="419.62" x2="119.37" y2="419.62" stroke="#f28a95" stroke-width="1.1"/>
<line x1="120.62" y1="403.45" x2="120.62" y2="413.91" stroke="#f28a95" stroke-width="0.9"/>
<line x1="118.82" y1="413.91" x2="122.42" y2="413.91" stroke="#f28a95" stroke-width="1.1"/>
<line x1="123.67" y1="400.75" x2="123.67" y2="411.27" stroke="#f28a95" stroke-width="0.9"/>
<line x1="121.87" y1="411.27" x2="125.47" y2="411.27" stroke="#f28a95" stroke-width="1.1"/>
<line x1="126.72" y1="402.10" x2="126.72" y2="416.79" stroke="#f28a95" stroke-width="0.9"/>
<line x1="124.92" y1="416.79" x2="128.52" y2="416.79" stroke="#f28a95" stroke-width="1.1"/>
<line x1="129.76" y1="399.39" x2="129.76" y2="413.66" stroke="#f28a95" stroke-width="0.9"/>
<line x1="127.96" y1="413.66" x2="131.56" y2="413.66" stroke="#f28a95" stroke-width="1.1"/>
<line x1="132.81" y1="400.75" x2="132.81" y2="419.60" stroke="#f28a95" stroke-width="0.9"/>
<line x1="131.01" y1="419.60" x2="134.61" y2="419.60" stroke="#f28a95" stroke-width="1.1"/>
<line x1="135.86" y1="403.45" x2="135.86" y2="421.01" stroke="#f28a95" stroke-width="0.9"/>
<line x1="134.06" y1="421.01" x2="137.66" y2="421.01" stroke="#f28a95" stroke-width="1.1"/>
<line x1="138.90" y1="406.16" x2="138.90" y2="418.25" stroke="#f28a95" stroke-width="0.9"/>
<line x1="137.10" y1="418.25" x2="140.70" y2="418.25" stroke="#f28a95" stroke-width="1.1"/>
<line x1="141.95" y1="407.51" x2="141.95" y2="417.89" stroke="#f28a95" stroke-width="0.9"/>
<line x1="140.15" y1="417.89" x2="143.75" y2="417.89" stroke="#f28a95" stroke-width="1.1"/>
<line x1="145.00" y1="404.81" x2="145.00" y2="422.34" stroke="#f28a95" stroke-width="0.9"/>
<line x1="143.20" y1="422.34" x2="146.80" y2="422.34" stroke="#f28a95" stroke-width="1.1"/>
<line x1="148.05" y1="400.75" x2="148.05" y2="420.00" stroke="#f28a95" stroke-width="0.9"/>
<line x1="146.25" y1="420.00" x2="149.85" y2="420.00" stroke="#f28a95" stroke-width="1.1"/>
<line x1="151.09" y1="402.10" x2="151.09" y2="410.52" stroke="#f28a95" stroke-width="0.9"/>
<line x1="149.29" y1="410.52" x2="152.89" y2="410.52" stroke="#f28a95" stroke-width="1.1"/>
<line x1="154.14" y1="404.81" x2="154.14" y2="421.19" stroke="#f28a95" stroke-width="0.9"/>
<line x1="152.34" y1="421.19" x2="155.94" y2="421.19" stroke="#f28a95" stroke-width="1.1"/>
<line x1="157.19" y1="408.33" x2="157.19" y2="426.22" stroke="#f28a95" stroke-width="0.9"/>
<line x1="155.39" y1="426.22" x2="158.99" y2="426.22" stroke="#f28a95" stroke-width="1.1"/>
<line x1="160.23" y1="407.51" x2="160.23" y2="422.95" stroke="#f28a95" stroke-width="0.9"/>
<line x1="158.43" y1="422.95" x2="162.03" y2="422.95" stroke="#f28a95" stroke-width="1.1"/>
<line x1="163.28" y1="408.87" x2="163.28" y2="419.41" stroke="#f28a95" stroke-width="0.9"/>
<line x1="161.48" y1="419.41" x2="165.08" y2="419.41" stroke="#f28a95" stroke-width="1.1"/>
<line x1="166.33" y1="407.51" x2="166.33" y2="424.59" stroke="#f28a95" stroke-width="0.9"/>
<line x1="164.53" y1="424.59" x2="168.13" y2="424.59" stroke="#f28a95" stroke-width="1.1"/>
<line x1="169.37" y1="410.22" x2="169.37" y2="426.55" stroke="#f28a95" stroke-width="0.9"/>
<line x1="167.57" y1="426.55" x2="171.17" y2="426.55" stroke="#f28a95" stroke-width="1.1"/>
<line x1="172.42" y1="408.87" x2="172.42" y2="419.13" stroke="#f28a95" stroke-width="0.9"/>
<line x1="170.62" y1="419.13" x2="174.22" y2="419.13" stroke="#f28a95" stroke-width="1.1"/>
<line x1="175.47" y1="408.33" x2="175.47" y2="423.65" stroke="#f28a95" stroke-width="0.9"/>
<line x1="173.67" y1="423.65" x2="177.27" y2="423.65" stroke="#f28a95" stroke-width="1.1"/>
<line x1="178.52" y1="407.51" x2="178.52" y2="418.07" stroke="#f28a95" stroke-width="0.9"/>
<line x1="176.72" y1="418.07" x2="180.32" y2="418.07" stroke="#f28a95" stroke-width="1.1"/>
<line x1="181.56" y1="407.51" x2="181.56" y2="416.06" stroke="#f28a95" stroke-width="0.9"/>
<line x1="179.76" y1="416.06" x2="183.36" y2="416.06" stroke="#f28a95" stroke-width="1.1"/>
<line x1="184.61" y1="408.87" x2="184.61" y2="420.74" stroke="#f28a95" stroke-width="0.9"/>
<line x1="182.81" y1="420.74" x2="186.41" y2="420.74" stroke="#f28a95" stroke-width="1.1"/>
<line x1="187.66" y1="406.16" x2="187.66" y2="418.01" stroke="#f28a95" stroke-width="0.9"/>
<line x1="185.86" y1="418.01" x2="189.46" y2="418.01" stroke="#f28a95" stroke-width="1.1"/>
<line x1="190.70" y1="410.22" x2="190.70" y2="422.77" stroke="#f28a95" stroke-width="0.9"/>
<line x1="188.90" y1="422.77" x2="192.50" y2="422.77" stroke="#f28a95" stroke-width="1.1"/>
<line x1="193.75" y1="407.51" x2="193.75" y2="422.90" stroke="#f28a95" stroke-width="0.9"/>
<line x1="191.95" y1="422.90" x2="195.55" y2="422.90" stroke="#f28a95" stroke-width="1.1"/>
<line x1="196.80" y1="408.87" x2="196.80" y2="426.39" stroke="#f28a95" stroke-width="0.9"/>
<line x1="195.00" y1="426.39" x2="198.60" y2="426.39" stroke="#f28a95" stroke-width="1.1"/>
<line x1="199.84" y1="406.16" x2="199.84" y2="425.10" stroke="#f28a95" stroke-width="0.9"/>
<line x1="198.04" y1="425.10" x2="201.64" y2="425.10" stroke="#f28a95" stroke-width="1.1"/>
<line x1="202.89" y1="410.22" x2="202.89" y2="429.33" stroke="#f28a95" stroke-width="0.9"/>
<line x1="201.09" y1="429.33" x2="204.69" y2="429.33" stroke="#f28a95" stroke-width="1.1"/>
<line x1="205.94" y1="407.51" x2="205.94" y2="426.82" stroke="#f28a95" stroke-width="0.9"/>
<line x1="204.14" y1="426.82" x2="207.74" y2="426.82" stroke="#f28a95" stroke-width="1.1"/>
<line x1="208.99" y1="408.87" x2="208.99" y2="425.87" stroke="#f28a95" stroke-width="0.9"/>
<line x1="207.19" y1="425.87" x2="210.79" y2="425.87" stroke="#f28a95" stroke-width="1.1"/>
<line x1="212.03" y1="411.57" x2="212.03" y2="423.11" stroke="#f28a95" stroke-width="0.9"/>
<line x1="210.23" y1="423.11" x2="213.83" y2="423.11" stroke="#f28a95" stroke-width="1.1"/>
<line x1="215.08" y1="410.22" x2="215.08" y2="420.29" stroke="#f28a95" stroke-width="0.9"/>
<line x1="213.28" y1="420.29" x2="216.88" y2="420.29" stroke="#f28a95" stroke-width="1.1"/>
<line x1="218.13" y1="407.51" x2="218.13" y2="422.64" stroke="#f28a95" stroke-width="0.9"/>
<line x1="216.33" y1="422.64" x2="219.93" y2="422.64" stroke="#f28a95" stroke-width="1.1"/>
<line x1="221.17" y1="406.16" x2="221.17" y2="420.41" stroke="#f28a95" stroke-width="0.9"/>
<line x1="219.37" y1="420.41" x2="222.97" y2="420.41" stroke="#f28a95" stroke-width="1.1"/>
<line x1="224.22" y1="408.87" x2="224.22" y2="424.57" stroke="#f28a95" stroke-width="0.9"/>
<line x1="222.42" y1="424.57" x2="226.02" y2="424.57" stroke="#f28a95" stroke-width="1.1"/>
<line x1="227.27" y1="407.51" x2="227.27" y2="416.65" stroke="#f28a95" stroke-width="0.9"/>
<line x1="225.47" y1="416.65" x2="229.07" y2="416.65" stroke="#f28a95" stroke-width="1.1"/>
<line x1="230.31" y1="404.81" x2="230.31" y2="415.06" stroke="#f28a95" stroke-width="0.9"/>
<line x1="228.51" y1="415.06" x2="232.11" y2="415.06" stroke="#f28a95" stroke-width="1.1"/>
<line x1="233.36" y1="407.51" x2="233.36" y2="426.00" stroke="#f28a95" stroke-width="0.9"/>
<line x1="231.56" y1="426.00" x2="235.16" y2="426.00" stroke="#f28a95" stroke-width="1.1"/>
<line x1="236.41" y1="406.16" x2="236.41" y2="421.03" stroke="#f28a95" stroke-width="0.9"/>
<line x1="234.61" y1="421.03" x2="238.21" y2="421.03" stroke="#f28a95" stroke-width="1.1"/>
<line x1="239.46" y1="403.45" x2="239.46" y2="419.39" stroke="#f28a95" stroke-width="0.9"/>
<line x1="237.66" y1="419.39" x2="241.26" y2="419.39" stroke="#f28a95" stroke-width="1.1"/>
<line x1="242.50" y1="400.75" x2="242.50" y2="409.90" stroke="#f28a95" stroke-width="0.9"/>
<line x1="240.70" y1="409.90" x2="244.30" y2="409.90" stroke="#f28a95" stroke-width="1.1"/>
<line x1="245.55" y1="406.16" x2="245.55" y2="418.75" stroke="#f28a95" stroke-width="0.9"/>
<line x1="243.75" y1="418.75" x2="247.35" y2="418.75" stroke="#f28a95" stroke-width="1.1"/>
<line x1="248.60" y1="404.81" x2="248.60" y2="423.17" stroke="#f28a95" stroke-width="0.9"/>
<line x1="246.80" y1="423.17" x2="250.40" y2="423.17" stroke="#f28a95" stroke-width="1.1"/>
<line x1="251.64" y1="402.10" x2="251.64" y2="417.52" stroke="#f28a95" stroke-width="0.9"/>
<line x1="249.84" y1="417.52" x2="253.44" y2="417.52" stroke="#f28a95" stroke-width="1.1"/>
<line x1="254.69" y1="383.16" x2="254.69" y2="402.44" stroke="#f28a95" stroke-width="0.9"/>
<line x1="252.89" y1="402.44" x2="256.49" y2="402.44" stroke="#f28a95" stroke-width="1.1"/>
<line x1="257.74" y1="411.57" x2="257.74" y2="421.87" stroke="#f28a95" stroke-width="0.9"/>
<line x1="255.94" y1="421.87" x2="259.54" y2="421.87" stroke="#f28a95" stroke-width="1.1"/>
<line x1="260.78" y1="402.10" x2="260.78" y2="415.32" stroke="#f28a95" stroke-width="0.9"/>
<line x1="258.98" y1="415.32" x2="262.58" y2="415.32" stroke="#f28a95" stroke-width="1.1"/>
<line x1="263.83" y1="400.75" x2="263.83" y2="417.87" stroke="#f28a95" stroke-width="0.9"/>
<line x1="262.03" y1="417.87" x2="265.63" y2="417.87" stroke="#f28a95" stroke-width="1.1"/>
<line x1="266.88" y1="403.45" x2="266.88" y2="416.56" stroke="#f28a95" stroke-width="0.9"/>
<line x1="265.08" y1="416.56" x2="268.68" y2="416.56" stroke="#f28a95" stroke-width="1.1"/>
<line x1="269.93" y1="399.39" x2="269.93" y2="416.39" stroke="#f28a95" stroke-width="0.9"/>
<line x1="268.12" y1="416.39" x2="271.73" y2="416.39" stroke="#f28a95" stroke-width="1.1"/>
<line x1="272.97" y1="400.75" x2="272.97" y2="415.17" stroke="#f28a95" stroke-width="0.9"/>
<line x1="271.17" y1="415.17" x2="274.77" y2="415.17" stroke="#f28a95" stroke-width="1.1"/>
<line x1="276.02" y1="400.75" x2="276.02" y2="410.16" stroke="#f28a95" stroke-width="0.9"/>
<line x1="274.22" y1="410.16" x2="277.82" y2="410.16" stroke="#f28a95" stroke-width="1.1"/>
<line x1="279.07" y1="402.10" x2="279.07" y2="411.29" stroke="#f28a95" stroke-width="0.9"/>
<line x1="277.27" y1="411.29" x2="280.87" y2="411.29" stroke="#f28a95" stroke-width="1.1"/>
<line x1="282.11" y1="396.69" x2="282.11" y2="415.88" stroke="#f28a95" stroke-width="0.9"/>
<line x1="280.31" y1="415.88" x2="283.91" y2="415.88" stroke="#f28a95" stroke-width="1.1"/>
<line x1="285.16" y1="388.57" x2="285.16" y2="397.99" stroke="#f28a95" stroke-width="0.9"/>
<line x1="283.36" y1="397.99" x2="286.96" y2="397.99" stroke="#f28a95" stroke-width="1.1"/>
<line x1="288.21" y1="389.92" x2="288.21" y2="400.19" stroke="#f28a95" stroke-width="0.9"/>
<line x1="286.41" y1="400.19" x2="290.01" y2="400.19" stroke="#f28a95" stroke-width="1.1"/>
<line x1="291.25" y1="400.75" x2="291.25" y2="412.61" stroke="#f28a95" stroke-width="0.9"/>
<line x1="289.45" y1="412.61" x2="293.05" y2="412.61" stroke="#f28a95" stroke-width="1.1"/>
<line x1="294.30" y1="403.45" x2="294.30" y2="419.59" stroke="#f28a95" stroke-width="0.9"/>
<line x1="292.50" y1="419.59" x2="296.10" y2="419.59" stroke="#f28a95" stroke-width="1.1"/>
<line x1="297.35" y1="399.39" x2="297.35" y2="417.12" stroke="#f28a95" stroke-width="0.9"/>
<line x1="295.55" y1="417.12" x2="299.15" y2="417.12" stroke="#f28a95" stroke-width="1.1"/>
<line x1="300.39" y1="399.39" x2="300.39" y2="412.85" stroke="#f28a95" stroke-width="0.9"/>
<line x1="298.59" y1="412.85" x2="302.19" y2="412.85" stroke="#f28a95" stroke-width="1.1"/>
<line x1="303.44" y1="406.16" x2="303.44" y2="419.87" stroke="#f28a95" stroke-width="0.9"/>
<line x1="301.64" y1="419.87" x2="305.24" y2="419.87" stroke="#f28a95" stroke-width="1.1"/>
<line x1="306.49" y1="407.51" x2="306.49" y2="424.50" stroke="#f28a95" stroke-width="0.9"/>
<line x1="304.69" y1="424.50" x2="308.29" y2="424.50" stroke="#f28a95" stroke-width="1.1"/>
<line x1="309.54" y1="403.45" x2="309.54" y2="414.67" stroke="#f28a95" stroke-width="0.9"/>
<line x1="307.74" y1="414.67" x2="311.34" y2="414.67" stroke="#f28a95" stroke-width="1.1"/>
<line x1="312.58" y1="398.58" x2="312.58" y2="410.87" stroke="#f28a95" stroke-width="0.9"/>
<line x1="310.78" y1="410.87" x2="314.38" y2="410.87" stroke="#f28a95" stroke-width="1.1"/>
<line x1="315.63" y1="408.87" x2="315.63" y2="423.87" stroke="#f28a95" stroke-width="0.9"/>
<line x1="313.83" y1="423.87" x2="317.43" y2="423.87" stroke="#f28a95" stroke-width="1.1"/>
<line x1="318.68" y1="410.22" x2="318.68" y2="425.49" stroke="#f28a95" stroke-width="0.9"/>
<line x1="316.88" y1="425.49" x2="320.48" y2="425.49" stroke="#f28a95" stroke-width="1.1"/>
<line x1="321.72" y1="407.51" x2="321.72" y2="416.02" stroke="#f28a95" stroke-width="0.9"/>
<line x1="319.92" y1="416.02" x2="323.52" y2="416.02" stroke="#f28a95" stroke-width="1.1"/>
<line x1="324.77" y1="411.57" x2="324.77" y2="420.91" stroke="#f28a95" stroke-width="0.9"/>
<line x1="322.97" y1="420.91" x2="326.57" y2="420.91" stroke="#f28a95" stroke-width="1.1"/>
<line x1="327.82" y1="408.87" x2="327.82" y2="418.50" stroke="#f28a95" stroke-width="0.9"/>
<line x1="326.02" y1="418.50" x2="329.62" y2="418.50" stroke="#f28a95" stroke-width="1.1"/>
<line x1="330.87" y1="410.22" x2="330.87" y2="426.49" stroke="#f28a95" stroke-width="0.9"/>
<line x1="329.06" y1="426.49" x2="332.67" y2="426.49" stroke="#f28a95" stroke-width="1.1"/>
<polyline points="41.40,404.81 44.45,404.33 47.49,402.72 50.54,386.89 53.59,402.72 56.63,394.97 59.68,394.32 62.73,394.32 65.78,393.03 68.82,393.68 71.87,396.26 74.92,397.55 77.96,402.72 81.01,402.72 84.06,402.72 87.11,402.72 90.15,399.17 93.20,396.91 96.25,395.94 99.29,396.58 102.34,403.69 105.39,406.16 108.43,406.16 111.48,403.45 114.53,402.10 117.57,400.75 120.62,403.45 123.67,400.75 126.72,402.10 129.76,399.39 132.81,400.75 135.86,403.45 138.90,406.16 141.95,407.51 145.00,404.81 148.05,400.75 151.09,402.10 154.14,404.81 157.19,408.33 160.23,407.51 163.28,408.87 166.33,407.51 169.37,410.22 172.42,408.87 175.47,408.33 178.52,407.51 181.56,407.51 184.61,408.87 187.66,406.16 190.70,410.22 193.75,407.51 196.80,408.87 199.84,406.16 202.89,410.22 205.94,407.51 208.99,408.87 212.03,411.57 215.08,410.22 218.13,407.51 221.17,406.16 224.22,408.87 227.27,407.51 230.31,404.81 233.36,407.51 236.41,406.16 239.46,403.45 242.50,400.75 245.55,406.16 248.60,404.81 251.64,402.10 254.69,383.16 257.74,411.57 260.78,402.10 263.83,400.75 266.88,403.45 269.93,399.39 272.97,400.75 276.02,400.75 279.07,402.10 282.11,396.69 285.16,388.57 288.21,389.92 291.25,400.75 294.30,403.45 297.35,399.39 300.39,399.39 303.44,406.16 306.49,407.51 309.54,403.45 312.58,398.58 315.63,408.87 318.68,410.22 321.72,407.51 324.77,411.57 327.82,408.87 330.87,410.22" fill="none" stroke="#ee5a6a" stroke-width="0.9" stroke-linejoin="round"/>
<polyline points="41.40,404.66 44.45,425.98 47.49,407.56 50.54,414.99 53.59,408.86 56.63,423.39 59.68,406.60 62.73,413.06 65.78,421.45 68.82,421.78 71.87,415.64 74.92,418.22 77.96,421.13 81.01,429.21 84.06,417.90 87.11,418.87 90.15,414.99 93.20,423.07 96.25,417.90 99.29,418.87 102.34,417.90 105.39,422.10 108.43,425.98 111.48,418.87 114.53,417.90 117.57,418.87 120.62,418.34 123.67,416.44 126.72,419.69 129.76,415.63 132.81,418.34 135.86,416.99 138.90,414.28 141.95,416.99 145.00,415.63 148.05,411.57 151.09,414.28 154.14,412.93 157.19,411.57 160.23,414.28 163.28,416.99 166.33,411.57 169.37,414.28 172.42,415.63 175.47,418.34 178.52,416.99 181.56,415.63 184.61,419.69 187.66,418.34 190.70,415.63 193.75,416.99 196.80,414.28 199.84,418.34 202.89,419.69 205.94,422.40 208.99,418.34 212.03,419.69 215.08,427.81 218.13,426.46 221.17,421.04 224.22,419.69 227.27,416.99 230.31,421.04 233.36,419.69 236.41,422.40 239.46,418.34 242.50,416.99 245.55,415.63 248.60,419.69 251.64,416.99 254.69,415.63 257.74,415.63 260.78,414.28 263.83,416.99 266.88,415.63 269.93,418.34 272.97,414.28 276.02,415.63 279.07,416.99 282.11,414.28 285.16,412.93 288.21,412.93 291.25,412.93 294.30,412.93 297.35,411.57 300.39,412.93 303.44,412.93 306.49,411.57 309.54,412.38 312.58,412.38 315.63,412.38 318.68,412.38 321.72,412.38 324.77,412.38 327.82,415.63 330.87,412.93" fill="none" stroke="#ec5668" stroke-width="1.8" stroke-linejoin="round"/>
<polyline points="41.40,384.31 44.45,393.03 47.49,402.72 50.54,392.38 53.59,403.69 56.63,404.98 59.68,409.18 62.73,402.72 65.78,411.76 68.82,405.95 71.87,413.06 74.92,408.53 77.96,411.76 81.01,414.99 84.06,417.90 87.11,412.73 90.15,413.70 93.20,409.18 96.25,409.18 99.29,411.76 102.34,416.93 105.39,390.12 108.43,408.86 111.48,397.55 114.53,400.78 117.57,407.89 120.62,400.75 123.67,407.51 126.72,402.10 129.76,408.87 132.81,404.81 135.86,410.22 138.90,402.10 141.95,404.81 145.00,407.51 148.05,406.16 151.09,407.51 154.14,410.22 157.19,411.57 160.23,407.51 163.28,410.22 166.33,414.28 169.37,415.63 172.42,412.93 175.47,411.57 178.52,416.99 181.56,412.93 184.61,414.28 187.66,415.63 190.70,411.57 193.75,406.16 196.80,410.22 199.84,406.16 202.89,407.51 205.94,406.16 208.99,411.57 212.03,415.63 215.08,418.34 218.13,414.28 221.17,416.99 224.22,419.69 227.27,415.63 230.31,418.34 233.36,414.28 236.41,416.99 239.46,415.63 242.50,414.28 245.55,418.34 248.60,415.63 251.64,416.99 254.69,415.63 257.74,422.40 260.78,416.99 263.83,425.10 266.88,419.69 269.93,422.40 272.97,418.34 276.02,421.04 279.07,415.63 282.11,425.10 285.16,416.99 288.21,415.63 291.25,419.69 294.30,422.40 297.35,415.63 300.39,422.40 303.44,419.69 306.49,416.99 309.54,427.81 312.58,433.22 315.63,422.40 318.68,421.04 321.72,427.81 324.77,416.99 327.82,427.81 330.87,414.28" fill="none" stroke="#5c5cf0" stroke-width="1.8" stroke-linejoin="round"/>
<line x1="38.6" y1="260.60" x2="38.6" y2="454.40" stroke="#7d7d7d" stroke-width="1"/>
<line x1="38.6" y1="260.60" x2="38.6" y2="454.40" stroke="#333" stroke-width="1" stroke-dasharray="1 2"/>
<line x1="33.80" y1="454.40" x2="38.6" y2="454.40" stroke="#7d7d7d" stroke-width="1"/>
<text x="31.30" y="458.20" text-anchor="end" font-size="10.5" fill="#1e1e1e" stroke="#1e1e1e" stroke-width="0.25">0</text>
<line x1="33.80" y1="389.80" x2="38.6" y2="389.80" stroke="#7d7d7d" stroke-width="1"/>
<text x="31.30" y="393.60" text-anchor="end" font-size="10.5" fill="#1e1e1e" stroke="#1e1e1e" stroke-width="0.25">2</text>
<line x1="33.80" y1="325.20" x2="38.6" y2="325.20" stroke="#7d7d7d" stroke-width="1"/>
<text x="31.30" y="329.00" text-anchor="end" font-size="10.5" fill="#1e1e1e" stroke="#1e1e1e" stroke-width="0.25">4</text>
<line x1="33.80" y1="260.60" x2="38.6" y2="260.60" stroke="#7d7d7d" stroke-width="1"/>
<text x="31.30" y="264.40" text-anchor="end" font-size="10.5" fill="#1e1e1e" stroke="#1e1e1e" stroke-width="0.25">6</text>
<line x1="34.00" y1="454.40" x2="331.00" y2="454.40" stroke="#7d7d7d" stroke-width="1.3"/>
<line x1="41.40" y1="454.40" x2="41.40" y2="459.10" stroke="#7d7d7d" stroke-width="1"/>
<text transform="translate(44.40,469.40) rotate(-45)" text-anchor="end" font-size="10.5" fill="#1e1e1e" stroke="#1e1e1e" stroke-width="0.25">0</text>
<line x1="71.87" y1="454.40" x2="71.87" y2="459.10" stroke="#7d7d7d" stroke-width="1"/>
<text transform="translate(74.87,469.40) rotate(-45)" text-anchor="end" font-size="10.5" fill="#1e1e1e" stroke="#1e1e1e" stroke-width="0.25">10</text>
<line x1="102.34" y1="454.40" x2="102.34" y2="459.10" stroke="#7d7d7d" stroke-width="1"/>
<text transform="translate(105.34,469.40) rotate(-45)" text-anchor="end" font-size="10.5" fill="#1e1e1e" stroke="#1e1e1e" stroke-width="0.25">20</text>
<line x1="132.81" y1="454.40" x2="132.81" y2="459.10" stroke="#7d7d7d" stroke-width="1"/>
<text transform="translate(135.81,469.40) rotate(-45)" text-anchor="end" font-size="10.5" fill="#1e1e1e" stroke="#1e1e1e" stroke-width="0.25">30</text>
<line x1="163.28" y1="454.40" x2="163.28" y2="459.10" stroke="#7d7d7d" stroke-width="1"/>
<text transform="translate(166.28,469.40) rotate(-45)" text-anchor="end" font-size="10.5" fill="#1e1e1e" stroke="#1e1e1e" stroke-width="0.25">40</text>
<line x1="193.75" y1="454.40" x2="193.75" y2="459.10" stroke="#7d7d7d" stroke-width="1"/>
<text transform="translate(196.75,469.40) rotate(-45)" text-anchor="end" font-size="10.5" fill="#1e1e1e" stroke="#1e1e1e" stroke-width="0.25">50</text>
<line x1="224.22" y1="454.40" x2="224.22" y2="459.10" stroke="#7d7d7d" stroke-width="1"/>
<text transform="translate(227.22,469.40) rotate(-45)" text-anchor="end" font-size="10.5" fill="#1e1e1e" stroke="#1e1e1e" stroke-width="0.25">60</text>
<line x1="254.69" y1="454.40" x2="254.69" y2="459.10" stroke="#7d7d7d" stroke-width="1"/>
<text transform="translate(257.69,469.40) rotate(-45)" text-anchor="end" font-size="10.5" fill="#1e1e1e" stroke="#1e1e1e" stroke-width="0.25">70</text>
<line x1="285.16" y1="454.40" x2="285.16" y2="459.10" stroke="#7d7d7d" stroke-width="1"/>
<text transform="translate(288.16,469.40) rotate(-45)" text-anchor="end" font-size="10.5" fill="#1e1e1e" stroke="#1e1e1e" stroke-width="0.25">80</text>
<line x1="315.63" y1="454.40" x2="315.63" y2="459.10" stroke="#7d7d7d" stroke-width="1"/>
<text transform="translate(318.63,469.40) rotate(-45)" text-anchor="end" font-size="10.5" fill="#1e1e1e" stroke="#1e1e1e" stroke-width="0.25">90</text>
<line x1="42.20" y1="272.40" x2="111.40" y2="272.40" stroke="#444" stroke-width="1.1"/>
<line x1="42.20" y1="271.10" x2="42.20" y2="273.70" stroke="#444" stroke-width="1"/>
<line x1="111.40" y1="271.10" x2="111.40" y2="273.70" stroke="#444" stroke-width="1"/>
<line x1="76.50" y1="256.60" x2="76.50" y2="264.60" stroke="#111" stroke-width="1.55"/>
<line x1="73.04" y1="258.60" x2="79.96" y2="262.60" stroke="#111" stroke-width="1.55"/>
<line x1="73.04" y1="262.60" x2="79.96" y2="258.60" stroke="#111" stroke-width="1.55"/>
<text transform="translate(17.40,358.50) rotate(-90)" text-anchor="middle" font-size="13.9" font-weight="bold" fill="#1e1e1e" stroke="#1e1e1e" stroke-width="0.3" textLength="89" lengthAdjust="spacing">Lactate (mM)</text>
<line x1="64.1" y1="248.8" x2="84.9" y2="248.8" stroke="#f06a74" stroke-width="1.8"/>
<text x="96.8" y="252.6" font-size="10.2" fill="#1e1e1e">Lac<tspan font-size="7.2" dy="2.2">sys</tspan><tspan dy="-2.2"> CPC 1-2</tspan></text>
<line x1="201" y1="248.8" x2="221" y2="248.8" stroke="#6a6af0" stroke-width="1.8"/>
<text x="232.5" y="252.6" font-size="10.2" fill="#1e1e1e">Lac<tspan font-size="7.2" dy="2.2">sys</tspan><tspan dy="-2.2"> CPC 3-5</tspan></text>
<rect x="400.10" y="302.95" width="291.90" height="95.47" fill="#c0c0fd"/>
<line x1="400.10" y1="302.95" x2="692.00" y2="302.95" stroke="#a8a8c0" stroke-width="1" stroke-dasharray="1 1.96"/>
<line x1="472.63" y1="260.20" x2="472.63" y2="454.50" stroke="#444" stroke-width="1" stroke-dasharray="1 1.93"/>
<line x1="618.80" y1="260.20" x2="618.80" y2="454.50" stroke="#444" stroke-width="1" stroke-dasharray="1 1.93"/>
<line x1="405.65" y1="353.00" x2="405.65" y2="350.84" stroke="#7e7ef2" stroke-width="0.95"/>
<line x1="403.85" y1="350.84" x2="407.45" y2="350.84" stroke="#7e7ef2" stroke-width="1.1"/>
<line x1="408.69" y1="393.05" x2="408.69" y2="321.61" stroke="#7e7ef2" stroke-width="0.95"/>
<line x1="406.89" y1="321.61" x2="410.49" y2="321.61" stroke="#7e7ef2" stroke-width="1.1"/>
<line x1="411.74" y1="383.31" x2="411.74" y2="346.51" stroke="#7e7ef2" stroke-width="0.95"/>
<line x1="409.94" y1="346.51" x2="413.54" y2="346.51" stroke="#7e7ef2" stroke-width="1.1"/>
<line x1="414.78" y1="385.47" x2="414.78" y2="352.35" stroke="#7e7ef2" stroke-width="0.95"/>
<line x1="412.98" y1="352.35" x2="416.58" y2="352.35" stroke="#7e7ef2" stroke-width="1.1"/>
<line x1="417.83" y1="376.81" x2="417.83" y2="344.34" stroke="#7e7ef2" stroke-width="0.95"/>
<line x1="416.03" y1="344.34" x2="419.63" y2="344.34" stroke="#7e7ef2" stroke-width="1.1"/>
<line x1="420.87" y1="381.14" x2="420.87" y2="360.58" stroke="#7e7ef2" stroke-width="0.95"/>
<line x1="419.07" y1="360.58" x2="422.67" y2="360.58" stroke="#7e7ef2" stroke-width="1.1"/>
<line x1="423.92" y1="388.72" x2="423.92" y2="370.32" stroke="#7e7ef2" stroke-width="0.95"/>
<line x1="422.12" y1="370.32" x2="425.72" y2="370.32" stroke="#7e7ef2" stroke-width="1.1"/>
<line x1="426.96" y1="394.13" x2="426.96" y2="370.32" stroke="#7e7ef2" stroke-width="0.95"/>
<line x1="425.16" y1="370.32" x2="428.76" y2="370.32" stroke="#7e7ef2" stroke-width="1.1"/>
<line x1="430.00" y1="397.38" x2="430.00" y2="374.65" stroke="#7e7ef2" stroke-width="0.95"/>
<line x1="428.20" y1="374.65" x2="431.81" y2="374.65" stroke="#7e7ef2" stroke-width="1.1"/>
<line x1="433.05" y1="398.46" x2="433.05" y2="367.50" stroke="#7e7ef2" stroke-width="0.95"/>
<line x1="431.25" y1="367.50" x2="434.85" y2="367.50" stroke="#7e7ef2" stroke-width="1.1"/>
<line x1="436.10" y1="393.48" x2="436.10" y2="367.50" stroke="#7e7ef2" stroke-width="0.95"/>
<line x1="434.30" y1="367.50" x2="437.90" y2="367.50" stroke="#7e7ef2" stroke-width="1.1"/>
<line x1="439.14" y1="393.05" x2="439.14" y2="362.31" stroke="#7e7ef2" stroke-width="0.95"/>
<line x1="437.34" y1="362.31" x2="440.94" y2="362.31" stroke="#7e7ef2" stroke-width="1.1"/>
<line x1="442.19" y1="390.88" x2="442.19" y2="359.49" stroke="#7e7ef2" stroke-width="0.95"/>
<line x1="440.38" y1="359.49" x2="443.99" y2="359.49" stroke="#7e7ef2" stroke-width="1.1"/>
<line x1="445.23" y1="393.05" x2="445.23" y2="352.35" stroke="#7e7ef2" stroke-width="0.95"/>
<line x1="443.43" y1="352.35" x2="447.03" y2="352.35" stroke="#7e7ef2" stroke-width="1.1"/>
<line x1="448.28" y1="389.80" x2="448.28" y2="354.08" stroke="#7e7ef2" stroke-width="0.95"/>
<line x1="446.48" y1="354.08" x2="450.08" y2="354.08" stroke="#7e7ef2" stroke-width="1.1"/>
<line x1="451.32" y1="393.05" x2="451.32" y2="367.07" stroke="#7e7ef2" stroke-width="0.95"/>
<line x1="449.52" y1="367.07" x2="453.12" y2="367.07" stroke="#7e7ef2" stroke-width="1.1"/>
<line x1="454.37" y1="391.96" x2="454.37" y2="367.07" stroke="#7e7ef2" stroke-width="0.95"/>
<line x1="452.56" y1="367.07" x2="456.17" y2="367.07" stroke="#7e7ef2" stroke-width="1.1"/>
<line x1="457.41" y1="395.21" x2="457.41" y2="373.57" stroke="#7e7ef2" stroke-width="0.95"/>
<line x1="455.61" y1="373.57" x2="459.21" y2="373.57" stroke="#7e7ef2" stroke-width="1.1"/>
<line x1="460.46" y1="400.62" x2="460.46" y2="378.33" stroke="#7e7ef2" stroke-width="0.95"/>
<line x1="458.66" y1="378.33" x2="462.26" y2="378.33" stroke="#7e7ef2" stroke-width="1.1"/>
<line x1="463.50" y1="397.38" x2="463.50" y2="374.65" stroke="#7e7ef2" stroke-width="0.95"/>
<line x1="461.70" y1="374.65" x2="465.30" y2="374.65" stroke="#7e7ef2" stroke-width="1.1"/>
<line x1="466.55" y1="395.21" x2="466.55" y2="369.67" stroke="#7e7ef2" stroke-width="0.95"/>
<line x1="464.75" y1="369.67" x2="468.35" y2="369.67" stroke="#7e7ef2" stroke-width="1.1"/>
<line x1="469.59" y1="391.96" x2="469.59" y2="374.65" stroke="#7e7ef2" stroke-width="0.95"/>
<line x1="467.79" y1="374.65" x2="471.39" y2="374.65" stroke="#7e7ef2" stroke-width="1.1"/>
<line x1="472.63" y1="393.05" x2="472.63" y2="376.81" stroke="#7e7ef2" stroke-width="0.95"/>
<line x1="470.83" y1="376.81" x2="474.44" y2="376.81" stroke="#7e7ef2" stroke-width="1.1"/>
<line x1="475.68" y1="385.47" x2="475.68" y2="372.48" stroke="#7e7ef2" stroke-width="0.95"/>
<line x1="473.88" y1="372.48" x2="477.48" y2="372.48" stroke="#7e7ef2" stroke-width="1.1"/>
<line x1="478.73" y1="398.46" x2="478.73" y2="367.07" stroke="#7e7ef2" stroke-width="0.95"/>
<line x1="476.93" y1="367.07" x2="480.53" y2="367.07" stroke="#7e7ef2" stroke-width="1.1"/>
<line x1="481.77" y1="391.96" x2="481.77" y2="365.99" stroke="#7e7ef2" stroke-width="0.95"/>
<line x1="479.97" y1="365.99" x2="483.57" y2="365.99" stroke="#7e7ef2" stroke-width="1.1"/>
<line x1="484.82" y1="395.21" x2="484.82" y2="365.99" stroke="#7e7ef2" stroke-width="0.95"/>
<line x1="483.02" y1="365.99" x2="486.62" y2="365.99" stroke="#7e7ef2" stroke-width="1.1"/>
<line x1="487.86" y1="387.64" x2="487.86" y2="358.85" stroke="#7e7ef2" stroke-width="0.95"/>
<line x1="486.06" y1="358.85" x2="489.66" y2="358.85" stroke="#7e7ef2" stroke-width="1.1"/>
<line x1="490.91" y1="388.72" x2="490.91" y2="354.52" stroke="#7e7ef2" stroke-width="0.95"/>
<line x1="489.11" y1="354.52" x2="492.71" y2="354.52" stroke="#7e7ef2" stroke-width="1.1"/>
<line x1="493.95" y1="385.47" x2="493.95" y2="364.91" stroke="#7e7ef2" stroke-width="0.95"/>
<line x1="492.15" y1="364.91" x2="495.75" y2="364.91" stroke="#7e7ef2" stroke-width="1.1"/>
<line x1="497.00" y1="381.14" x2="497.00" y2="348.02" stroke="#7e7ef2" stroke-width="0.95"/>
<line x1="495.19" y1="348.02" x2="498.80" y2="348.02" stroke="#7e7ef2" stroke-width="1.1"/>
<line x1="500.04" y1="383.31" x2="500.04" y2="353.00" stroke="#7e7ef2" stroke-width="0.95"/>
<line x1="498.24" y1="353.00" x2="501.84" y2="353.00" stroke="#7e7ef2" stroke-width="1.1"/>
<line x1="503.09" y1="380.06" x2="503.09" y2="354.08" stroke="#7e7ef2" stroke-width="0.95"/>
<line x1="501.29" y1="354.08" x2="504.89" y2="354.08" stroke="#7e7ef2" stroke-width="1.1"/>
<line x1="506.13" y1="386.55" x2="506.13" y2="360.14" stroke="#7e7ef2" stroke-width="0.95"/>
<line x1="504.33" y1="360.14" x2="507.93" y2="360.14" stroke="#7e7ef2" stroke-width="1.1"/>
<line x1="509.18" y1="390.88" x2="509.18" y2="360.58" stroke="#7e7ef2" stroke-width="0.95"/>
<line x1="507.38" y1="360.58" x2="510.98" y2="360.58" stroke="#7e7ef2" stroke-width="1.1"/>
<line x1="512.22" y1="393.05" x2="512.22" y2="362.31" stroke="#7e7ef2" stroke-width="0.95"/>
<line x1="510.42" y1="362.31" x2="514.02" y2="362.31" stroke="#7e7ef2" stroke-width="1.1"/>
<line x1="515.26" y1="394.13" x2="515.26" y2="378.33" stroke="#7e7ef2" stroke-width="0.95"/>
<line x1="513.47" y1="378.33" x2="517.06" y2="378.33" stroke="#7e7ef2" stroke-width="1.1"/>
<line x1="518.31" y1="393.05" x2="518.31" y2="370.32" stroke="#7e7ef2" stroke-width="0.95"/>
<line x1="516.51" y1="370.32" x2="520.11" y2="370.32" stroke="#7e7ef2" stroke-width="1.1"/>
<line x1="521.36" y1="391.96" x2="521.36" y2="356.25" stroke="#7e7ef2" stroke-width="0.95"/>
<line x1="519.56" y1="356.25" x2="523.15" y2="356.25" stroke="#7e7ef2" stroke-width="1.1"/>
<line x1="524.40" y1="395.21" x2="524.40" y2="374.65" stroke="#7e7ef2" stroke-width="0.95"/>
<line x1="522.60" y1="374.65" x2="526.20" y2="374.65" stroke="#7e7ef2" stroke-width="1.1"/>
<line x1="527.45" y1="396.29" x2="527.45" y2="372.48" stroke="#7e7ef2" stroke-width="0.95"/>
<line x1="525.65" y1="372.48" x2="529.25" y2="372.48" stroke="#7e7ef2" stroke-width="1.1"/>
<line x1="530.49" y1="394.13" x2="530.49" y2="373.57" stroke="#7e7ef2" stroke-width="0.95"/>
<line x1="528.69" y1="373.57" x2="532.29" y2="373.57" stroke="#7e7ef2" stroke-width="1.1"/>
<line x1="533.54" y1="393.05" x2="533.54" y2="365.34" stroke="#7e7ef2" stroke-width="0.95"/>
<line x1="531.74" y1="365.34" x2="535.34" y2="365.34" stroke="#7e7ef2" stroke-width="1.1"/>
<line x1="536.58" y1="393.05" x2="536.58" y2="367.07" stroke="#7e7ef2" stroke-width="0.95"/>
<line x1="534.78" y1="367.07" x2="538.38" y2="367.07" stroke="#7e7ef2" stroke-width="1.1"/>
<line x1="539.62" y1="395.21" x2="539.62" y2="370.32" stroke="#7e7ef2" stroke-width="0.95"/>
<line x1="537.83" y1="370.32" x2="541.42" y2="370.32" stroke="#7e7ef2" stroke-width="1.1"/>
<line x1="542.67" y1="390.88" x2="542.67" y2="354.08" stroke="#7e7ef2" stroke-width="0.95"/>
<line x1="540.87" y1="354.08" x2="544.47" y2="354.08" stroke="#7e7ef2" stroke-width="1.1"/>
<line x1="545.72" y1="395.21" x2="545.72" y2="370.32" stroke="#7e7ef2" stroke-width="0.95"/>
<line x1="543.92" y1="370.32" x2="547.51" y2="370.32" stroke="#7e7ef2" stroke-width="1.1"/>
<line x1="548.76" y1="398.46" x2="548.76" y2="379.63" stroke="#7e7ef2" stroke-width="0.95"/>
<line x1="546.96" y1="379.63" x2="550.56" y2="379.63" stroke="#7e7ef2" stroke-width="1.1"/>
<line x1="551.81" y1="396.29" x2="551.81" y2="386.55" stroke="#7e7ef2" stroke-width="0.95"/>
<line x1="550.01" y1="386.55" x2="553.61" y2="386.55" stroke="#7e7ef2" stroke-width="1.1"/>
<line x1="554.85" y1="394.13" x2="554.85" y2="379.63" stroke="#7e7ef2" stroke-width="0.95"/>
<line x1="553.05" y1="379.63" x2="556.65" y2="379.63" stroke="#7e7ef2" stroke-width="1.1"/>
<line x1="557.89" y1="393.05" x2="557.89" y2="369.24" stroke="#7e7ef2" stroke-width="0.95"/>
<line x1="556.10" y1="369.24" x2="559.69" y2="369.24" stroke="#7e7ef2" stroke-width="1.1"/>
<line x1="560.94" y1="393.05" x2="560.94" y2="364.91" stroke="#7e7ef2" stroke-width="0.95"/>
<line x1="559.14" y1="364.91" x2="562.74" y2="364.91" stroke="#7e7ef2" stroke-width="1.1"/>
<line x1="563.99" y1="393.48" x2="563.99" y2="364.91" stroke="#7e7ef2" stroke-width="0.95"/>
<line x1="562.19" y1="364.91" x2="565.78" y2="364.91" stroke="#7e7ef2" stroke-width="1.1"/>
<line x1="567.03" y1="394.13" x2="567.03" y2="363.17" stroke="#7e7ef2" stroke-width="0.95"/>
<line x1="565.23" y1="363.17" x2="568.83" y2="363.17" stroke="#7e7ef2" stroke-width="1.1"/>
<line x1="570.08" y1="395.21" x2="570.08" y2="370.32" stroke="#7e7ef2" stroke-width="0.95"/>
<line x1="568.28" y1="370.32" x2="571.88" y2="370.32" stroke="#7e7ef2" stroke-width="1.1"/>
<line x1="573.12" y1="396.29" x2="573.12" y2="363.82" stroke="#7e7ef2" stroke-width="0.95"/>
<line x1="571.32" y1="363.82" x2="574.92" y2="363.82" stroke="#7e7ef2" stroke-width="1.1"/>
<line x1="576.16" y1="397.38" x2="576.16" y2="369.24" stroke="#7e7ef2" stroke-width="0.95"/>
<line x1="574.37" y1="369.24" x2="577.96" y2="369.24" stroke="#7e7ef2" stroke-width="1.1"/>
<line x1="579.21" y1="398.46" x2="579.21" y2="360.14" stroke="#7e7ef2" stroke-width="0.95"/>
<line x1="577.41" y1="360.14" x2="581.01" y2="360.14" stroke="#7e7ef2" stroke-width="1.1"/>
<line x1="582.25" y1="398.46" x2="582.25" y2="360.14" stroke="#7e7ef2" stroke-width="0.95"/>
<line x1="580.46" y1="360.14" x2="584.05" y2="360.14" stroke="#7e7ef2" stroke-width="1.1"/>
<line x1="585.30" y1="397.38" x2="585.30" y2="369.67" stroke="#7e7ef2" stroke-width="0.95"/>
<line x1="583.50" y1="369.67" x2="587.10" y2="369.67" stroke="#7e7ef2" stroke-width="1.1"/>
<line x1="588.35" y1="396.29" x2="588.35" y2="369.67" stroke="#7e7ef2" stroke-width="0.95"/>
<line x1="586.55" y1="369.67" x2="590.14" y2="369.67" stroke="#7e7ef2" stroke-width="1.1"/>
<line x1="591.39" y1="395.21" x2="591.39" y2="375.30" stroke="#7e7ef2" stroke-width="0.95"/>
<line x1="589.59" y1="375.30" x2="593.19" y2="375.30" stroke="#7e7ef2" stroke-width="1.1"/>
<line x1="594.44" y1="394.13" x2="594.44" y2="378.98" stroke="#7e7ef2" stroke-width="0.95"/>
<line x1="592.64" y1="378.98" x2="596.24" y2="378.98" stroke="#7e7ef2" stroke-width="1.1"/>
<line x1="597.48" y1="395.21" x2="597.48" y2="379.63" stroke="#7e7ef2" stroke-width="0.95"/>
<line x1="595.68" y1="379.63" x2="599.28" y2="379.63" stroke="#7e7ef2" stroke-width="1.1"/>
<line x1="600.52" y1="398.46" x2="600.52" y2="375.30" stroke="#7e7ef2" stroke-width="0.95"/>
<line x1="598.73" y1="375.30" x2="602.32" y2="375.30" stroke="#7e7ef2" stroke-width="1.1"/>
<line x1="603.57" y1="401.71" x2="603.57" y2="381.79" stroke="#7e7ef2" stroke-width="0.95"/>
<line x1="601.77" y1="381.79" x2="605.37" y2="381.79" stroke="#7e7ef2" stroke-width="1.1"/>
<line x1="606.62" y1="406.04" x2="606.62" y2="384.39" stroke="#7e7ef2" stroke-width="0.95"/>
<line x1="604.82" y1="384.39" x2="608.41" y2="384.39" stroke="#7e7ef2" stroke-width="1.1"/>
<line x1="609.66" y1="412.53" x2="609.66" y2="387.64" stroke="#7e7ef2" stroke-width="0.95"/>
<line x1="607.86" y1="387.64" x2="611.46" y2="387.64" stroke="#7e7ef2" stroke-width="1.1"/>
<line x1="612.71" y1="408.20" x2="612.71" y2="381.14" stroke="#7e7ef2" stroke-width="0.95"/>
<line x1="610.91" y1="381.14" x2="614.50" y2="381.14" stroke="#7e7ef2" stroke-width="1.1"/>
<line x1="615.75" y1="406.04" x2="615.75" y2="378.33" stroke="#7e7ef2" stroke-width="0.95"/>
<line x1="613.95" y1="378.33" x2="617.55" y2="378.33" stroke="#7e7ef2" stroke-width="1.1"/>
<line x1="618.80" y1="409.28" x2="618.80" y2="379.63" stroke="#7e7ef2" stroke-width="0.95"/>
<line x1="617.00" y1="379.63" x2="620.60" y2="379.63" stroke="#7e7ef2" stroke-width="1.1"/>
<line x1="621.84" y1="403.87" x2="621.84" y2="377.89" stroke="#7e7ef2" stroke-width="0.95"/>
<line x1="620.04" y1="377.89" x2="623.64" y2="377.89" stroke="#7e7ef2" stroke-width="1.1"/>
<line x1="624.88" y1="407.12" x2="624.88" y2="384.39" stroke="#7e7ef2" stroke-width="0.95"/>
<line x1="623.09" y1="384.39" x2="626.68" y2="384.39" stroke="#7e7ef2" stroke-width="1.1"/>
<line x1="627.93" y1="410.36" x2="627.93" y2="383.31" stroke="#7e7ef2" stroke-width="0.95"/>
<line x1="626.13" y1="383.31" x2="629.73" y2="383.31" stroke="#7e7ef2" stroke-width="1.1"/>
<line x1="630.98" y1="406.04" x2="630.98" y2="376.81" stroke="#7e7ef2" stroke-width="0.95"/>
<line x1="629.18" y1="376.81" x2="632.77" y2="376.81" stroke="#7e7ef2" stroke-width="1.1"/>
<line x1="634.02" y1="403.87" x2="634.02" y2="380.06" stroke="#7e7ef2" stroke-width="0.95"/>
<line x1="632.22" y1="380.06" x2="635.82" y2="380.06" stroke="#7e7ef2" stroke-width="1.1"/>
<line x1="637.07" y1="398.46" x2="637.07" y2="380.49" stroke="#7e7ef2" stroke-width="0.95"/>
<line x1="635.27" y1="380.49" x2="638.87" y2="380.49" stroke="#7e7ef2" stroke-width="1.1"/>
<line x1="640.11" y1="400.62" x2="640.11" y2="386.99" stroke="#7e7ef2" stroke-width="0.95"/>
<line x1="638.31" y1="386.99" x2="641.91" y2="386.99" stroke="#7e7ef2" stroke-width="1.1"/>
<line x1="643.15" y1="404.95" x2="643.15" y2="391.32" stroke="#7e7ef2" stroke-width="0.95"/>
<line x1="641.36" y1="391.32" x2="644.95" y2="391.32" stroke="#7e7ef2" stroke-width="1.1"/>
<line x1="646.20" y1="407.12" x2="646.20" y2="385.47" stroke="#7e7ef2" stroke-width="0.95"/>
<line x1="644.40" y1="385.47" x2="648.00" y2="385.47" stroke="#7e7ef2" stroke-width="1.1"/>
<line x1="649.25" y1="411.45" x2="649.25" y2="381.79" stroke="#7e7ef2" stroke-width="0.95"/>
<line x1="647.45" y1="381.79" x2="651.04" y2="381.79" stroke="#7e7ef2" stroke-width="1.1"/>
<line x1="652.29" y1="414.69" x2="652.29" y2="389.15" stroke="#7e7ef2" stroke-width="0.95"/>
<line x1="650.49" y1="389.15" x2="654.09" y2="389.15" stroke="#7e7ef2" stroke-width="1.1"/>
<line x1="655.34" y1="414.69" x2="655.34" y2="389.80" stroke="#7e7ef2" stroke-width="0.95"/>
<line x1="653.54" y1="389.80" x2="657.13" y2="389.80" stroke="#7e7ef2" stroke-width="1.1"/>
<line x1="658.38" y1="413.61" x2="658.38" y2="390.88" stroke="#7e7ef2" stroke-width="0.95"/>
<line x1="656.58" y1="390.88" x2="660.18" y2="390.88" stroke="#7e7ef2" stroke-width="1.1"/>
<line x1="661.42" y1="410.36" x2="661.42" y2="384.82" stroke="#7e7ef2" stroke-width="0.95"/>
<line x1="659.62" y1="384.82" x2="663.22" y2="384.82" stroke="#7e7ef2" stroke-width="1.1"/>
<line x1="664.47" y1="411.45" x2="664.47" y2="390.45" stroke="#7e7ef2" stroke-width="0.95"/>
<line x1="662.67" y1="390.45" x2="666.27" y2="390.45" stroke="#7e7ef2" stroke-width="1.1"/>
<line x1="667.52" y1="421.19" x2="667.52" y2="387.64" stroke="#7e7ef2" stroke-width="0.95"/>
<line x1="665.72" y1="387.64" x2="669.32" y2="387.64" stroke="#7e7ef2" stroke-width="1.1"/>
<line x1="670.56" y1="414.69" x2="670.56" y2="384.82" stroke="#7e7ef2" stroke-width="0.95"/>
<line x1="668.76" y1="384.82" x2="672.36" y2="384.82" stroke="#7e7ef2" stroke-width="1.1"/>
<line x1="673.61" y1="410.36" x2="673.61" y2="384.82" stroke="#7e7ef2" stroke-width="0.95"/>
<line x1="671.81" y1="384.82" x2="675.40" y2="384.82" stroke="#7e7ef2" stroke-width="1.1"/>
<line x1="676.65" y1="421.19" x2="676.65" y2="386.55" stroke="#7e7ef2" stroke-width="0.95"/>
<line x1="674.85" y1="386.55" x2="678.45" y2="386.55" stroke="#7e7ef2" stroke-width="1.1"/>
<line x1="679.69" y1="424.43" x2="679.69" y2="394.78" stroke="#7e7ef2" stroke-width="0.95"/>
<line x1="677.89" y1="394.78" x2="681.49" y2="394.78" stroke="#7e7ef2" stroke-width="1.1"/>
<line x1="682.74" y1="430.93" x2="682.74" y2="410.36" stroke="#7e7ef2" stroke-width="0.95"/>
<line x1="680.94" y1="410.36" x2="684.54" y2="410.36" stroke="#7e7ef2" stroke-width="1.1"/>
<line x1="685.79" y1="419.02" x2="685.79" y2="401.27" stroke="#7e7ef2" stroke-width="0.95"/>
<line x1="683.99" y1="401.27" x2="687.59" y2="401.27" stroke="#7e7ef2" stroke-width="1.1"/>
<line x1="688.83" y1="423.35" x2="688.83" y2="405.60" stroke="#7e7ef2" stroke-width="0.95"/>
<line x1="687.03" y1="405.60" x2="690.63" y2="405.60" stroke="#7e7ef2" stroke-width="1.1"/>
<line x1="691.88" y1="421.19" x2="691.88" y2="402.14" stroke="#7e7ef2" stroke-width="0.95"/>
<line x1="690.08" y1="402.14" x2="693.67" y2="402.14" stroke="#7e7ef2" stroke-width="1.1"/>
<polyline points="402.60,354.08 405.65,353.00 408.69,393.05 411.74,383.31 414.78,385.47 417.83,376.81 420.87,381.14 423.92,388.72 426.96,394.13 430.00,397.38 433.05,398.46 436.10,393.48 439.14,393.05 442.19,390.88 445.23,393.05 448.28,389.80 451.32,393.05 454.37,391.96 457.41,395.21 460.46,400.62 463.50,397.38 466.55,395.21 469.59,391.96 472.63,393.05 475.68,385.47 478.73,398.46 481.77,391.96 484.82,395.21 487.86,387.64 490.91,388.72 493.95,385.47 497.00,381.14 500.04,383.31 503.09,380.06 506.13,386.55 509.18,390.88 512.22,393.05 515.26,394.13 518.31,393.05 521.36,391.96 524.40,395.21 527.45,396.29 530.49,394.13 533.54,393.05 536.58,393.05 539.62,395.21 542.67,390.88 545.72,395.21 548.76,398.46 551.81,396.29 554.85,394.13 557.89,393.05 560.94,393.05 563.99,393.48 567.03,394.13 570.08,395.21 573.12,396.29 576.16,397.38 579.21,398.46 582.25,398.46 585.30,397.38 588.35,396.29 591.39,395.21 594.44,394.13 597.48,395.21 600.52,398.46 603.57,401.71 606.62,406.04 609.66,412.53 612.71,408.20 615.75,406.04 618.80,409.28 621.84,403.87 624.88,407.12 627.93,410.36 630.98,406.04 634.02,403.87 637.07,398.46 640.11,400.62 643.15,404.95 646.20,407.12 649.25,411.45 652.29,414.69 655.34,414.69 658.38,413.61 661.42,410.36 664.47,411.45 667.52,421.19 670.56,414.69 673.61,410.36 676.65,421.19 679.69,424.43 682.74,430.93 685.79,419.02 688.83,423.35 691.88,421.19" fill="none" stroke="#5858ee" stroke-width="0.85" stroke-linejoin="round"/>
<line x1="405.65" y1="387.64" x2="405.65" y2="399.97" stroke="#ee7884" stroke-width="0.95"/>
<line x1="403.85" y1="399.97" x2="407.45" y2="399.97" stroke="#ee7884" stroke-width="1.1"/>
<line x1="408.69" y1="364.91" x2="408.69" y2="388.72" stroke="#ee7884" stroke-width="0.95"/>
<line x1="406.89" y1="388.72" x2="410.49" y2="388.72" stroke="#ee7884" stroke-width="1.1"/>
<line x1="411.74" y1="374.65" x2="411.74" y2="390.45" stroke="#ee7884" stroke-width="0.95"/>
<line x1="409.94" y1="390.45" x2="413.54" y2="390.45" stroke="#ee7884" stroke-width="1.1"/>
<line x1="414.78" y1="369.24" x2="414.78" y2="395.21" stroke="#ee7884" stroke-width="0.95"/>
<line x1="412.98" y1="395.21" x2="416.58" y2="395.21" stroke="#ee7884" stroke-width="1.1"/>
<line x1="417.83" y1="368.80" x2="417.83" y2="395.21" stroke="#ee7884" stroke-width="0.95"/>
<line x1="416.03" y1="395.21" x2="419.63" y2="395.21" stroke="#ee7884" stroke-width="1.1"/>
<line x1="420.87" y1="371.40" x2="420.87" y2="397.38" stroke="#ee7884" stroke-width="0.95"/>
<line x1="419.07" y1="397.38" x2="422.67" y2="397.38" stroke="#ee7884" stroke-width="1.1"/>
<line x1="423.92" y1="382.22" x2="423.92" y2="397.38" stroke="#ee7884" stroke-width="0.95"/>
<line x1="422.12" y1="397.38" x2="425.72" y2="397.38" stroke="#ee7884" stroke-width="1.1"/>
<line x1="426.96" y1="383.31" x2="426.96" y2="396.29" stroke="#ee7884" stroke-width="0.95"/>
<line x1="425.16" y1="396.29" x2="428.76" y2="396.29" stroke="#ee7884" stroke-width="1.1"/>
<line x1="430.00" y1="380.49" x2="430.00" y2="399.54" stroke="#ee7884" stroke-width="0.95"/>
<line x1="428.20" y1="399.54" x2="431.81" y2="399.54" stroke="#ee7884" stroke-width="1.1"/>
<line x1="433.05" y1="376.81" x2="433.05" y2="399.97" stroke="#ee7884" stroke-width="0.95"/>
<line x1="431.25" y1="399.97" x2="434.85" y2="399.97" stroke="#ee7884" stroke-width="1.1"/>
<line x1="436.10" y1="376.16" x2="436.10" y2="399.97" stroke="#ee7884" stroke-width="0.95"/>
<line x1="434.30" y1="399.97" x2="437.90" y2="399.97" stroke="#ee7884" stroke-width="1.1"/>
<line x1="439.14" y1="380.06" x2="439.14" y2="398.46" stroke="#ee7884" stroke-width="0.95"/>
<line x1="437.34" y1="398.46" x2="440.94" y2="398.46" stroke="#ee7884" stroke-width="1.1"/>
<line x1="442.19" y1="382.22" x2="442.19" y2="403.87" stroke="#ee7884" stroke-width="0.95"/>
<line x1="440.38" y1="403.87" x2="443.99" y2="403.87" stroke="#ee7884" stroke-width="1.1"/>
<line x1="445.23" y1="380.06" x2="445.23" y2="398.46" stroke="#ee7884" stroke-width="0.95"/>
<line x1="443.43" y1="398.46" x2="447.03" y2="398.46" stroke="#ee7884" stroke-width="1.1"/>
<line x1="448.28" y1="376.81" x2="448.28" y2="406.04" stroke="#ee7884" stroke-width="0.95"/>
<line x1="446.48" y1="406.04" x2="450.08" y2="406.04" stroke="#ee7884" stroke-width="1.1"/>
<line x1="451.32" y1="382.22" x2="451.32" y2="406.47" stroke="#ee7884" stroke-width="0.95"/>
<line x1="449.52" y1="406.47" x2="453.12" y2="406.47" stroke="#ee7884" stroke-width="1.1"/>
<line x1="454.37" y1="378.98" x2="454.37" y2="402.79" stroke="#ee7884" stroke-width="0.95"/>
<line x1="452.56" y1="402.79" x2="456.17" y2="402.79" stroke="#ee7884" stroke-width="1.1"/>
<line x1="457.41" y1="373.57" x2="457.41" y2="410.80" stroke="#ee7884" stroke-width="0.95"/>
<line x1="455.61" y1="410.80" x2="459.21" y2="410.80" stroke="#ee7884" stroke-width="1.1"/>
<line x1="460.46" y1="370.32" x2="460.46" y2="406.47" stroke="#ee7884" stroke-width="0.95"/>
<line x1="458.66" y1="406.47" x2="462.26" y2="406.47" stroke="#ee7884" stroke-width="1.1"/>
<line x1="463.50" y1="371.40" x2="463.50" y2="412.53" stroke="#ee7884" stroke-width="0.95"/>
<line x1="461.70" y1="412.53" x2="465.30" y2="412.53" stroke="#ee7884" stroke-width="1.1"/>
<line x1="466.55" y1="386.55" x2="466.55" y2="416.86" stroke="#ee7884" stroke-width="0.95"/>
<line x1="464.75" y1="416.86" x2="468.35" y2="416.86" stroke="#ee7884" stroke-width="1.1"/>
<line x1="469.59" y1="387.64" x2="469.59" y2="410.36" stroke="#ee7884" stroke-width="0.95"/>
<line x1="467.79" y1="410.36" x2="471.39" y2="410.36" stroke="#ee7884" stroke-width="1.1"/>
<line x1="472.63" y1="385.47" x2="472.63" y2="412.53" stroke="#ee7884" stroke-width="0.95"/>
<line x1="470.83" y1="412.53" x2="474.44" y2="412.53" stroke="#ee7884" stroke-width="1.1"/>
<line x1="475.68" y1="383.31" x2="475.68" y2="403.87" stroke="#ee7884" stroke-width="0.95"/>
<line x1="473.88" y1="403.87" x2="477.48" y2="403.87" stroke="#ee7884" stroke-width="1.1"/>
<line x1="478.73" y1="374.65" x2="478.73" y2="403.87" stroke="#ee7884" stroke-width="0.95"/>
<line x1="476.93" y1="403.87" x2="480.53" y2="403.87" stroke="#ee7884" stroke-width="1.1"/>
<line x1="481.77" y1="367.07" x2="481.77" y2="393.05" stroke="#ee7884" stroke-width="0.95"/>
<line x1="479.97" y1="393.05" x2="483.57" y2="393.05" stroke="#ee7884" stroke-width="1.1"/>
<line x1="484.82" y1="376.81" x2="484.82" y2="402.79" stroke="#ee7884" stroke-width="0.95"/>
<line x1="483.02" y1="402.79" x2="486.62" y2="402.79" stroke="#ee7884" stroke-width="1.1"/>
<line x1="487.86" y1="382.22" x2="487.86" y2="397.38" stroke="#ee7884" stroke-width="0.95"/>
<line x1="486.06" y1="397.38" x2="489.66" y2="397.38" stroke="#ee7884" stroke-width="1.1"/>
<line x1="490.91" y1="374.65" x2="490.91" y2="394.13" stroke="#ee7884" stroke-width="0.95"/>
<line x1="489.11" y1="394.13" x2="492.71" y2="394.13" stroke="#ee7884" stroke-width="1.1"/>
<line x1="493.95" y1="381.14" x2="493.95" y2="395.21" stroke="#ee7884" stroke-width="0.95"/>
<line x1="492.15" y1="395.21" x2="495.75" y2="395.21" stroke="#ee7884" stroke-width="1.1"/>
<line x1="497.00" y1="377.89" x2="497.00" y2="396.29" stroke="#ee7884" stroke-width="0.95"/>
<line x1="495.19" y1="396.29" x2="498.80" y2="396.29" stroke="#ee7884" stroke-width="1.1"/>
<line x1="500.04" y1="372.48" x2="500.04" y2="391.96" stroke="#ee7884" stroke-width="0.95"/>
<line x1="498.24" y1="391.96" x2="501.84" y2="391.96" stroke="#ee7884" stroke-width="1.1"/>
<line x1="503.09" y1="386.55" x2="503.09" y2="399.54" stroke="#ee7884" stroke-width="0.95"/>
<line x1="501.29" y1="399.54" x2="504.89" y2="399.54" stroke="#ee7884" stroke-width="1.1"/>
<line x1="506.13" y1="385.47" x2="506.13" y2="399.97" stroke="#ee7884" stroke-width="0.95"/>
<line x1="504.33" y1="399.97" x2="507.93" y2="399.97" stroke="#ee7884" stroke-width="1.1"/>
<line x1="509.18" y1="389.80" x2="509.18" y2="407.12" stroke="#ee7884" stroke-width="0.95"/>
<line x1="507.38" y1="407.12" x2="510.98" y2="407.12" stroke="#ee7884" stroke-width="1.1"/>
<line x1="512.22" y1="394.13" x2="512.22" y2="409.28" stroke="#ee7884" stroke-width="0.95"/>
<line x1="510.42" y1="409.28" x2="514.02" y2="409.28" stroke="#ee7884" stroke-width="1.1"/>
<line x1="515.26" y1="393.05" x2="515.26" y2="408.20" stroke="#ee7884" stroke-width="0.95"/>
<line x1="513.47" y1="408.20" x2="517.06" y2="408.20" stroke="#ee7884" stroke-width="1.1"/>
<line x1="518.31" y1="391.96" x2="518.31" y2="408.63" stroke="#ee7884" stroke-width="0.95"/>
<line x1="516.51" y1="408.63" x2="520.11" y2="408.63" stroke="#ee7884" stroke-width="1.1"/>
<line x1="521.36" y1="390.88" x2="521.36" y2="409.28" stroke="#ee7884" stroke-width="0.95"/>
<line x1="519.56" y1="409.28" x2="523.15" y2="409.28" stroke="#ee7884" stroke-width="1.1"/>
<line x1="524.40" y1="390.88" x2="524.40" y2="411.45" stroke="#ee7884" stroke-width="0.95"/>
<line x1="522.60" y1="411.45" x2="526.20" y2="411.45" stroke="#ee7884" stroke-width="1.1"/>
<line x1="527.45" y1="386.55" x2="527.45" y2="405.60" stroke="#ee7884" stroke-width="0.95"/>
<line x1="525.65" y1="405.60" x2="529.25" y2="405.60" stroke="#ee7884" stroke-width="1.1"/>
<line x1="530.49" y1="385.47" x2="530.49" y2="404.95" stroke="#ee7884" stroke-width="0.95"/>
<line x1="528.69" y1="404.95" x2="532.29" y2="404.95" stroke="#ee7884" stroke-width="1.1"/>
<line x1="533.54" y1="386.12" x2="533.54" y2="406.04" stroke="#ee7884" stroke-width="0.95"/>
<line x1="531.74" y1="406.04" x2="535.34" y2="406.04" stroke="#ee7884" stroke-width="1.1"/>
<line x1="536.58" y1="386.55" x2="536.58" y2="406.04" stroke="#ee7884" stroke-width="0.95"/>
<line x1="534.78" y1="406.04" x2="538.38" y2="406.04" stroke="#ee7884" stroke-width="1.1"/>
<line x1="539.62" y1="387.64" x2="539.62" y2="404.95" stroke="#ee7884" stroke-width="0.95"/>
<line x1="537.83" y1="404.95" x2="541.42" y2="404.95" stroke="#ee7884" stroke-width="1.1"/>
<line x1="542.67" y1="390.88" x2="542.67" y2="404.95" stroke="#ee7884" stroke-width="0.95"/>
<line x1="540.87" y1="404.95" x2="544.47" y2="404.95" stroke="#ee7884" stroke-width="1.1"/>
<line x1="545.72" y1="387.64" x2="545.72" y2="401.71" stroke="#ee7884" stroke-width="0.95"/>
<line x1="543.92" y1="401.71" x2="547.51" y2="401.71" stroke="#ee7884" stroke-width="1.1"/>
<line x1="548.76" y1="393.05" x2="548.76" y2="406.04" stroke="#ee7884" stroke-width="0.95"/>
<line x1="546.96" y1="406.04" x2="550.56" y2="406.04" stroke="#ee7884" stroke-width="1.1"/>
<line x1="551.81" y1="385.47" x2="551.81" y2="407.12" stroke="#ee7884" stroke-width="0.95"/>
<line x1="550.01" y1="407.12" x2="553.61" y2="407.12" stroke="#ee7884" stroke-width="1.1"/>
<line x1="554.85" y1="380.06" x2="554.85" y2="398.46" stroke="#ee7884" stroke-width="0.95"/>
<line x1="553.05" y1="398.46" x2="556.65" y2="398.46" stroke="#ee7884" stroke-width="1.1"/>
<line x1="557.89" y1="382.22" x2="557.89" y2="410.36" stroke="#ee7884" stroke-width="0.95"/>
<line x1="556.10" y1="410.36" x2="559.69" y2="410.36" stroke="#ee7884" stroke-width="1.1"/>
<line x1="560.94" y1="390.88" x2="560.94" y2="406.04" stroke="#ee7884" stroke-width="0.95"/>
<line x1="559.14" y1="406.04" x2="562.74" y2="406.04" stroke="#ee7884" stroke-width="1.1"/>
<line x1="563.99" y1="393.05" x2="563.99" y2="415.78" stroke="#ee7884" stroke-width="0.95"/>
<line x1="562.19" y1="415.78" x2="565.78" y2="415.78" stroke="#ee7884" stroke-width="1.1"/>
<line x1="567.03" y1="384.39" x2="567.03" y2="411.45" stroke="#ee7884" stroke-width="0.95"/>
<line x1="565.23" y1="411.45" x2="568.83" y2="411.45" stroke="#ee7884" stroke-width="1.1"/>
<line x1="570.08" y1="391.96" x2="570.08" y2="412.53" stroke="#ee7884" stroke-width="0.95"/>
<line x1="568.28" y1="412.53" x2="571.88" y2="412.53" stroke="#ee7884" stroke-width="1.1"/>
<line x1="573.12" y1="388.72" x2="573.12" y2="407.12" stroke="#ee7884" stroke-width="0.95"/>
<line x1="571.32" y1="407.12" x2="574.92" y2="407.12" stroke="#ee7884" stroke-width="1.1"/>
<line x1="576.16" y1="381.79" x2="576.16" y2="406.04" stroke="#ee7884" stroke-width="0.95"/>
<line x1="574.37" y1="406.04" x2="577.96" y2="406.04" stroke="#ee7884" stroke-width="1.1"/>
<line x1="579.21" y1="385.47" x2="579.21" y2="409.28" stroke="#ee7884" stroke-width="0.95"/>
<line x1="577.41" y1="409.28" x2="581.01" y2="409.28" stroke="#ee7884" stroke-width="1.1"/>
<line x1="582.25" y1="384.39" x2="582.25" y2="406.04" stroke="#ee7884" stroke-width="0.95"/>
<line x1="580.46" y1="406.04" x2="584.05" y2="406.04" stroke="#ee7884" stroke-width="1.1"/>
<line x1="585.30" y1="385.47" x2="585.30" y2="406.04" stroke="#ee7884" stroke-width="0.95"/>
<line x1="583.50" y1="406.04" x2="587.10" y2="406.04" stroke="#ee7884" stroke-width="1.1"/>
<line x1="588.35" y1="381.79" x2="588.35" y2="420.11" stroke="#ee7884" stroke-width="0.95"/>
<line x1="586.55" y1="420.11" x2="590.14" y2="420.11" stroke="#ee7884" stroke-width="1.1"/>
<line x1="591.39" y1="387.64" x2="591.39" y2="404.95" stroke="#ee7884" stroke-width="0.95"/>
<line x1="589.59" y1="404.95" x2="593.19" y2="404.95" stroke="#ee7884" stroke-width="1.1"/>
<line x1="594.44" y1="384.39" x2="594.44" y2="404.95" stroke="#ee7884" stroke-width="0.95"/>
<line x1="592.64" y1="404.95" x2="596.24" y2="404.95" stroke="#ee7884" stroke-width="1.1"/>
<line x1="597.48" y1="382.22" x2="597.48" y2="399.54" stroke="#ee7884" stroke-width="0.95"/>
<line x1="595.68" y1="399.54" x2="599.28" y2="399.54" stroke="#ee7884" stroke-width="1.1"/>
<line x1="600.52" y1="385.47" x2="600.52" y2="400.62" stroke="#ee7884" stroke-width="0.95"/>
<line x1="598.73" y1="400.62" x2="602.32" y2="400.62" stroke="#ee7884" stroke-width="1.1"/>
<line x1="603.57" y1="391.96" x2="603.57" y2="397.38" stroke="#ee7884" stroke-width="0.95"/>
<line x1="601.77" y1="397.38" x2="605.37" y2="397.38" stroke="#ee7884" stroke-width="1.1"/>
<line x1="606.62" y1="391.96" x2="606.62" y2="412.53" stroke="#ee7884" stroke-width="0.95"/>
<line x1="604.82" y1="412.53" x2="608.41" y2="412.53" stroke="#ee7884" stroke-width="1.1"/>
<line x1="609.66" y1="393.05" x2="609.66" y2="414.69" stroke="#ee7884" stroke-width="0.95"/>
<line x1="607.86" y1="414.69" x2="611.46" y2="414.69" stroke="#ee7884" stroke-width="1.1"/>
<line x1="612.71" y1="383.31" x2="612.71" y2="406.04" stroke="#ee7884" stroke-width="0.95"/>
<line x1="610.91" y1="406.04" x2="614.50" y2="406.04" stroke="#ee7884" stroke-width="1.1"/>
<line x1="615.75" y1="385.47" x2="615.75" y2="409.28" stroke="#ee7884" stroke-width="0.95"/>
<line x1="613.95" y1="409.28" x2="617.55" y2="409.28" stroke="#ee7884" stroke-width="1.1"/>
<line x1="618.80" y1="384.39" x2="618.80" y2="410.36" stroke="#ee7884" stroke-width="0.95"/>
<line x1="617.00" y1="410.36" x2="620.60" y2="410.36" stroke="#ee7884" stroke-width="1.1"/>
<line x1="621.84" y1="378.98" x2="621.84" y2="406.04" stroke="#ee7884" stroke-width="0.95"/>
<line x1="620.04" y1="406.04" x2="623.64" y2="406.04" stroke="#ee7884" stroke-width="1.1"/>
<line x1="624.88" y1="390.88" x2="624.88" y2="411.45" stroke="#ee7884" stroke-width="0.95"/>
<line x1="623.09" y1="411.45" x2="626.68" y2="411.45" stroke="#ee7884" stroke-width="1.1"/>
<line x1="627.93" y1="374.65" x2="627.93" y2="410.36" stroke="#ee7884" stroke-width="0.95"/>
<line x1="626.13" y1="410.36" x2="629.73" y2="410.36" stroke="#ee7884" stroke-width="1.1"/>
<line x1="630.98" y1="396.29" x2="630.98" y2="403.87" stroke="#ee7884" stroke-width="0.95"/>
<line x1="629.18" y1="403.87" x2="632.77" y2="403.87" stroke="#ee7884" stroke-width="1.1"/>
<line x1="634.02" y1="382.22" x2="634.02" y2="409.28" stroke="#ee7884" stroke-width="0.95"/>
<line x1="632.22" y1="409.28" x2="635.82" y2="409.28" stroke="#ee7884" stroke-width="1.1"/>
<line x1="637.07" y1="376.81" x2="637.07" y2="409.28" stroke="#ee7884" stroke-width="0.95"/>
<line x1="635.27" y1="409.28" x2="638.87" y2="409.28" stroke="#ee7884" stroke-width="1.1"/>
<line x1="640.11" y1="373.57" x2="640.11" y2="406.04" stroke="#ee7884" stroke-width="0.95"/>
<line x1="638.31" y1="406.04" x2="641.91" y2="406.04" stroke="#ee7884" stroke-width="1.1"/>
<line x1="643.15" y1="376.81" x2="643.15" y2="404.95" stroke="#ee7884" stroke-width="0.95"/>
<line x1="641.36" y1="404.95" x2="644.95" y2="404.95" stroke="#ee7884" stroke-width="1.1"/>
<line x1="646.20" y1="382.22" x2="646.20" y2="403.87" stroke="#ee7884" stroke-width="0.95"/>
<line x1="644.40" y1="403.87" x2="648.00" y2="403.87" stroke="#ee7884" stroke-width="1.1"/>
<line x1="649.25" y1="369.24" x2="649.25" y2="410.36" stroke="#ee7884" stroke-width="0.95"/>
<line x1="647.45" y1="410.36" x2="651.04" y2="410.36" stroke="#ee7884" stroke-width="1.1"/>
<line x1="652.29" y1="370.32" x2="652.29" y2="407.12" stroke="#ee7884" stroke-width="0.95"/>
<line x1="650.49" y1="407.12" x2="654.09" y2="407.12" stroke="#ee7884" stroke-width="1.1"/>
<line x1="655.34" y1="369.24" x2="655.34" y2="407.12" stroke="#ee7884" stroke-width="0.95"/>
<line x1="653.54" y1="407.12" x2="657.13" y2="407.12" stroke="#ee7884" stroke-width="1.1"/>
<line x1="658.38" y1="368.15" x2="658.38" y2="404.95" stroke="#ee7884" stroke-width="0.95"/>
<line x1="656.58" y1="404.95" x2="660.18" y2="404.95" stroke="#ee7884" stroke-width="1.1"/>
<line x1="661.42" y1="364.47" x2="661.42" y2="406.04" stroke="#ee7884" stroke-width="0.95"/>
<line x1="659.62" y1="406.04" x2="663.22" y2="406.04" stroke="#ee7884" stroke-width="1.1"/>
<line x1="664.47" y1="372.48" x2="664.47" y2="403.87" stroke="#ee7884" stroke-width="0.95"/>
<line x1="662.67" y1="403.87" x2="666.27" y2="403.87" stroke="#ee7884" stroke-width="1.1"/>
<line x1="667.52" y1="387.64" x2="667.52" y2="396.29" stroke="#ee7884" stroke-width="0.95"/>
<line x1="665.72" y1="396.29" x2="669.32" y2="396.29" stroke="#ee7884" stroke-width="1.1"/>
<line x1="670.56" y1="385.47" x2="670.56" y2="395.21" stroke="#ee7884" stroke-width="0.95"/>
<line x1="668.76" y1="395.21" x2="672.36" y2="395.21" stroke="#ee7884" stroke-width="1.1"/>
<line x1="673.61" y1="386.55" x2="673.61" y2="390.88" stroke="#ee7884" stroke-width="0.95"/>
<line x1="671.81" y1="390.88" x2="675.40" y2="390.88" stroke="#ee7884" stroke-width="1.1"/>
<line x1="676.65" y1="386.55" x2="676.65" y2="388.72" stroke="#ee7884" stroke-width="0.95"/>
<line x1="674.85" y1="388.72" x2="678.45" y2="388.72" stroke="#ee7884" stroke-width="1.1"/>
<line x1="679.69" y1="384.39" x2="679.69" y2="390.88" stroke="#ee7884" stroke-width="0.95"/>
<line x1="677.89" y1="390.88" x2="681.49" y2="390.88" stroke="#ee7884" stroke-width="1.1"/>
<line x1="682.74" y1="385.47" x2="682.74" y2="395.21" stroke="#ee7884" stroke-width="0.95"/>
<line x1="680.94" y1="395.21" x2="684.54" y2="395.21" stroke="#ee7884" stroke-width="1.1"/>
<line x1="685.79" y1="378.98" x2="685.79" y2="395.21" stroke="#ee7884" stroke-width="0.95"/>
<line x1="683.99" y1="395.21" x2="687.59" y2="395.21" stroke="#ee7884" stroke-width="1.1"/>
<line x1="688.83" y1="395.21" x2="688.83" y2="396.29" stroke="#ee7884" stroke-width="0.95"/>
<line x1="687.03" y1="396.29" x2="690.63" y2="396.29" stroke="#ee7884" stroke-width="1.1"/>
<line x1="691.88" y1="394.78" x2="691.88" y2="395.21" stroke="#ee7884" stroke-width="0.95"/>
<line x1="690.08" y1="395.21" x2="693.67" y2="395.21" stroke="#ee7884" stroke-width="1.1"/>
<polyline points="405.65,387.64 408.69,364.91 411.74,374.65 414.78,369.24 417.83,368.80 420.87,371.40 423.92,382.22 426.96,383.31 430.00,380.49 433.05,376.81 436.10,376.16 439.14,380.06 442.19,382.22 445.23,380.06 448.28,376.81 451.32,382.22 454.37,378.98 457.41,373.57 460.46,370.32 463.50,371.40 466.55,386.55 469.59,387.64 472.63,385.47 475.68,383.31 478.73,374.65 481.77,367.07 484.82,376.81 487.86,382.22 490.91,374.65 493.95,381.14 497.00,377.89 500.04,372.48 503.09,386.55 506.13,385.47 509.18,389.80 512.22,394.13 515.26,393.05 518.31,391.96 521.36,390.88 524.40,390.88 527.45,386.55 530.49,385.47 533.54,386.12 536.58,386.55 539.62,387.64 542.67,390.88 545.72,387.64 548.76,393.05 551.81,385.47 554.85,380.06 557.89,382.22 560.94,390.88 563.99,393.05 567.03,384.39 570.08,391.96 573.12,388.72 576.16,381.79 579.21,385.47 582.25,384.39 585.30,385.47 588.35,381.79 591.39,387.64 594.44,384.39 597.48,382.22 600.52,385.47 603.57,391.96 606.62,391.96 609.66,393.05 612.71,383.31 615.75,385.47 618.80,384.39 621.84,378.98 624.88,390.88 627.93,374.65 630.98,396.29 634.02,382.22 637.07,376.81 640.11,373.57 643.15,376.81 646.20,382.22 649.25,369.24 652.29,370.32 655.34,369.24 658.38,368.15 661.42,364.47 664.47,372.48 667.52,387.64 670.56,385.47 673.61,386.55 676.65,386.55 679.69,384.39 682.74,385.47 685.79,378.98 688.83,395.21 691.88,394.78" fill="none" stroke="#ea4d60" stroke-width="0.85" stroke-linejoin="round"/>
<line x1="399.6" y1="260.20" x2="399.6" y2="454.50" stroke="#666" stroke-width="1"/>
<line x1="394.80" y1="454.50" x2="399.6" y2="454.50" stroke="#7d7d7d" stroke-width="1"/>
<text x="392.30" y="458.30" text-anchor="end" font-size="10.5" fill="#1e1e1e" stroke="#1e1e1e" stroke-width="0.25">0</text>
<line x1="394.80" y1="389.73" x2="399.6" y2="389.73" stroke="#7d7d7d" stroke-width="1"/>
<text x="392.30" y="393.53" text-anchor="end" font-size="10.5" fill="#1e1e1e" stroke="#1e1e1e" stroke-width="0.25">50</text>
<line x1="394.80" y1="324.97" x2="399.6" y2="324.97" stroke="#7d7d7d" stroke-width="1"/>
<text x="392.30" y="328.77" text-anchor="end" font-size="10.5" fill="#1e1e1e" stroke="#1e1e1e" stroke-width="0.25">100</text>
<line x1="394.80" y1="260.20" x2="399.6" y2="260.20" stroke="#7d7d7d" stroke-width="1"/>
<text x="392.30" y="264.00" text-anchor="end" font-size="10.5" fill="#1e1e1e" stroke="#1e1e1e" stroke-width="0.25">150</text>
<line x1="395.00" y1="454.50" x2="692.00" y2="454.50" stroke="#7d7d7d" stroke-width="1.3"/>
<line x1="402.60" y1="454.50" x2="402.60" y2="459.20" stroke="#7d7d7d" stroke-width="1"/>
<text transform="translate(405.60,469.50) rotate(-45)" text-anchor="end" font-size="10.5" fill="#1e1e1e" stroke="#1e1e1e" stroke-width="0.25">0</text>
<line x1="433.05" y1="454.50" x2="433.05" y2="459.20" stroke="#7d7d7d" stroke-width="1"/>
<text transform="translate(436.05,469.50) rotate(-45)" text-anchor="end" font-size="10.5" fill="#1e1e1e" stroke="#1e1e1e" stroke-width="0.25">10</text>
<line x1="463.50" y1="454.50" x2="463.50" y2="459.20" stroke="#7d7d7d" stroke-width="1"/>
<text transform="translate(466.50,469.50) rotate(-45)" text-anchor="end" font-size="10.5" fill="#1e1e1e" stroke="#1e1e1e" stroke-width="0.25">20</text>
<line x1="493.95" y1="454.50" x2="493.95" y2="459.20" stroke="#7d7d7d" stroke-width="1"/>
<text transform="translate(496.95,469.50) rotate(-45)" text-anchor="end" font-size="10.5" fill="#1e1e1e" stroke="#1e1e1e" stroke-width="0.25">30</text>
<line x1="524.40" y1="454.50" x2="524.40" y2="459.20" stroke="#7d7d7d" stroke-width="1"/>
<text transform="translate(527.40,469.50) rotate(-45)" text-anchor="end" font-size="10.5" fill="#1e1e1e" stroke="#1e1e1e" stroke-width="0.25">40</text>
<line x1="554.85" y1="454.50" x2="554.85" y2="459.20" stroke="#7d7d7d" stroke-width="1"/>
<text transform="translate(557.85,469.50) rotate(-45)" text-anchor="end" font-size="10.5" fill="#1e1e1e" stroke="#1e1e1e" stroke-width="0.25">50</text>
<line x1="585.30" y1="454.50" x2="585.30" y2="459.20" stroke="#7d7d7d" stroke-width="1"/>
<text transform="translate(588.30,469.50) rotate(-45)" text-anchor="end" font-size="10.5" fill="#1e1e1e" stroke="#1e1e1e" stroke-width="0.25">60</text>
<line x1="615.75" y1="454.50" x2="615.75" y2="459.20" stroke="#7d7d7d" stroke-width="1"/>
<text transform="translate(618.75,469.50) rotate(-45)" text-anchor="end" font-size="10.5" fill="#1e1e1e" stroke="#1e1e1e" stroke-width="0.25">70</text>
<line x1="646.20" y1="454.50" x2="646.20" y2="459.20" stroke="#7d7d7d" stroke-width="1"/>
<text transform="translate(649.20,469.50) rotate(-45)" text-anchor="end" font-size="10.5" fill="#1e1e1e" stroke="#1e1e1e" stroke-width="0.25">80</text>
<line x1="676.65" y1="454.50" x2="676.65" y2="459.20" stroke="#7d7d7d" stroke-width="1"/>
<text transform="translate(679.65,469.50) rotate(-45)" text-anchor="end" font-size="10.5" fill="#1e1e1e" stroke="#1e1e1e" stroke-width="0.25">90</text>
<text transform="translate(366.40,358.90) rotate(-90)" text-anchor="middle" font-size="13.9" font-weight="bold" fill="#1e1e1e" stroke="#1e1e1e" stroke-width="0.3" textLength="105.5" lengthAdjust="spacing">Glutamate (μM)</text>
<line x1="698" y1="353.5" x2="718.7" y2="353.5" stroke="#6a6af0" stroke-width="1.2"/>
<text x="731" y="358.4" font-size="13.4" fill="#1e1e1e" textLength="53" lengthAdjust="spacing">CPC 3-5</text>
<line x1="698" y1="379.6" x2="718.7" y2="379.6" stroke="#f07a84" stroke-width="1.2"/>
<text x="731" y="384.5" font-size="13.4" fill="#1e1e1e" textLength="53" lengthAdjust="spacing">CPC 1-2</text>
<rect x="46.20" y="623.34" width="291.50" height="18.65" fill="#c0c0fd"/>
<line x1="46.20" y1="623.34" x2="337.70" y2="623.34" stroke="#8a8a9a" stroke-width="1" stroke-dasharray="1 1.96"/>
<line x1="46.20" y1="642.00" x2="337.70" y2="642.00" stroke="#9a9aaa" stroke-width="1" stroke-dasharray="1 1.96"/>
<line x1="118.45" y1="502.10" x2="118.45" y2="696.40" stroke="#444" stroke-width="1" stroke-dasharray="1 1.93"/>
<line x1="264.85" y1="502.10" x2="264.85" y2="696.40" stroke="#444" stroke-width="1" stroke-dasharray="1 1.93"/>
<line x1="51.35" y1="641.75" x2="51.35" y2="569.25" stroke="#7e7ef2" stroke-width="0.95"/>
<line x1="49.55" y1="569.25" x2="53.15" y2="569.25" stroke="#7e7ef2" stroke-width="1.1"/>
<line x1="54.40" y1="628.76" x2="54.40" y2="607.55" stroke="#7e7ef2" stroke-width="0.95"/>
<line x1="52.60" y1="607.55" x2="56.20" y2="607.55" stroke="#7e7ef2" stroke-width="1.1"/>
<line x1="57.45" y1="626.60" x2="57.45" y2="582.23" stroke="#7e7ef2" stroke-width="0.95"/>
<line x1="55.65" y1="582.23" x2="59.25" y2="582.23" stroke="#7e7ef2" stroke-width="1.1"/>
<line x1="60.50" y1="632.01" x2="60.50" y2="585.91" stroke="#7e7ef2" stroke-width="0.95"/>
<line x1="58.70" y1="585.91" x2="62.30" y2="585.91" stroke="#7e7ef2" stroke-width="1.1"/>
<line x1="63.55" y1="625.52" x2="63.55" y2="573.57" stroke="#7e7ef2" stroke-width="0.95"/>
<line x1="61.75" y1="573.57" x2="65.35" y2="573.57" stroke="#7e7ef2" stroke-width="1.1"/>
<line x1="66.60" y1="607.12" x2="66.60" y2="568.60" stroke="#7e7ef2" stroke-width="0.95"/>
<line x1="64.80" y1="568.60" x2="68.40" y2="568.60" stroke="#7e7ef2" stroke-width="1.1"/>
<line x1="69.65" y1="616.86" x2="69.65" y2="573.57" stroke="#7e7ef2" stroke-width="0.95"/>
<line x1="67.85" y1="573.57" x2="71.45" y2="573.57" stroke="#7e7ef2" stroke-width="1.1"/>
<line x1="72.70" y1="623.35" x2="72.70" y2="568.60" stroke="#7e7ef2" stroke-width="0.95"/>
<line x1="70.90" y1="568.60" x2="74.50" y2="568.60" stroke="#7e7ef2" stroke-width="1.1"/>
<line x1="75.75" y1="621.19" x2="75.75" y2="575.74" stroke="#7e7ef2" stroke-width="0.95"/>
<line x1="73.95" y1="575.74" x2="77.55" y2="575.74" stroke="#7e7ef2" stroke-width="1.1"/>
<line x1="78.80" y1="619.02" x2="78.80" y2="576.39" stroke="#7e7ef2" stroke-width="0.95"/>
<line x1="77.00" y1="576.39" x2="80.60" y2="576.39" stroke="#7e7ef2" stroke-width="1.1"/>
<line x1="81.85" y1="617.94" x2="81.85" y2="569.25" stroke="#7e7ef2" stroke-width="0.95"/>
<line x1="80.05" y1="569.25" x2="83.65" y2="569.25" stroke="#7e7ef2" stroke-width="1.1"/>
<line x1="84.90" y1="615.78" x2="84.90" y2="555.61" stroke="#7e7ef2" stroke-width="0.95"/>
<line x1="83.10" y1="555.61" x2="86.70" y2="555.61" stroke="#7e7ef2" stroke-width="1.1"/>
<line x1="87.95" y1="613.61" x2="87.95" y2="551.28" stroke="#7e7ef2" stroke-width="0.95"/>
<line x1="86.15" y1="551.28" x2="89.75" y2="551.28" stroke="#7e7ef2" stroke-width="1.1"/>
<line x1="91.00" y1="617.94" x2="91.00" y2="554.10" stroke="#7e7ef2" stroke-width="0.95"/>
<line x1="89.20" y1="554.10" x2="92.80" y2="554.10" stroke="#7e7ef2" stroke-width="1.1"/>
<line x1="94.05" y1="622.27" x2="94.05" y2="554.10" stroke="#7e7ef2" stroke-width="0.95"/>
<line x1="92.25" y1="554.10" x2="95.85" y2="554.10" stroke="#7e7ef2" stroke-width="1.1"/>
<line x1="97.10" y1="612.53" x2="97.10" y2="547.60" stroke="#7e7ef2" stroke-width="0.95"/>
<line x1="95.30" y1="547.60" x2="98.90" y2="547.60" stroke="#7e7ef2" stroke-width="1.1"/>
<line x1="100.15" y1="617.94" x2="100.15" y2="572.49" stroke="#7e7ef2" stroke-width="0.95"/>
<line x1="98.35" y1="572.49" x2="101.95" y2="572.49" stroke="#7e7ef2" stroke-width="1.1"/>
<line x1="103.20" y1="623.35" x2="103.20" y2="572.06" stroke="#7e7ef2" stroke-width="0.95"/>
<line x1="101.40" y1="572.06" x2="105.00" y2="572.06" stroke="#7e7ef2" stroke-width="1.1"/>
<line x1="106.25" y1="609.28" x2="106.25" y2="562.32" stroke="#7e7ef2" stroke-width="0.95"/>
<line x1="104.45" y1="562.32" x2="108.05" y2="562.32" stroke="#7e7ef2" stroke-width="1.1"/>
<line x1="109.30" y1="611.45" x2="109.30" y2="567.73" stroke="#7e7ef2" stroke-width="0.95"/>
<line x1="107.50" y1="567.73" x2="111.10" y2="567.73" stroke="#7e7ef2" stroke-width="1.1"/>
<line x1="112.35" y1="613.61" x2="112.35" y2="572.49" stroke="#7e7ef2" stroke-width="0.95"/>
<line x1="110.55" y1="572.49" x2="114.15" y2="572.49" stroke="#7e7ef2" stroke-width="1.1"/>
<line x1="115.40" y1="616.86" x2="115.40" y2="577.25" stroke="#7e7ef2" stroke-width="0.95"/>
<line x1="113.60" y1="577.25" x2="117.20" y2="577.25" stroke="#7e7ef2" stroke-width="1.1"/>
<line x1="118.45" y1="617.94" x2="118.45" y2="576.39" stroke="#7e7ef2" stroke-width="0.95"/>
<line x1="116.65" y1="576.39" x2="120.25" y2="576.39" stroke="#7e7ef2" stroke-width="1.1"/>
<line x1="121.50" y1="611.45" x2="121.50" y2="567.73" stroke="#7e7ef2" stroke-width="0.95"/>
<line x1="119.70" y1="567.73" x2="123.30" y2="567.73" stroke="#7e7ef2" stroke-width="1.1"/>
<line x1="124.55" y1="606.04" x2="124.55" y2="566.43" stroke="#7e7ef2" stroke-width="0.95"/>
<line x1="122.75" y1="566.43" x2="126.35" y2="566.43" stroke="#7e7ef2" stroke-width="1.1"/>
<line x1="127.60" y1="609.28" x2="127.60" y2="565.57" stroke="#7e7ef2" stroke-width="0.95"/>
<line x1="125.80" y1="565.57" x2="129.40" y2="565.57" stroke="#7e7ef2" stroke-width="1.1"/>
<line x1="130.65" y1="610.37" x2="130.65" y2="562.75" stroke="#7e7ef2" stroke-width="0.95"/>
<line x1="128.85" y1="562.75" x2="132.45" y2="562.75" stroke="#7e7ef2" stroke-width="1.1"/>
<line x1="133.70" y1="607.12" x2="133.70" y2="572.49" stroke="#7e7ef2" stroke-width="0.95"/>
<line x1="131.90" y1="572.49" x2="135.50" y2="572.49" stroke="#7e7ef2" stroke-width="1.1"/>
<line x1="136.75" y1="614.70" x2="136.75" y2="580.72" stroke="#7e7ef2" stroke-width="0.95"/>
<line x1="134.95" y1="580.72" x2="138.55" y2="580.72" stroke="#7e7ef2" stroke-width="1.1"/>
<line x1="139.80" y1="623.35" x2="139.80" y2="572.49" stroke="#7e7ef2" stroke-width="0.95"/>
<line x1="138.00" y1="572.49" x2="141.60" y2="572.49" stroke="#7e7ef2" stroke-width="1.1"/>
<line x1="142.85" y1="613.61" x2="142.85" y2="579.42" stroke="#7e7ef2" stroke-width="0.95"/>
<line x1="141.05" y1="579.42" x2="144.65" y2="579.42" stroke="#7e7ef2" stroke-width="1.1"/>
<line x1="145.90" y1="610.37" x2="145.90" y2="585.91" stroke="#7e7ef2" stroke-width="0.95"/>
<line x1="144.10" y1="585.91" x2="147.70" y2="585.91" stroke="#7e7ef2" stroke-width="1.1"/>
<line x1="148.95" y1="610.37" x2="148.95" y2="560.59" stroke="#7e7ef2" stroke-width="0.95"/>
<line x1="147.15" y1="560.59" x2="150.75" y2="560.59" stroke="#7e7ef2" stroke-width="1.1"/>
<line x1="152.00" y1="609.28" x2="152.00" y2="556.91" stroke="#7e7ef2" stroke-width="0.95"/>
<line x1="150.20" y1="556.91" x2="153.80" y2="556.91" stroke="#7e7ef2" stroke-width="1.1"/>
<line x1="155.05" y1="616.86" x2="155.05" y2="584.40" stroke="#7e7ef2" stroke-width="0.95"/>
<line x1="153.25" y1="584.40" x2="156.85" y2="584.40" stroke="#7e7ef2" stroke-width="1.1"/>
<line x1="158.10" y1="613.61" x2="158.10" y2="556.26" stroke="#7e7ef2" stroke-width="0.95"/>
<line x1="156.30" y1="556.26" x2="159.90" y2="556.26" stroke="#7e7ef2" stroke-width="1.1"/>
<line x1="161.15" y1="611.45" x2="161.15" y2="580.07" stroke="#7e7ef2" stroke-width="0.95"/>
<line x1="159.35" y1="580.07" x2="162.95" y2="580.07" stroke="#7e7ef2" stroke-width="1.1"/>
<line x1="164.20" y1="608.20" x2="164.20" y2="580.07" stroke="#7e7ef2" stroke-width="0.95"/>
<line x1="162.40" y1="580.07" x2="166.00" y2="580.07" stroke="#7e7ef2" stroke-width="1.1"/>
<line x1="167.25" y1="609.28" x2="167.25" y2="587.21" stroke="#7e7ef2" stroke-width="0.95"/>
<line x1="165.45" y1="587.21" x2="169.05" y2="587.21" stroke="#7e7ef2" stroke-width="1.1"/>
<line x1="170.30" y1="608.20" x2="170.30" y2="582.23" stroke="#7e7ef2" stroke-width="0.95"/>
<line x1="168.50" y1="582.23" x2="172.10" y2="582.23" stroke="#7e7ef2" stroke-width="1.1"/>
<line x1="173.35" y1="607.12" x2="173.35" y2="589.81" stroke="#7e7ef2" stroke-width="0.95"/>
<line x1="171.55" y1="589.81" x2="175.15" y2="589.81" stroke="#7e7ef2" stroke-width="1.1"/>
<line x1="176.40" y1="609.28" x2="176.40" y2="589.81" stroke="#7e7ef2" stroke-width="0.95"/>
<line x1="174.60" y1="589.81" x2="178.20" y2="589.81" stroke="#7e7ef2" stroke-width="1.1"/>
<line x1="179.45" y1="622.27" x2="179.45" y2="589.37" stroke="#7e7ef2" stroke-width="0.95"/>
<line x1="177.65" y1="589.37" x2="181.25" y2="589.37" stroke="#7e7ef2" stroke-width="1.1"/>
<line x1="182.50" y1="623.35" x2="182.50" y2="587.44" stroke="#7e7ef2" stroke-width="0.95"/>
<line x1="180.70" y1="587.44" x2="184.30" y2="587.44" stroke="#7e7ef2" stroke-width="1.1"/>
<line x1="185.55" y1="619.02" x2="185.55" y2="582.38" stroke="#7e7ef2" stroke-width="0.95"/>
<line x1="183.75" y1="582.38" x2="187.35" y2="582.38" stroke="#7e7ef2" stroke-width="1.1"/>
<line x1="188.60" y1="620.11" x2="188.60" y2="594.90" stroke="#7e7ef2" stroke-width="0.95"/>
<line x1="186.80" y1="594.90" x2="190.40" y2="594.90" stroke="#7e7ef2" stroke-width="1.1"/>
<line x1="191.65" y1="613.61" x2="191.65" y2="588.84" stroke="#7e7ef2" stroke-width="0.95"/>
<line x1="189.85" y1="588.84" x2="193.45" y2="588.84" stroke="#7e7ef2" stroke-width="1.1"/>
<line x1="194.70" y1="611.45" x2="194.70" y2="587.44" stroke="#7e7ef2" stroke-width="0.95"/>
<line x1="192.90" y1="587.44" x2="196.50" y2="587.44" stroke="#7e7ef2" stroke-width="1.1"/>
<line x1="197.75" y1="615.78" x2="197.75" y2="586.81" stroke="#7e7ef2" stroke-width="0.95"/>
<line x1="195.95" y1="586.81" x2="199.55" y2="586.81" stroke="#7e7ef2" stroke-width="1.1"/>
<line x1="200.80" y1="619.02" x2="200.80" y2="602.28" stroke="#7e7ef2" stroke-width="0.95"/>
<line x1="199.00" y1="602.28" x2="202.60" y2="602.28" stroke="#7e7ef2" stroke-width="1.1"/>
<line x1="203.85" y1="616.86" x2="203.85" y2="597.62" stroke="#7e7ef2" stroke-width="0.95"/>
<line x1="202.05" y1="597.62" x2="205.65" y2="597.62" stroke="#7e7ef2" stroke-width="1.1"/>
<line x1="206.90" y1="621.19" x2="206.90" y2="603.29" stroke="#7e7ef2" stroke-width="0.95"/>
<line x1="205.10" y1="603.29" x2="208.70" y2="603.29" stroke="#7e7ef2" stroke-width="1.1"/>
<line x1="209.95" y1="623.35" x2="209.95" y2="601.43" stroke="#7e7ef2" stroke-width="0.95"/>
<line x1="208.15" y1="601.43" x2="211.75" y2="601.43" stroke="#7e7ef2" stroke-width="1.1"/>
<line x1="213.00" y1="625.52" x2="213.00" y2="602.28" stroke="#7e7ef2" stroke-width="0.95"/>
<line x1="211.20" y1="602.28" x2="214.80" y2="602.28" stroke="#7e7ef2" stroke-width="1.1"/>
<line x1="216.05" y1="624.44" x2="216.05" y2="607.10" stroke="#7e7ef2" stroke-width="0.95"/>
<line x1="214.25" y1="607.10" x2="217.85" y2="607.10" stroke="#7e7ef2" stroke-width="1.1"/>
<line x1="219.10" y1="623.35" x2="219.10" y2="602.75" stroke="#7e7ef2" stroke-width="0.95"/>
<line x1="217.30" y1="602.75" x2="220.90" y2="602.75" stroke="#7e7ef2" stroke-width="1.1"/>
<line x1="222.15" y1="623.35" x2="222.15" y2="592.41" stroke="#7e7ef2" stroke-width="0.95"/>
<line x1="220.35" y1="592.41" x2="223.95" y2="592.41" stroke="#7e7ef2" stroke-width="1.1"/>
<line x1="225.20" y1="622.27" x2="225.20" y2="604.07" stroke="#7e7ef2" stroke-width="0.95"/>
<line x1="223.40" y1="604.07" x2="227.00" y2="604.07" stroke="#7e7ef2" stroke-width="1.1"/>
<line x1="228.25" y1="623.35" x2="228.25" y2="605.00" stroke="#7e7ef2" stroke-width="0.95"/>
<line x1="226.45" y1="605.00" x2="230.05" y2="605.00" stroke="#7e7ef2" stroke-width="1.1"/>
<line x1="231.30" y1="622.27" x2="231.30" y2="597.31" stroke="#7e7ef2" stroke-width="0.95"/>
<line x1="229.50" y1="597.31" x2="233.10" y2="597.31" stroke="#7e7ef2" stroke-width="1.1"/>
<line x1="234.35" y1="621.19" x2="234.35" y2="591.48" stroke="#7e7ef2" stroke-width="0.95"/>
<line x1="232.55" y1="591.48" x2="236.15" y2="591.48" stroke="#7e7ef2" stroke-width="1.1"/>
<line x1="237.40" y1="623.35" x2="237.40" y2="591.48" stroke="#7e7ef2" stroke-width="0.95"/>
<line x1="235.60" y1="591.48" x2="239.20" y2="591.48" stroke="#7e7ef2" stroke-width="1.1"/>
<line x1="240.45" y1="621.19" x2="240.45" y2="602.28" stroke="#7e7ef2" stroke-width="0.95"/>
<line x1="238.65" y1="602.28" x2="242.25" y2="602.28" stroke="#7e7ef2" stroke-width="1.1"/>
<line x1="243.50" y1="621.19" x2="243.50" y2="602.28" stroke="#7e7ef2" stroke-width="0.95"/>
<line x1="241.70" y1="602.28" x2="245.30" y2="602.28" stroke="#7e7ef2" stroke-width="1.1"/>
<line x1="246.55" y1="619.02" x2="246.55" y2="602.28" stroke="#7e7ef2" stroke-width="0.95"/>
<line x1="244.75" y1="602.28" x2="248.35" y2="602.28" stroke="#7e7ef2" stroke-width="1.1"/>
<line x1="249.60" y1="615.78" x2="249.60" y2="593.50" stroke="#7e7ef2" stroke-width="0.95"/>
<line x1="247.80" y1="593.50" x2="251.40" y2="593.50" stroke="#7e7ef2" stroke-width="1.1"/>
<line x1="252.65" y1="616.86" x2="252.65" y2="596.22" stroke="#7e7ef2" stroke-width="0.95"/>
<line x1="250.85" y1="596.22" x2="254.45" y2="596.22" stroke="#7e7ef2" stroke-width="1.1"/>
<line x1="255.70" y1="622.27" x2="255.70" y2="598.32" stroke="#7e7ef2" stroke-width="0.95"/>
<line x1="253.90" y1="598.32" x2="257.50" y2="598.32" stroke="#7e7ef2" stroke-width="1.1"/>
<line x1="258.75" y1="628.76" x2="258.75" y2="599.17" stroke="#7e7ef2" stroke-width="0.95"/>
<line x1="256.95" y1="599.17" x2="260.55" y2="599.17" stroke="#7e7ef2" stroke-width="1.1"/>
<line x1="261.80" y1="630.93" x2="261.80" y2="591.54" stroke="#7e7ef2" stroke-width="0.95"/>
<line x1="260.00" y1="591.54" x2="263.60" y2="591.54" stroke="#7e7ef2" stroke-width="1.1"/>
<line x1="264.85" y1="632.01" x2="264.85" y2="591.54" stroke="#7e7ef2" stroke-width="0.95"/>
<line x1="263.05" y1="591.54" x2="266.65" y2="591.54" stroke="#7e7ef2" stroke-width="1.1"/>
<line x1="267.90" y1="626.60" x2="267.90" y2="598.03" stroke="#7e7ef2" stroke-width="0.95"/>
<line x1="266.10" y1="598.03" x2="269.70" y2="598.03" stroke="#7e7ef2" stroke-width="1.1"/>
<line x1="270.95" y1="625.52" x2="270.95" y2="599.55" stroke="#7e7ef2" stroke-width="0.95"/>
<line x1="269.15" y1="599.55" x2="272.75" y2="599.55" stroke="#7e7ef2" stroke-width="1.1"/>
<line x1="274.00" y1="626.60" x2="274.00" y2="600.19" stroke="#7e7ef2" stroke-width="0.95"/>
<line x1="272.20" y1="600.19" x2="275.80" y2="600.19" stroke="#7e7ef2" stroke-width="1.1"/>
<line x1="277.05" y1="627.68" x2="277.05" y2="588.07" stroke="#7e7ef2" stroke-width="0.95"/>
<line x1="275.25" y1="588.07" x2="278.85" y2="588.07" stroke="#7e7ef2" stroke-width="1.1"/>
<line x1="280.10" y1="622.27" x2="280.10" y2="600.63" stroke="#7e7ef2" stroke-width="0.95"/>
<line x1="278.30" y1="600.63" x2="281.90" y2="600.63" stroke="#7e7ef2" stroke-width="1.1"/>
<line x1="283.15" y1="613.61" x2="283.15" y2="603.87" stroke="#7e7ef2" stroke-width="0.95"/>
<line x1="281.35" y1="603.87" x2="284.95" y2="603.87" stroke="#7e7ef2" stroke-width="1.1"/>
<line x1="286.20" y1="623.35" x2="286.20" y2="589.37" stroke="#7e7ef2" stroke-width="0.95"/>
<line x1="284.40" y1="589.37" x2="288.00" y2="589.37" stroke="#7e7ef2" stroke-width="1.1"/>
<line x1="289.25" y1="626.60" x2="289.25" y2="593.05" stroke="#7e7ef2" stroke-width="0.95"/>
<line x1="287.45" y1="593.05" x2="291.05" y2="593.05" stroke="#7e7ef2" stroke-width="1.1"/>
<line x1="292.30" y1="629.85" x2="292.30" y2="617.94" stroke="#7e7ef2" stroke-width="0.95"/>
<line x1="290.50" y1="617.94" x2="294.10" y2="617.94" stroke="#7e7ef2" stroke-width="1.1"/>
<line x1="295.35" y1="627.68" x2="295.35" y2="614.70" stroke="#7e7ef2" stroke-width="0.95"/>
<line x1="293.55" y1="614.70" x2="297.15" y2="614.70" stroke="#7e7ef2" stroke-width="1.1"/>
<line x1="298.40" y1="629.85" x2="298.40" y2="598.90" stroke="#7e7ef2" stroke-width="0.95"/>
<line x1="296.60" y1="598.90" x2="300.20" y2="598.90" stroke="#7e7ef2" stroke-width="1.1"/>
<line x1="301.45" y1="628.76" x2="301.45" y2="601.71" stroke="#7e7ef2" stroke-width="0.95"/>
<line x1="299.65" y1="601.71" x2="303.25" y2="601.71" stroke="#7e7ef2" stroke-width="1.1"/>
<line x1="304.50" y1="626.60" x2="304.50" y2="603.87" stroke="#7e7ef2" stroke-width="0.95"/>
<line x1="302.70" y1="603.87" x2="306.30" y2="603.87" stroke="#7e7ef2" stroke-width="1.1"/>
<line x1="307.55" y1="630.93" x2="307.55" y2="593.70" stroke="#7e7ef2" stroke-width="0.95"/>
<line x1="305.75" y1="593.70" x2="309.35" y2="593.70" stroke="#7e7ef2" stroke-width="1.1"/>
<line x1="310.60" y1="632.01" x2="310.60" y2="584.40" stroke="#7e7ef2" stroke-width="0.95"/>
<line x1="308.80" y1="584.40" x2="312.40" y2="584.40" stroke="#7e7ef2" stroke-width="1.1"/>
<line x1="313.65" y1="628.76" x2="313.65" y2="590.89" stroke="#7e7ef2" stroke-width="0.95"/>
<line x1="311.85" y1="590.89" x2="315.45" y2="590.89" stroke="#7e7ef2" stroke-width="1.1"/>
<line x1="316.70" y1="630.93" x2="316.70" y2="601.71" stroke="#7e7ef2" stroke-width="0.95"/>
<line x1="314.90" y1="601.71" x2="318.50" y2="601.71" stroke="#7e7ef2" stroke-width="1.1"/>
<line x1="319.75" y1="632.01" x2="319.75" y2="610.37" stroke="#7e7ef2" stroke-width="0.95"/>
<line x1="317.95" y1="610.37" x2="321.55" y2="610.37" stroke="#7e7ef2" stroke-width="1.1"/>
<line x1="322.80" y1="627.68" x2="322.80" y2="614.70" stroke="#7e7ef2" stroke-width="0.95"/>
<line x1="321.00" y1="614.70" x2="324.60" y2="614.70" stroke="#7e7ef2" stroke-width="1.1"/>
<line x1="325.85" y1="628.76" x2="325.85" y2="609.72" stroke="#7e7ef2" stroke-width="0.95"/>
<line x1="324.05" y1="609.72" x2="327.65" y2="609.72" stroke="#7e7ef2" stroke-width="1.1"/>
<line x1="328.90" y1="633.09" x2="328.90" y2="596.73" stroke="#7e7ef2" stroke-width="0.95"/>
<line x1="327.10" y1="596.73" x2="330.70" y2="596.73" stroke="#7e7ef2" stroke-width="1.1"/>
<line x1="331.95" y1="638.50" x2="331.95" y2="619.02" stroke="#7e7ef2" stroke-width="0.95"/>
<line x1="330.15" y1="619.02" x2="333.75" y2="619.02" stroke="#7e7ef2" stroke-width="1.1"/>
<line x1="335.00" y1="635.26" x2="335.00" y2="604.52" stroke="#7e7ef2" stroke-width="0.95"/>
<line x1="333.20" y1="604.52" x2="336.80" y2="604.52" stroke="#7e7ef2" stroke-width="1.1"/>
<line x1="338.05" y1="635.26" x2="338.05" y2="610.37" stroke="#7e7ef2" stroke-width="0.95"/>
<line x1="336.25" y1="610.37" x2="339.85" y2="610.37" stroke="#7e7ef2" stroke-width="1.1"/>
<polyline points="48.30,568.16 51.35,641.75 54.40,628.76 57.45,626.60 60.50,632.01 63.55,625.52 66.60,607.12 69.65,616.86 72.70,623.35 75.75,621.19 78.80,619.02 81.85,617.94 84.90,615.78 87.95,613.61 91.00,617.94 94.05,622.27 97.10,612.53 100.15,617.94 103.20,623.35 106.25,609.28 109.30,611.45 112.35,613.61 115.40,616.86 118.45,617.94 121.50,611.45 124.55,606.04 127.60,609.28 130.65,610.37 133.70,607.12 136.75,614.70 139.80,623.35 142.85,613.61 145.90,610.37 148.95,610.37 152.00,609.28 155.05,616.86 158.10,613.61 161.15,611.45 164.20,608.20 167.25,609.28 170.30,608.20 173.35,607.12 176.40,609.28 179.45,622.27 182.50,623.35 185.55,619.02 188.60,620.11 191.65,613.61 194.70,611.45 197.75,615.78 200.80,619.02 203.85,616.86 206.90,621.19 209.95,623.35 213.00,625.52 216.05,624.44 219.10,623.35 222.15,623.35 225.20,622.27 228.25,623.35 231.30,622.27 234.35,621.19 237.40,623.35 240.45,621.19 243.50,621.19 246.55,619.02 249.60,615.78 252.65,616.86 255.70,622.27 258.75,628.76 261.80,630.93 264.85,632.01 267.90,626.60 270.95,625.52 274.00,626.60 277.05,627.68 280.10,622.27 283.15,613.61 286.20,623.35 289.25,626.60 292.30,629.85 295.35,627.68 298.40,629.85 301.45,628.76 304.50,626.60 307.55,630.93 310.60,632.01 313.65,628.76 316.70,630.93 319.75,632.01 322.80,627.68 325.85,628.76 328.90,633.09 331.95,638.50 335.00,635.26 338.05,635.26" fill="none" stroke="#5858ee" stroke-width="0.85" stroke-linejoin="round"/>
<line x1="51.35" y1="641.75" x2="51.35" y2="657.98" stroke="#ee7884" stroke-width="0.95"/>
<line x1="49.55" y1="657.98" x2="53.15" y2="657.98" stroke="#ee7884" stroke-width="1.1"/>
<line x1="54.40" y1="638.50" x2="54.40" y2="669.24" stroke="#ee7884" stroke-width="0.95"/>
<line x1="52.60" y1="669.24" x2="56.20" y2="669.24" stroke="#ee7884" stroke-width="1.1"/>
<line x1="57.45" y1="640.67" x2="57.45" y2="643.91" stroke="#ee7884" stroke-width="0.95"/>
<line x1="55.65" y1="643.91" x2="59.25" y2="643.91" stroke="#ee7884" stroke-width="1.1"/>
<line x1="60.50" y1="635.26" x2="60.50" y2="651.49" stroke="#ee7884" stroke-width="0.95"/>
<line x1="58.70" y1="651.49" x2="62.30" y2="651.49" stroke="#ee7884" stroke-width="1.1"/>
<line x1="63.55" y1="630.50" x2="63.55" y2="646.08" stroke="#ee7884" stroke-width="0.95"/>
<line x1="61.75" y1="646.08" x2="65.35" y2="646.08" stroke="#ee7884" stroke-width="1.1"/>
<line x1="66.60" y1="632.01" x2="66.60" y2="649.32" stroke="#ee7884" stroke-width="0.95"/>
<line x1="64.80" y1="649.32" x2="68.40" y2="649.32" stroke="#ee7884" stroke-width="1.1"/>
<line x1="69.65" y1="636.34" x2="69.65" y2="650.84" stroke="#ee7884" stroke-width="0.95"/>
<line x1="67.85" y1="650.84" x2="71.45" y2="650.84" stroke="#ee7884" stroke-width="1.1"/>
<line x1="72.70" y1="640.67" x2="72.70" y2="651.49" stroke="#ee7884" stroke-width="0.95"/>
<line x1="70.90" y1="651.49" x2="74.50" y2="651.49" stroke="#ee7884" stroke-width="1.1"/>
<line x1="75.75" y1="635.26" x2="75.75" y2="650.41" stroke="#ee7884" stroke-width="0.95"/>
<line x1="73.95" y1="650.41" x2="77.55" y2="650.41" stroke="#ee7884" stroke-width="1.1"/>
<line x1="78.80" y1="640.67" x2="78.80" y2="651.49" stroke="#ee7884" stroke-width="0.95"/>
<line x1="77.00" y1="651.49" x2="80.60" y2="651.49" stroke="#ee7884" stroke-width="1.1"/>
<line x1="81.85" y1="635.26" x2="81.85" y2="646.08" stroke="#ee7884" stroke-width="0.95"/>
<line x1="80.05" y1="646.08" x2="83.65" y2="646.08" stroke="#ee7884" stroke-width="1.1"/>
<line x1="84.90" y1="634.17" x2="84.90" y2="651.49" stroke="#ee7884" stroke-width="0.95"/>
<line x1="83.10" y1="651.49" x2="86.70" y2="651.49" stroke="#ee7884" stroke-width="1.1"/>
<line x1="87.95" y1="636.34" x2="87.95" y2="643.91" stroke="#ee7884" stroke-width="0.95"/>
<line x1="86.15" y1="643.91" x2="89.75" y2="643.91" stroke="#ee7884" stroke-width="1.1"/>
<line x1="91.00" y1="635.26" x2="91.00" y2="643.91" stroke="#ee7884" stroke-width="0.95"/>
<line x1="89.20" y1="643.91" x2="92.80" y2="643.91" stroke="#ee7884" stroke-width="1.1"/>
<line x1="94.05" y1="637.42" x2="94.05" y2="646.08" stroke="#ee7884" stroke-width="0.95"/>
<line x1="92.25" y1="646.08" x2="95.85" y2="646.08" stroke="#ee7884" stroke-width="1.1"/>
<line x1="97.10" y1="636.34" x2="97.10" y2="652.14" stroke="#ee7884" stroke-width="0.95"/>
<line x1="95.30" y1="652.14" x2="98.90" y2="652.14" stroke="#ee7884" stroke-width="1.1"/>
<line x1="100.15" y1="634.17" x2="100.15" y2="645.00" stroke="#ee7884" stroke-width="0.95"/>
<line x1="98.35" y1="645.00" x2="101.95" y2="645.00" stroke="#ee7884" stroke-width="1.1"/>
<line x1="103.20" y1="633.09" x2="103.20" y2="642.83" stroke="#ee7884" stroke-width="0.95"/>
<line x1="101.40" y1="642.83" x2="105.00" y2="642.83" stroke="#ee7884" stroke-width="1.1"/>
<line x1="106.25" y1="635.26" x2="106.25" y2="643.91" stroke="#ee7884" stroke-width="0.95"/>
<line x1="104.45" y1="643.91" x2="108.05" y2="643.91" stroke="#ee7884" stroke-width="1.1"/>
<line x1="109.30" y1="636.34" x2="109.30" y2="642.83" stroke="#ee7884" stroke-width="0.95"/>
<line x1="107.50" y1="642.83" x2="111.10" y2="642.83" stroke="#ee7884" stroke-width="1.1"/>
<line x1="112.35" y1="637.42" x2="112.35" y2="646.08" stroke="#ee7884" stroke-width="0.95"/>
<line x1="110.55" y1="646.08" x2="114.15" y2="646.08" stroke="#ee7884" stroke-width="1.1"/>
<line x1="115.40" y1="637.42" x2="115.40" y2="651.49" stroke="#ee7884" stroke-width="0.95"/>
<line x1="113.60" y1="651.49" x2="117.20" y2="651.49" stroke="#ee7884" stroke-width="1.1"/>
<line x1="118.45" y1="636.99" x2="118.45" y2="650.41" stroke="#ee7884" stroke-width="0.95"/>
<line x1="116.65" y1="650.41" x2="120.25" y2="650.41" stroke="#ee7884" stroke-width="1.1"/>
<line x1="121.50" y1="636.34" x2="121.50" y2="646.08" stroke="#ee7884" stroke-width="0.95"/>
<line x1="119.70" y1="646.08" x2="123.30" y2="646.08" stroke="#ee7884" stroke-width="1.1"/>
<line x1="124.55" y1="635.26" x2="124.55" y2="643.91" stroke="#ee7884" stroke-width="0.95"/>
<line x1="122.75" y1="643.91" x2="126.35" y2="643.91" stroke="#ee7884" stroke-width="1.1"/>
<line x1="127.60" y1="632.01" x2="127.60" y2="641.75" stroke="#ee7884" stroke-width="0.95"/>
<line x1="125.80" y1="641.75" x2="129.40" y2="641.75" stroke="#ee7884" stroke-width="1.1"/>
<line x1="130.65" y1="628.76" x2="130.65" y2="643.48" stroke="#ee7884" stroke-width="0.95"/>
<line x1="128.85" y1="643.48" x2="132.45" y2="643.48" stroke="#ee7884" stroke-width="1.1"/>
<line x1="133.70" y1="624.44" x2="133.70" y2="640.67" stroke="#ee7884" stroke-width="0.95"/>
<line x1="131.90" y1="640.67" x2="135.50" y2="640.67" stroke="#ee7884" stroke-width="1.1"/>
<line x1="136.75" y1="622.27" x2="136.75" y2="643.48" stroke="#ee7884" stroke-width="0.95"/>
<line x1="134.95" y1="643.48" x2="138.55" y2="643.48" stroke="#ee7884" stroke-width="1.1"/>
<line x1="139.80" y1="614.70" x2="139.80" y2="643.48" stroke="#ee7884" stroke-width="0.95"/>
<line x1="138.00" y1="643.48" x2="141.60" y2="643.48" stroke="#ee7884" stroke-width="1.1"/>
<line x1="142.85" y1="625.52" x2="142.85" y2="639.59" stroke="#ee7884" stroke-width="0.95"/>
<line x1="141.05" y1="639.59" x2="144.65" y2="639.59" stroke="#ee7884" stroke-width="1.1"/>
<line x1="145.90" y1="630.93" x2="145.90" y2="635.26" stroke="#ee7884" stroke-width="0.95"/>
<line x1="144.10" y1="635.26" x2="147.70" y2="635.26" stroke="#ee7884" stroke-width="1.1"/>
<line x1="148.95" y1="626.60" x2="148.95" y2="634.17" stroke="#ee7884" stroke-width="0.95"/>
<line x1="147.15" y1="634.17" x2="150.75" y2="634.17" stroke="#ee7884" stroke-width="1.1"/>
<line x1="152.00" y1="622.27" x2="152.00" y2="633.09" stroke="#ee7884" stroke-width="0.95"/>
<line x1="150.20" y1="633.09" x2="153.80" y2="633.09" stroke="#ee7884" stroke-width="1.1"/>
<line x1="155.05" y1="617.94" x2="155.05" y2="635.26" stroke="#ee7884" stroke-width="0.95"/>
<line x1="153.25" y1="635.26" x2="156.85" y2="635.26" stroke="#ee7884" stroke-width="1.1"/>
<line x1="158.10" y1="625.52" x2="158.10" y2="638.50" stroke="#ee7884" stroke-width="0.95"/>
<line x1="156.30" y1="638.50" x2="159.90" y2="638.50" stroke="#ee7884" stroke-width="1.1"/>
<line x1="161.15" y1="622.27" x2="161.15" y2="643.91" stroke="#ee7884" stroke-width="0.95"/>
<line x1="159.35" y1="643.91" x2="162.95" y2="643.91" stroke="#ee7884" stroke-width="1.1"/>
<line x1="164.20" y1="622.27" x2="164.20" y2="646.08" stroke="#ee7884" stroke-width="0.95"/>
<line x1="162.40" y1="646.08" x2="166.00" y2="646.08" stroke="#ee7884" stroke-width="1.1"/>
<line x1="167.25" y1="621.19" x2="167.25" y2="641.75" stroke="#ee7884" stroke-width="0.95"/>
<line x1="165.45" y1="641.75" x2="169.05" y2="641.75" stroke="#ee7884" stroke-width="1.1"/>
<line x1="170.30" y1="620.11" x2="170.30" y2="645.00" stroke="#ee7884" stroke-width="0.95"/>
<line x1="168.50" y1="645.00" x2="172.10" y2="645.00" stroke="#ee7884" stroke-width="1.1"/>
<line x1="173.35" y1="619.02" x2="173.35" y2="647.16" stroke="#ee7884" stroke-width="0.95"/>
<line x1="171.55" y1="647.16" x2="175.15" y2="647.16" stroke="#ee7884" stroke-width="1.1"/>
<line x1="176.40" y1="625.52" x2="176.40" y2="649.32" stroke="#ee7884" stroke-width="0.95"/>
<line x1="174.60" y1="649.32" x2="178.20" y2="649.32" stroke="#ee7884" stroke-width="1.1"/>
<line x1="179.45" y1="622.27" x2="179.45" y2="650.41" stroke="#ee7884" stroke-width="0.95"/>
<line x1="177.65" y1="650.41" x2="181.25" y2="650.41" stroke="#ee7884" stroke-width="1.1"/>
<line x1="182.50" y1="626.69" x2="182.50" y2="646.35" stroke="#ee7884" stroke-width="0.95"/>
<line x1="180.70" y1="646.35" x2="184.30" y2="646.35" stroke="#ee7884" stroke-width="1.1"/>
<line x1="185.55" y1="623.34" x2="185.55" y2="649.30" stroke="#ee7884" stroke-width="0.95"/>
<line x1="183.75" y1="649.30" x2="187.35" y2="649.30" stroke="#ee7884" stroke-width="1.1"/>
<line x1="188.60" y1="615.88" x2="188.60" y2="649.77" stroke="#ee7884" stroke-width="0.95"/>
<line x1="186.80" y1="649.77" x2="190.40" y2="649.77" stroke="#ee7884" stroke-width="1.1"/>
<line x1="191.65" y1="611.76" x2="191.65" y2="642.54" stroke="#ee7884" stroke-width="0.95"/>
<line x1="189.85" y1="642.54" x2="193.45" y2="642.54" stroke="#ee7884" stroke-width="1.1"/>
<line x1="194.70" y1="608.42" x2="194.70" y2="643.32" stroke="#ee7884" stroke-width="0.95"/>
<line x1="192.90" y1="643.32" x2="196.50" y2="643.32" stroke="#ee7884" stroke-width="1.1"/>
<line x1="197.75" y1="612.46" x2="197.75" y2="634.85" stroke="#ee7884" stroke-width="0.95"/>
<line x1="195.95" y1="634.85" x2="199.55" y2="634.85" stroke="#ee7884" stroke-width="1.1"/>
<line x1="200.80" y1="620.62" x2="200.80" y2="653.03" stroke="#ee7884" stroke-width="0.95"/>
<line x1="199.00" y1="653.03" x2="202.60" y2="653.03" stroke="#ee7884" stroke-width="1.1"/>
<line x1="203.85" y1="622.57" x2="203.85" y2="628.01" stroke="#ee7884" stroke-width="0.95"/>
<line x1="202.05" y1="628.01" x2="205.65" y2="628.01" stroke="#ee7884" stroke-width="1.1"/>
<line x1="206.90" y1="623.03" x2="206.90" y2="660.80" stroke="#ee7884" stroke-width="0.95"/>
<line x1="205.10" y1="660.80" x2="208.70" y2="660.80" stroke="#ee7884" stroke-width="1.1"/>
<line x1="209.95" y1="624.43" x2="209.95" y2="648.29" stroke="#ee7884" stroke-width="0.95"/>
<line x1="208.15" y1="648.29" x2="211.75" y2="648.29" stroke="#ee7884" stroke-width="1.1"/>
<line x1="213.00" y1="626.69" x2="213.00" y2="652.41" stroke="#ee7884" stroke-width="0.95"/>
<line x1="211.20" y1="652.41" x2="214.80" y2="652.41" stroke="#ee7884" stroke-width="1.1"/>
<line x1="216.05" y1="632.13" x2="216.05" y2="656.53" stroke="#ee7884" stroke-width="0.95"/>
<line x1="214.25" y1="656.53" x2="217.85" y2="656.53" stroke="#ee7884" stroke-width="1.1"/>
<line x1="219.10" y1="636.56" x2="219.10" y2="663.21" stroke="#ee7884" stroke-width="0.95"/>
<line x1="217.30" y1="663.21" x2="220.90" y2="663.21" stroke="#ee7884" stroke-width="1.1"/>
<line x1="222.15" y1="634.15" x2="222.15" y2="655.99" stroke="#ee7884" stroke-width="0.95"/>
<line x1="220.35" y1="655.99" x2="223.95" y2="655.99" stroke="#ee7884" stroke-width="1.1"/>
<line x1="225.20" y1="631.43" x2="225.20" y2="638.19" stroke="#ee7884" stroke-width="0.95"/>
<line x1="223.40" y1="638.19" x2="227.00" y2="638.19" stroke="#ee7884" stroke-width="1.1"/>
<line x1="228.25" y1="624.74" x2="228.25" y2="656.53" stroke="#ee7884" stroke-width="0.95"/>
<line x1="226.45" y1="656.53" x2="230.05" y2="656.53" stroke="#ee7884" stroke-width="1.1"/>
<line x1="231.30" y1="623.03" x2="231.30" y2="634.07" stroke="#ee7884" stroke-width="0.95"/>
<line x1="229.50" y1="634.07" x2="233.10" y2="634.07" stroke="#ee7884" stroke-width="1.1"/>
<line x1="234.35" y1="618.60" x2="234.35" y2="633.45" stroke="#ee7884" stroke-width="0.95"/>
<line x1="232.55" y1="633.45" x2="236.15" y2="633.45" stroke="#ee7884" stroke-width="1.1"/>
<line x1="237.40" y1="616.50" x2="237.40" y2="647.28" stroke="#ee7884" stroke-width="0.95"/>
<line x1="235.60" y1="647.28" x2="239.20" y2="647.28" stroke="#ee7884" stroke-width="1.1"/>
<line x1="240.45" y1="623.03" x2="240.45" y2="642.54" stroke="#ee7884" stroke-width="0.95"/>
<line x1="238.65" y1="642.54" x2="242.25" y2="642.54" stroke="#ee7884" stroke-width="1.1"/>
<line x1="243.50" y1="623.03" x2="243.50" y2="630.73" stroke="#ee7884" stroke-width="0.95"/>
<line x1="241.70" y1="630.73" x2="245.30" y2="630.73" stroke="#ee7884" stroke-width="1.1"/>
<line x1="246.55" y1="622.02" x2="246.55" y2="631.43" stroke="#ee7884" stroke-width="0.95"/>
<line x1="244.75" y1="631.43" x2="248.35" y2="631.43" stroke="#ee7884" stroke-width="1.1"/>
<line x1="249.60" y1="620.00" x2="249.60" y2="632.05" stroke="#ee7884" stroke-width="0.95"/>
<line x1="247.80" y1="632.05" x2="251.40" y2="632.05" stroke="#ee7884" stroke-width="1.1"/>
<line x1="252.65" y1="618.60" x2="252.65" y2="625.99" stroke="#ee7884" stroke-width="0.95"/>
<line x1="250.85" y1="625.99" x2="254.45" y2="625.99" stroke="#ee7884" stroke-width="1.1"/>
<line x1="255.70" y1="616.50" x2="255.70" y2="635.47" stroke="#ee7884" stroke-width="0.95"/>
<line x1="253.90" y1="635.47" x2="257.50" y2="635.47" stroke="#ee7884" stroke-width="1.1"/>
<line x1="258.75" y1="615.88" x2="258.75" y2="634.22" stroke="#ee7884" stroke-width="0.95"/>
<line x1="256.95" y1="634.22" x2="260.55" y2="634.22" stroke="#ee7884" stroke-width="1.1"/>
<line x1="261.80" y1="621.19" x2="261.80" y2="638.50" stroke="#ee7884" stroke-width="0.95"/>
<line x1="260.00" y1="638.50" x2="263.60" y2="638.50" stroke="#ee7884" stroke-width="1.1"/>
<line x1="264.85" y1="628.76" x2="264.85" y2="639.59" stroke="#ee7884" stroke-width="0.95"/>
<line x1="263.05" y1="639.59" x2="266.65" y2="639.59" stroke="#ee7884" stroke-width="1.1"/>
<line x1="267.90" y1="630.93" x2="267.90" y2="643.91" stroke="#ee7884" stroke-width="0.95"/>
<line x1="266.10" y1="643.91" x2="269.70" y2="643.91" stroke="#ee7884" stroke-width="1.1"/>
<line x1="270.95" y1="626.60" x2="270.95" y2="634.17" stroke="#ee7884" stroke-width="0.95"/>
<line x1="269.15" y1="634.17" x2="272.75" y2="634.17" stroke="#ee7884" stroke-width="1.1"/>
<line x1="274.00" y1="625.52" x2="274.00" y2="636.34" stroke="#ee7884" stroke-width="0.95"/>
<line x1="272.20" y1="636.34" x2="275.80" y2="636.34" stroke="#ee7884" stroke-width="1.1"/>
<line x1="277.05" y1="628.76" x2="277.05" y2="645.00" stroke="#ee7884" stroke-width="0.95"/>
<line x1="275.25" y1="645.00" x2="278.85" y2="645.00" stroke="#ee7884" stroke-width="1.1"/>
<line x1="280.10" y1="621.19" x2="280.10" y2="643.91" stroke="#ee7884" stroke-width="0.95"/>
<line x1="278.30" y1="643.91" x2="281.90" y2="643.91" stroke="#ee7884" stroke-width="1.1"/>
<line x1="283.15" y1="632.01" x2="283.15" y2="646.08" stroke="#ee7884" stroke-width="0.95"/>
<line x1="281.35" y1="646.08" x2="284.95" y2="646.08" stroke="#ee7884" stroke-width="1.1"/>
<line x1="286.20" y1="628.76" x2="286.20" y2="646.08" stroke="#ee7884" stroke-width="0.95"/>
<line x1="284.40" y1="646.08" x2="288.00" y2="646.08" stroke="#ee7884" stroke-width="1.1"/>
<line x1="289.25" y1="633.09" x2="289.25" y2="651.49" stroke="#ee7884" stroke-width="0.95"/>
<line x1="287.45" y1="651.49" x2="291.05" y2="651.49" stroke="#ee7884" stroke-width="1.1"/>
<line x1="292.30" y1="630.93" x2="292.30" y2="652.14" stroke="#ee7884" stroke-width="0.95"/>
<line x1="290.50" y1="652.14" x2="294.10" y2="652.14" stroke="#ee7884" stroke-width="1.1"/>
<line x1="295.35" y1="615.78" x2="295.35" y2="639.59" stroke="#ee7884" stroke-width="0.95"/>
<line x1="293.55" y1="639.59" x2="297.15" y2="639.59" stroke="#ee7884" stroke-width="1.1"/>
<line x1="298.40" y1="603.22" x2="298.40" y2="641.75" stroke="#ee7884" stroke-width="0.95"/>
<line x1="296.60" y1="641.75" x2="300.20" y2="641.75" stroke="#ee7884" stroke-width="1.1"/>
<line x1="301.45" y1="617.94" x2="301.45" y2="649.32" stroke="#ee7884" stroke-width="0.95"/>
<line x1="299.65" y1="649.32" x2="303.25" y2="649.32" stroke="#ee7884" stroke-width="1.1"/>
<line x1="304.50" y1="610.37" x2="304.50" y2="649.32" stroke="#ee7884" stroke-width="0.95"/>
<line x1="302.70" y1="649.32" x2="306.30" y2="649.32" stroke="#ee7884" stroke-width="1.1"/>
<line x1="307.55" y1="604.96" x2="307.55" y2="649.32" stroke="#ee7884" stroke-width="0.95"/>
<line x1="305.75" y1="649.32" x2="309.35" y2="649.32" stroke="#ee7884" stroke-width="1.1"/>
<line x1="310.60" y1="635.26" x2="310.60" y2="660.15" stroke="#ee7884" stroke-width="0.95"/>
<line x1="308.80" y1="660.15" x2="312.40" y2="660.15" stroke="#ee7884" stroke-width="1.1"/>
<line x1="313.65" y1="637.42" x2="313.65" y2="665.12" stroke="#ee7884" stroke-width="0.95"/>
<line x1="311.85" y1="665.12" x2="315.45" y2="665.12" stroke="#ee7884" stroke-width="1.1"/>
<line x1="316.70" y1="633.09" x2="316.70" y2="663.83" stroke="#ee7884" stroke-width="0.95"/>
<line x1="314.90" y1="663.83" x2="318.50" y2="663.83" stroke="#ee7884" stroke-width="1.1"/>
<line x1="319.75" y1="632.01" x2="319.75" y2="658.63" stroke="#ee7884" stroke-width="0.95"/>
<line x1="317.95" y1="658.63" x2="321.55" y2="658.63" stroke="#ee7884" stroke-width="1.1"/>
<line x1="322.80" y1="633.09" x2="322.80" y2="652.57" stroke="#ee7884" stroke-width="0.95"/>
<line x1="321.00" y1="652.57" x2="324.60" y2="652.57" stroke="#ee7884" stroke-width="1.1"/>
<line x1="325.85" y1="633.09" x2="325.85" y2="658.63" stroke="#ee7884" stroke-width="0.95"/>
<line x1="324.05" y1="658.63" x2="327.65" y2="658.63" stroke="#ee7884" stroke-width="1.1"/>
<line x1="328.90" y1="635.26" x2="328.90" y2="651.49" stroke="#ee7884" stroke-width="0.95"/>
<line x1="327.10" y1="651.49" x2="330.70" y2="651.49" stroke="#ee7884" stroke-width="1.1"/>
<line x1="331.95" y1="638.50" x2="331.95" y2="652.57" stroke="#ee7884" stroke-width="0.95"/>
<line x1="330.15" y1="652.57" x2="333.75" y2="652.57" stroke="#ee7884" stroke-width="1.1"/>
<line x1="335.00" y1="633.09" x2="335.00" y2="646.08" stroke="#ee7884" stroke-width="0.95"/>
<line x1="333.20" y1="646.08" x2="336.80" y2="646.08" stroke="#ee7884" stroke-width="1.1"/>
<line x1="338.05" y1="625.52" x2="338.05" y2="646.08" stroke="#ee7884" stroke-width="0.95"/>
<line x1="336.25" y1="646.08" x2="339.85" y2="646.08" stroke="#ee7884" stroke-width="1.1"/>
<polyline points="48.30,657.98 51.35,641.75 54.40,638.50 57.45,640.67 60.50,635.26 63.55,630.50 66.60,632.01 69.65,636.34 72.70,640.67 75.75,635.26 78.80,640.67 81.85,635.26 84.90,634.17 87.95,636.34 91.00,635.26 94.05,637.42 97.10,636.34 100.15,634.17 103.20,633.09 106.25,635.26 109.30,636.34 112.35,637.42 115.40,637.42 118.45,636.99 121.50,636.34 124.55,635.26 127.60,632.01 130.65,628.76 133.70,624.44 136.75,622.27 139.80,614.70 142.85,625.52 145.90,630.93 148.95,626.60 152.00,622.27 155.05,617.94 158.10,625.52 161.15,622.27 164.20,622.27 167.25,621.19 170.30,620.11 173.35,619.02 176.40,625.52 179.45,622.27 182.50,626.69 185.55,623.34 188.60,615.88 191.65,611.76 194.70,608.42 197.75,612.46 200.80,620.62 203.85,622.57 206.90,623.03 209.95,624.43 213.00,626.69 216.05,632.13 219.10,636.56 222.15,634.15 225.20,631.43 228.25,624.74 231.30,623.03 234.35,618.60 237.40,616.50 240.45,623.03 243.50,623.03 246.55,622.02 249.60,620.00 252.65,618.60 255.70,616.50 258.75,615.88 261.80,621.19 264.85,628.76 267.90,630.93 270.95,626.60 274.00,625.52 277.05,628.76 280.10,621.19 283.15,632.01 286.20,628.76 289.25,633.09 292.30,630.93 295.35,615.78 298.40,603.22 301.45,617.94 304.50,610.37 307.55,604.96 310.60,635.26 313.65,637.42 316.70,633.09 319.75,632.01 322.80,633.09 325.85,633.09 328.90,635.26 331.95,638.50 335.00,633.09 338.05,625.52" fill="none" stroke="#ea4d60" stroke-width="0.85" stroke-linejoin="round"/>
<line x1="45.7" y1="502.10" x2="45.7" y2="696.40" stroke="#7d7d7d" stroke-width="1"/>
<line x1="40.90" y1="696.40" x2="45.7" y2="696.40" stroke="#7d7d7d" stroke-width="1"/>
<text x="38.40" y="700.20" text-anchor="end" font-size="10.5" fill="#1e1e1e" stroke="#1e1e1e" stroke-width="0.25">0</text>
<line x1="40.90" y1="657.54" x2="45.7" y2="657.54" stroke="#7d7d7d" stroke-width="1"/>
<text x="38.40" y="661.34" text-anchor="end" font-size="10.5" fill="#1e1e1e" stroke="#1e1e1e" stroke-width="0.25">50</text>
<line x1="40.90" y1="618.68" x2="45.7" y2="618.68" stroke="#7d7d7d" stroke-width="1"/>
<text x="38.40" y="622.48" text-anchor="end" font-size="10.5" fill="#1e1e1e" stroke="#1e1e1e" stroke-width="0.25">100</text>
<line x1="40.90" y1="579.82" x2="45.7" y2="579.82" stroke="#7d7d7d" stroke-width="1"/>
<text x="38.40" y="583.62" text-anchor="end" font-size="10.5" fill="#1e1e1e" stroke="#1e1e1e" stroke-width="0.25">150</text>
<line x1="40.90" y1="540.96" x2="45.7" y2="540.96" stroke="#7d7d7d" stroke-width="1"/>
<text x="38.40" y="544.76" text-anchor="end" font-size="10.5" fill="#1e1e1e" stroke="#1e1e1e" stroke-width="0.25">200</text>
<line x1="40.90" y1="502.10" x2="45.7" y2="502.10" stroke="#7d7d7d" stroke-width="1"/>
<text x="38.40" y="505.90" text-anchor="end" font-size="10.5" fill="#1e1e1e" stroke="#1e1e1e" stroke-width="0.25">250</text>
<line x1="41.00" y1="696.40" x2="337.70" y2="696.40" stroke="#7d7d7d" stroke-width="1.3"/>
<line x1="48.30" y1="696.40" x2="48.30" y2="701.10" stroke="#7d7d7d" stroke-width="1"/>
<text transform="translate(51.30,711.40) rotate(-45)" text-anchor="end" font-size="10.5" fill="#1e1e1e" stroke="#1e1e1e" stroke-width="0.25">0</text>
<line x1="78.80" y1="696.40" x2="78.80" y2="701.10" stroke="#7d7d7d" stroke-width="1"/>
<text transform="translate(81.80,711.40) rotate(-45)" text-anchor="end" font-size="10.5" fill="#1e1e1e" stroke="#1e1e1e" stroke-width="0.25">10</text>
<line x1="109.30" y1="696.40" x2="109.30" y2="701.10" stroke="#7d7d7d" stroke-width="1"/>
<text transform="translate(112.30,711.40) rotate(-45)" text-anchor="end" font-size="10.5" fill="#1e1e1e" stroke="#1e1e1e" stroke-width="0.25">20</text>
<line x1="139.80" y1="696.40" x2="139.80" y2="701.10" stroke="#7d7d7d" stroke-width="1"/>
<text transform="translate(142.80,711.40) rotate(-45)" text-anchor="end" font-size="10.5" fill="#1e1e1e" stroke="#1e1e1e" stroke-width="0.25">30</text>
<line x1="170.30" y1="696.40" x2="170.30" y2="701.10" stroke="#7d7d7d" stroke-width="1"/>
<text transform="translate(173.30,711.40) rotate(-45)" text-anchor="end" font-size="10.5" fill="#1e1e1e" stroke="#1e1e1e" stroke-width="0.25">40</text>
<line x1="200.80" y1="696.40" x2="200.80" y2="701.10" stroke="#7d7d7d" stroke-width="1"/>
<text transform="translate(203.80,711.40) rotate(-45)" text-anchor="end" font-size="10.5" fill="#1e1e1e" stroke="#1e1e1e" stroke-width="0.25">50</text>
<line x1="231.30" y1="696.40" x2="231.30" y2="701.10" stroke="#7d7d7d" stroke-width="1"/>
<text transform="translate(234.30,711.40) rotate(-45)" text-anchor="end" font-size="10.5" fill="#1e1e1e" stroke="#1e1e1e" stroke-width="0.25">60</text>
<line x1="261.80" y1="696.40" x2="261.80" y2="701.10" stroke="#7d7d7d" stroke-width="1"/>
<text transform="translate(264.80,711.40) rotate(-45)" text-anchor="end" font-size="10.5" fill="#1e1e1e" stroke="#1e1e1e" stroke-width="0.25">70</text>
<line x1="292.30" y1="696.40" x2="292.30" y2="701.10" stroke="#7d7d7d" stroke-width="1"/>
<text transform="translate(295.30,711.40) rotate(-45)" text-anchor="end" font-size="10.5" fill="#1e1e1e" stroke="#1e1e1e" stroke-width="0.25">80</text>
<line x1="322.80" y1="696.40" x2="322.80" y2="701.10" stroke="#7d7d7d" stroke-width="1"/>
<text transform="translate(325.80,711.40) rotate(-45)" text-anchor="end" font-size="10.5" fill="#1e1e1e" stroke="#1e1e1e" stroke-width="0.25">90</text>
<line x1="49.10" y1="515.30" x2="153.50" y2="515.30" stroke="#444" stroke-width="1.1"/>
<line x1="49.10" y1="514.00" x2="49.10" y2="516.60" stroke="#444" stroke-width="1"/>
<line x1="153.50" y1="514.00" x2="153.50" y2="516.60" stroke="#444" stroke-width="1"/>
<line x1="101.00" y1="499.00" x2="101.00" y2="507.00" stroke="#111" stroke-width="1.55"/>
<line x1="97.54" y1="501.00" x2="104.46" y2="505.00" stroke="#111" stroke-width="1.55"/>
<line x1="97.54" y1="505.00" x2="104.46" y2="501.00" stroke="#111" stroke-width="1.55"/>
<text transform="translate(12.00,600.00) rotate(-90)" text-anchor="middle" font-size="13.9" font-weight="bold" fill="#1e1e1e" stroke="#1e1e1e" stroke-width="0.3" textLength="97.8" lengthAdjust="spacing">Pyruvate (μM)</text>
<rect x="402.40" y="618.80" width="291.30" height="25.93" fill="#c0c0fd"/>
<line x1="402.40" y1="618.80" x2="693.70" y2="618.80" stroke="#a0a0b8" stroke-width="1" stroke-dasharray="1 1.96"/>
<line x1="402.40" y1="644.73" x2="693.70" y2="644.73" stroke="#a0a0b8" stroke-width="1" stroke-dasharray="1 1.96"/>
<line x1="474.68" y1="502.10" x2="474.68" y2="696.60" stroke="#777" stroke-width="1" stroke-dasharray="1 1.93"/>
<line x1="620.94" y1="502.10" x2="620.94" y2="696.60" stroke="#777" stroke-width="1" stroke-dasharray="1 1.93"/>
<line x1="407.65" y1="635.31" x2="407.65" y2="594.19" stroke="#7e7ef2" stroke-width="0.95"/>
<line x1="405.85" y1="594.19" x2="409.45" y2="594.19" stroke="#7e7ef2" stroke-width="1.1"/>
<line x1="410.69" y1="620.16" x2="410.69" y2="584.45" stroke="#7e7ef2" stroke-width="0.95"/>
<line x1="408.89" y1="584.45" x2="412.49" y2="584.45" stroke="#7e7ef2" stroke-width="1.1"/>
<line x1="413.74" y1="619.73" x2="413.74" y2="593.11" stroke="#7e7ef2" stroke-width="0.95"/>
<line x1="411.94" y1="593.11" x2="415.54" y2="593.11" stroke="#7e7ef2" stroke-width="1.1"/>
<line x1="416.79" y1="619.08" x2="416.79" y2="592.46" stroke="#7e7ef2" stroke-width="0.95"/>
<line x1="414.99" y1="592.46" x2="418.59" y2="592.46" stroke="#7e7ef2" stroke-width="1.1"/>
<line x1="419.84" y1="611.50" x2="419.84" y2="592.46" stroke="#7e7ef2" stroke-width="0.95"/>
<line x1="418.04" y1="592.46" x2="421.64" y2="592.46" stroke="#7e7ef2" stroke-width="1.1"/>
<line x1="422.88" y1="618.00" x2="422.88" y2="596.79" stroke="#7e7ef2" stroke-width="0.95"/>
<line x1="421.08" y1="596.79" x2="424.68" y2="596.79" stroke="#7e7ef2" stroke-width="1.1"/>
<line x1="425.93" y1="620.16" x2="425.93" y2="597.44" stroke="#7e7ef2" stroke-width="0.95"/>
<line x1="424.13" y1="597.44" x2="427.73" y2="597.44" stroke="#7e7ef2" stroke-width="1.1"/>
<line x1="428.98" y1="619.08" x2="428.98" y2="598.09" stroke="#7e7ef2" stroke-width="0.95"/>
<line x1="427.18" y1="598.09" x2="430.78" y2="598.09" stroke="#7e7ef2" stroke-width="1.1"/>
<line x1="432.02" y1="618.43" x2="432.02" y2="598.52" stroke="#7e7ef2" stroke-width="0.95"/>
<line x1="430.22" y1="598.52" x2="433.82" y2="598.52" stroke="#7e7ef2" stroke-width="1.1"/>
<line x1="435.07" y1="619.08" x2="435.07" y2="600.25" stroke="#7e7ef2" stroke-width="0.95"/>
<line x1="433.27" y1="600.25" x2="436.87" y2="600.25" stroke="#7e7ef2" stroke-width="1.1"/>
<line x1="438.12" y1="621.89" x2="438.12" y2="597.44" stroke="#7e7ef2" stroke-width="0.95"/>
<line x1="436.32" y1="597.44" x2="439.92" y2="597.44" stroke="#7e7ef2" stroke-width="1.1"/>
<line x1="441.16" y1="618.00" x2="441.16" y2="598.95" stroke="#7e7ef2" stroke-width="0.95"/>
<line x1="439.36" y1="598.95" x2="442.96" y2="598.95" stroke="#7e7ef2" stroke-width="1.1"/>
<line x1="444.21" y1="616.91" x2="444.21" y2="596.36" stroke="#7e7ef2" stroke-width="0.95"/>
<line x1="442.41" y1="596.36" x2="446.01" y2="596.36" stroke="#7e7ef2" stroke-width="1.1"/>
<line x1="447.26" y1="618.00" x2="447.26" y2="595.27" stroke="#7e7ef2" stroke-width="0.95"/>
<line x1="445.46" y1="595.27" x2="449.06" y2="595.27" stroke="#7e7ef2" stroke-width="1.1"/>
<line x1="450.31" y1="618.43" x2="450.31" y2="597.44" stroke="#7e7ef2" stroke-width="0.95"/>
<line x1="448.50" y1="597.44" x2="452.11" y2="597.44" stroke="#7e7ef2" stroke-width="1.1"/>
<line x1="453.35" y1="616.91" x2="453.35" y2="600.68" stroke="#7e7ef2" stroke-width="0.95"/>
<line x1="451.55" y1="600.68" x2="455.15" y2="600.68" stroke="#7e7ef2" stroke-width="1.1"/>
<line x1="456.40" y1="618.00" x2="456.40" y2="599.60" stroke="#7e7ef2" stroke-width="0.95"/>
<line x1="454.60" y1="599.60" x2="458.20" y2="599.60" stroke="#7e7ef2" stroke-width="1.1"/>
<line x1="459.45" y1="620.59" x2="459.45" y2="603.28" stroke="#7e7ef2" stroke-width="0.95"/>
<line x1="457.65" y1="603.28" x2="461.25" y2="603.28" stroke="#7e7ef2" stroke-width="1.1"/>
<line x1="462.49" y1="613.67" x2="462.49" y2="593.11" stroke="#7e7ef2" stroke-width="0.95"/>
<line x1="460.69" y1="593.11" x2="464.29" y2="593.11" stroke="#7e7ef2" stroke-width="1.1"/>
<line x1="465.54" y1="614.75" x2="465.54" y2="593.11" stroke="#7e7ef2" stroke-width="0.95"/>
<line x1="463.74" y1="593.11" x2="467.34" y2="593.11" stroke="#7e7ef2" stroke-width="1.1"/>
<line x1="468.59" y1="615.83" x2="468.59" y2="596.79" stroke="#7e7ef2" stroke-width="0.95"/>
<line x1="466.79" y1="596.79" x2="470.39" y2="596.79" stroke="#7e7ef2" stroke-width="1.1"/>
<line x1="471.63" y1="616.91" x2="471.63" y2="596.79" stroke="#7e7ef2" stroke-width="0.95"/>
<line x1="469.83" y1="596.79" x2="473.43" y2="596.79" stroke="#7e7ef2" stroke-width="1.1"/>
<line x1="474.68" y1="614.75" x2="474.68" y2="592.03" stroke="#7e7ef2" stroke-width="0.95"/>
<line x1="472.88" y1="592.03" x2="476.48" y2="592.03" stroke="#7e7ef2" stroke-width="1.1"/>
<line x1="477.73" y1="613.67" x2="477.73" y2="591.60" stroke="#7e7ef2" stroke-width="0.95"/>
<line x1="475.93" y1="591.60" x2="479.53" y2="591.60" stroke="#7e7ef2" stroke-width="1.1"/>
<line x1="480.78" y1="611.50" x2="480.78" y2="592.46" stroke="#7e7ef2" stroke-width="0.95"/>
<line x1="478.98" y1="592.46" x2="482.58" y2="592.46" stroke="#7e7ef2" stroke-width="1.1"/>
<line x1="483.82" y1="612.59" x2="483.82" y2="593.11" stroke="#7e7ef2" stroke-width="0.95"/>
<line x1="482.02" y1="593.11" x2="485.62" y2="593.11" stroke="#7e7ef2" stroke-width="1.1"/>
<line x1="486.87" y1="610.42" x2="486.87" y2="592.03" stroke="#7e7ef2" stroke-width="0.95"/>
<line x1="485.07" y1="592.03" x2="488.67" y2="592.03" stroke="#7e7ef2" stroke-width="1.1"/>
<line x1="489.92" y1="607.18" x2="489.92" y2="590.30" stroke="#7e7ef2" stroke-width="0.95"/>
<line x1="488.12" y1="590.30" x2="491.72" y2="590.30" stroke="#7e7ef2" stroke-width="1.1"/>
<line x1="492.96" y1="609.34" x2="492.96" y2="592.46" stroke="#7e7ef2" stroke-width="0.95"/>
<line x1="491.16" y1="592.46" x2="494.76" y2="592.46" stroke="#7e7ef2" stroke-width="1.1"/>
<line x1="496.01" y1="611.50" x2="496.01" y2="591.60" stroke="#7e7ef2" stroke-width="0.95"/>
<line x1="494.21" y1="591.60" x2="497.81" y2="591.60" stroke="#7e7ef2" stroke-width="1.1"/>
<line x1="499.06" y1="608.26" x2="499.06" y2="592.03" stroke="#7e7ef2" stroke-width="0.95"/>
<line x1="497.26" y1="592.03" x2="500.86" y2="592.03" stroke="#7e7ef2" stroke-width="1.1"/>
<line x1="502.10" y1="605.01" x2="502.10" y2="590.95" stroke="#7e7ef2" stroke-width="0.95"/>
<line x1="500.30" y1="590.95" x2="503.90" y2="590.95" stroke="#7e7ef2" stroke-width="1.1"/>
<line x1="505.15" y1="606.09" x2="505.15" y2="595.27" stroke="#7e7ef2" stroke-width="0.95"/>
<line x1="503.35" y1="595.27" x2="506.95" y2="595.27" stroke="#7e7ef2" stroke-width="1.1"/>
<line x1="508.20" y1="607.18" x2="508.20" y2="592.03" stroke="#7e7ef2" stroke-width="0.95"/>
<line x1="506.40" y1="592.03" x2="510.00" y2="592.03" stroke="#7e7ef2" stroke-width="1.1"/>
<line x1="511.25" y1="605.01" x2="511.25" y2="592.46" stroke="#7e7ef2" stroke-width="0.95"/>
<line x1="509.44" y1="592.46" x2="513.04" y2="592.46" stroke="#7e7ef2" stroke-width="1.1"/>
<line x1="514.29" y1="607.18" x2="514.29" y2="595.27" stroke="#7e7ef2" stroke-width="0.95"/>
<line x1="512.49" y1="595.27" x2="516.09" y2="595.27" stroke="#7e7ef2" stroke-width="1.1"/>
<line x1="517.34" y1="609.77" x2="517.34" y2="595.27" stroke="#7e7ef2" stroke-width="0.95"/>
<line x1="515.54" y1="595.27" x2="519.14" y2="595.27" stroke="#7e7ef2" stroke-width="1.1"/>
<line x1="520.39" y1="606.09" x2="520.39" y2="592.03" stroke="#7e7ef2" stroke-width="0.95"/>
<line x1="518.59" y1="592.03" x2="522.19" y2="592.03" stroke="#7e7ef2" stroke-width="1.1"/>
<line x1="523.43" y1="603.93" x2="523.43" y2="586.62" stroke="#7e7ef2" stroke-width="0.95"/>
<line x1="521.63" y1="586.62" x2="525.23" y2="586.62" stroke="#7e7ef2" stroke-width="1.1"/>
<line x1="526.48" y1="605.01" x2="526.48" y2="590.30" stroke="#7e7ef2" stroke-width="0.95"/>
<line x1="524.68" y1="590.30" x2="528.28" y2="590.30" stroke="#7e7ef2" stroke-width="1.1"/>
<line x1="529.53" y1="606.09" x2="529.53" y2="594.19" stroke="#7e7ef2" stroke-width="0.95"/>
<line x1="527.73" y1="594.19" x2="531.33" y2="594.19" stroke="#7e7ef2" stroke-width="1.1"/>
<line x1="532.57" y1="603.93" x2="532.57" y2="594.63" stroke="#7e7ef2" stroke-width="0.95"/>
<line x1="530.77" y1="594.63" x2="534.37" y2="594.63" stroke="#7e7ef2" stroke-width="1.1"/>
<line x1="535.62" y1="605.01" x2="535.62" y2="590.30" stroke="#7e7ef2" stroke-width="0.95"/>
<line x1="533.82" y1="590.30" x2="537.42" y2="590.30" stroke="#7e7ef2" stroke-width="1.1"/>
<line x1="538.67" y1="601.77" x2="538.67" y2="591.60" stroke="#7e7ef2" stroke-width="0.95"/>
<line x1="536.87" y1="591.60" x2="540.47" y2="591.60" stroke="#7e7ef2" stroke-width="1.1"/>
<line x1="541.72" y1="603.93" x2="541.72" y2="591.60" stroke="#7e7ef2" stroke-width="0.95"/>
<line x1="539.92" y1="591.60" x2="543.51" y2="591.60" stroke="#7e7ef2" stroke-width="1.1"/>
<line x1="544.76" y1="600.68" x2="544.76" y2="591.60" stroke="#7e7ef2" stroke-width="0.95"/>
<line x1="542.96" y1="591.60" x2="546.56" y2="591.60" stroke="#7e7ef2" stroke-width="1.1"/>
<line x1="547.81" y1="609.34" x2="547.81" y2="583.37" stroke="#7e7ef2" stroke-width="0.95"/>
<line x1="546.01" y1="583.37" x2="549.61" y2="583.37" stroke="#7e7ef2" stroke-width="1.1"/>
<line x1="550.86" y1="612.59" x2="550.86" y2="592.46" stroke="#7e7ef2" stroke-width="0.95"/>
<line x1="549.06" y1="592.46" x2="552.66" y2="592.46" stroke="#7e7ef2" stroke-width="1.1"/>
<line x1="553.90" y1="613.67" x2="553.90" y2="593.76" stroke="#7e7ef2" stroke-width="0.95"/>
<line x1="552.10" y1="593.76" x2="555.70" y2="593.76" stroke="#7e7ef2" stroke-width="1.1"/>
<line x1="556.95" y1="611.50" x2="556.95" y2="595.92" stroke="#7e7ef2" stroke-width="0.95"/>
<line x1="555.15" y1="595.92" x2="558.75" y2="595.92" stroke="#7e7ef2" stroke-width="1.1"/>
<line x1="560.00" y1="608.26" x2="560.00" y2="595.27" stroke="#7e7ef2" stroke-width="0.95"/>
<line x1="558.20" y1="595.27" x2="561.80" y2="595.27" stroke="#7e7ef2" stroke-width="1.1"/>
<line x1="563.04" y1="612.59" x2="563.04" y2="602.85" stroke="#7e7ef2" stroke-width="0.95"/>
<line x1="561.24" y1="602.85" x2="564.84" y2="602.85" stroke="#7e7ef2" stroke-width="1.1"/>
<line x1="566.09" y1="614.75" x2="566.09" y2="606.09" stroke="#7e7ef2" stroke-width="0.95"/>
<line x1="564.29" y1="606.09" x2="567.89" y2="606.09" stroke="#7e7ef2" stroke-width="1.1"/>
<line x1="569.14" y1="613.67" x2="569.14" y2="601.77" stroke="#7e7ef2" stroke-width="0.95"/>
<line x1="567.34" y1="601.77" x2="570.94" y2="601.77" stroke="#7e7ef2" stroke-width="1.1"/>
<line x1="572.19" y1="614.75" x2="572.19" y2="601.77" stroke="#7e7ef2" stroke-width="0.95"/>
<line x1="570.39" y1="601.77" x2="573.99" y2="601.77" stroke="#7e7ef2" stroke-width="1.1"/>
<line x1="575.23" y1="612.59" x2="575.23" y2="592.46" stroke="#7e7ef2" stroke-width="0.95"/>
<line x1="573.43" y1="592.46" x2="577.03" y2="592.46" stroke="#7e7ef2" stroke-width="1.1"/>
<line x1="578.28" y1="611.50" x2="578.28" y2="586.62" stroke="#7e7ef2" stroke-width="0.95"/>
<line x1="576.48" y1="586.62" x2="580.08" y2="586.62" stroke="#7e7ef2" stroke-width="1.1"/>
<line x1="581.33" y1="610.42" x2="581.33" y2="593.76" stroke="#7e7ef2" stroke-width="0.95"/>
<line x1="579.53" y1="593.76" x2="583.13" y2="593.76" stroke="#7e7ef2" stroke-width="1.1"/>
<line x1="584.37" y1="607.18" x2="584.37" y2="593.11" stroke="#7e7ef2" stroke-width="0.95"/>
<line x1="582.57" y1="593.11" x2="586.17" y2="593.11" stroke="#7e7ef2" stroke-width="1.1"/>
<line x1="587.42" y1="609.34" x2="587.42" y2="593.11" stroke="#7e7ef2" stroke-width="0.95"/>
<line x1="585.62" y1="593.11" x2="589.22" y2="593.11" stroke="#7e7ef2" stroke-width="1.1"/>
<line x1="590.47" y1="612.59" x2="590.47" y2="603.93" stroke="#7e7ef2" stroke-width="0.95"/>
<line x1="588.67" y1="603.93" x2="592.27" y2="603.93" stroke="#7e7ef2" stroke-width="1.1"/>
<line x1="593.51" y1="606.09" x2="593.51" y2="596.79" stroke="#7e7ef2" stroke-width="0.95"/>
<line x1="591.71" y1="596.79" x2="595.31" y2="596.79" stroke="#7e7ef2" stroke-width="1.1"/>
<line x1="596.56" y1="609.34" x2="596.56" y2="584.45" stroke="#7e7ef2" stroke-width="0.95"/>
<line x1="594.76" y1="584.45" x2="598.36" y2="584.45" stroke="#7e7ef2" stroke-width="1.1"/>
<line x1="599.61" y1="605.01" x2="599.61" y2="585.54" stroke="#7e7ef2" stroke-width="0.95"/>
<line x1="597.81" y1="585.54" x2="601.41" y2="585.54" stroke="#7e7ef2" stroke-width="1.1"/>
<line x1="602.65" y1="611.50" x2="602.65" y2="599.60" stroke="#7e7ef2" stroke-width="0.95"/>
<line x1="600.86" y1="599.60" x2="604.45" y2="599.60" stroke="#7e7ef2" stroke-width="1.1"/>
<line x1="605.70" y1="606.09" x2="605.70" y2="588.78" stroke="#7e7ef2" stroke-width="0.95"/>
<line x1="603.90" y1="588.78" x2="607.50" y2="588.78" stroke="#7e7ef2" stroke-width="1.1"/>
<line x1="608.75" y1="610.42" x2="608.75" y2="583.37" stroke="#7e7ef2" stroke-width="0.95"/>
<line x1="606.95" y1="583.37" x2="610.55" y2="583.37" stroke="#7e7ef2" stroke-width="1.1"/>
<line x1="611.80" y1="605.01" x2="611.80" y2="586.62" stroke="#7e7ef2" stroke-width="0.95"/>
<line x1="610.00" y1="586.62" x2="613.60" y2="586.62" stroke="#7e7ef2" stroke-width="1.1"/>
<line x1="614.84" y1="609.34" x2="614.84" y2="596.36" stroke="#7e7ef2" stroke-width="0.95"/>
<line x1="613.04" y1="596.36" x2="616.64" y2="596.36" stroke="#7e7ef2" stroke-width="1.1"/>
<line x1="617.89" y1="610.42" x2="617.89" y2="595.27" stroke="#7e7ef2" stroke-width="0.95"/>
<line x1="616.09" y1="595.27" x2="619.69" y2="595.27" stroke="#7e7ef2" stroke-width="1.1"/>
<line x1="620.94" y1="609.34" x2="620.94" y2="574.72" stroke="#7e7ef2" stroke-width="0.95"/>
<line x1="619.14" y1="574.72" x2="622.74" y2="574.72" stroke="#7e7ef2" stroke-width="1.1"/>
<line x1="623.98" y1="610.42" x2="623.98" y2="573.63" stroke="#7e7ef2" stroke-width="0.95"/>
<line x1="622.18" y1="573.63" x2="625.78" y2="573.63" stroke="#7e7ef2" stroke-width="1.1"/>
<line x1="627.03" y1="608.26" x2="627.03" y2="572.55" stroke="#7e7ef2" stroke-width="0.95"/>
<line x1="625.23" y1="572.55" x2="628.83" y2="572.55" stroke="#7e7ef2" stroke-width="1.1"/>
<line x1="630.08" y1="601.77" x2="630.08" y2="577.96" stroke="#7e7ef2" stroke-width="0.95"/>
<line x1="628.28" y1="577.96" x2="631.88" y2="577.96" stroke="#7e7ef2" stroke-width="1.1"/>
<line x1="633.12" y1="598.52" x2="633.12" y2="576.88" stroke="#7e7ef2" stroke-width="0.95"/>
<line x1="631.33" y1="576.88" x2="634.92" y2="576.88" stroke="#7e7ef2" stroke-width="1.1"/>
<line x1="636.17" y1="607.18" x2="636.17" y2="588.13" stroke="#7e7ef2" stroke-width="0.95"/>
<line x1="634.37" y1="588.13" x2="637.97" y2="588.13" stroke="#7e7ef2" stroke-width="1.1"/>
<line x1="639.22" y1="611.50" x2="639.22" y2="594.19" stroke="#7e7ef2" stroke-width="0.95"/>
<line x1="637.42" y1="594.19" x2="641.02" y2="594.19" stroke="#7e7ef2" stroke-width="1.1"/>
<line x1="642.27" y1="606.09" x2="642.27" y2="594.63" stroke="#7e7ef2" stroke-width="0.95"/>
<line x1="640.47" y1="594.63" x2="644.07" y2="594.63" stroke="#7e7ef2" stroke-width="1.1"/>
<line x1="645.31" y1="602.85" x2="645.31" y2="585.54" stroke="#7e7ef2" stroke-width="0.95"/>
<line x1="643.51" y1="585.54" x2="647.11" y2="585.54" stroke="#7e7ef2" stroke-width="1.1"/>
<line x1="648.36" y1="606.09" x2="648.36" y2="585.97" stroke="#7e7ef2" stroke-width="0.95"/>
<line x1="646.56" y1="585.97" x2="650.16" y2="585.97" stroke="#7e7ef2" stroke-width="1.1"/>
<line x1="651.41" y1="601.77" x2="651.41" y2="586.62" stroke="#7e7ef2" stroke-width="0.95"/>
<line x1="649.61" y1="586.62" x2="653.21" y2="586.62" stroke="#7e7ef2" stroke-width="1.1"/>
<line x1="654.45" y1="603.93" x2="654.45" y2="582.29" stroke="#7e7ef2" stroke-width="0.95"/>
<line x1="652.65" y1="582.29" x2="656.25" y2="582.29" stroke="#7e7ef2" stroke-width="1.1"/>
<line x1="657.50" y1="595.27" x2="657.50" y2="575.80" stroke="#7e7ef2" stroke-width="0.95"/>
<line x1="655.70" y1="575.80" x2="659.30" y2="575.80" stroke="#7e7ef2" stroke-width="1.1"/>
<line x1="660.55" y1="588.78" x2="660.55" y2="572.55" stroke="#7e7ef2" stroke-width="0.95"/>
<line x1="658.75" y1="572.55" x2="662.35" y2="572.55" stroke="#7e7ef2" stroke-width="1.1"/>
<line x1="663.60" y1="590.95" x2="663.60" y2="560.65" stroke="#7e7ef2" stroke-width="0.95"/>
<line x1="661.80" y1="560.65" x2="665.39" y2="560.65" stroke="#7e7ef2" stroke-width="1.1"/>
<line x1="666.64" y1="586.62" x2="666.64" y2="569.96" stroke="#7e7ef2" stroke-width="0.95"/>
<line x1="664.84" y1="569.96" x2="668.44" y2="569.96" stroke="#7e7ef2" stroke-width="1.1"/>
<line x1="669.69" y1="598.52" x2="669.69" y2="575.80" stroke="#7e7ef2" stroke-width="0.95"/>
<line x1="667.89" y1="575.80" x2="671.49" y2="575.80" stroke="#7e7ef2" stroke-width="1.1"/>
<line x1="672.74" y1="594.19" x2="672.74" y2="576.88" stroke="#7e7ef2" stroke-width="0.95"/>
<line x1="670.94" y1="576.88" x2="674.54" y2="576.88" stroke="#7e7ef2" stroke-width="1.1"/>
<line x1="675.78" y1="597.44" x2="675.78" y2="547.67" stroke="#7e7ef2" stroke-width="0.95"/>
<line x1="673.98" y1="547.67" x2="677.58" y2="547.67" stroke="#7e7ef2" stroke-width="1.1"/>
<line x1="678.83" y1="608.26" x2="678.83" y2="582.29" stroke="#7e7ef2" stroke-width="0.95"/>
<line x1="677.03" y1="582.29" x2="680.63" y2="582.29" stroke="#7e7ef2" stroke-width="1.1"/>
<line x1="681.88" y1="611.50" x2="681.88" y2="592.03" stroke="#7e7ef2" stroke-width="0.95"/>
<line x1="680.08" y1="592.03" x2="683.68" y2="592.03" stroke="#7e7ef2" stroke-width="1.1"/>
<line x1="684.92" y1="602.85" x2="684.92" y2="573.63" stroke="#7e7ef2" stroke-width="0.95"/>
<line x1="683.12" y1="573.63" x2="686.72" y2="573.63" stroke="#7e7ef2" stroke-width="1.1"/>
<line x1="687.97" y1="599.60" x2="687.97" y2="567.14" stroke="#7e7ef2" stroke-width="0.95"/>
<line x1="686.17" y1="567.14" x2="689.77" y2="567.14" stroke="#7e7ef2" stroke-width="1.1"/>
<line x1="691.02" y1="589.86" x2="691.02" y2="564.98" stroke="#7e7ef2" stroke-width="0.95"/>
<line x1="689.22" y1="564.98" x2="692.82" y2="564.98" stroke="#7e7ef2" stroke-width="1.1"/>
<line x1="694.07" y1="581.21" x2="694.07" y2="570.39" stroke="#7e7ef2" stroke-width="0.95"/>
<line x1="692.27" y1="570.39" x2="695.87" y2="570.39" stroke="#7e7ef2" stroke-width="1.1"/>
<polyline points="404.60,593.11 407.65,635.31 410.69,620.16 413.74,619.73 416.79,619.08 419.84,611.50 422.88,618.00 425.93,620.16 428.98,619.08 432.02,618.43 435.07,619.08 438.12,621.89 441.16,618.00 444.21,616.91 447.26,618.00 450.31,618.43 453.35,616.91 456.40,618.00 459.45,620.59 462.49,613.67 465.54,614.75 468.59,615.83 471.63,616.91 474.68,614.75 477.73,613.67 480.78,611.50 483.82,612.59 486.87,610.42 489.92,607.18 492.96,609.34 496.01,611.50 499.06,608.26 502.10,605.01 505.15,606.09 508.20,607.18 511.25,605.01 514.29,607.18 517.34,609.77 520.39,606.09 523.43,603.93 526.48,605.01 529.53,606.09 532.57,603.93 535.62,605.01 538.67,601.77 541.72,603.93 544.76,600.68 547.81,609.34 550.86,612.59 553.90,613.67 556.95,611.50 560.00,608.26 563.04,612.59 566.09,614.75 569.14,613.67 572.19,614.75 575.23,612.59 578.28,611.50 581.33,610.42 584.37,607.18 587.42,609.34 590.47,612.59 593.51,606.09 596.56,609.34 599.61,605.01 602.65,611.50 605.70,606.09 608.75,610.42 611.80,605.01 614.84,609.34 617.89,610.42 620.94,609.34 623.98,610.42 627.03,608.26 630.08,601.77 633.12,598.52 636.17,607.18 639.22,611.50 642.27,606.09 645.31,602.85 648.36,606.09 651.41,601.77 654.45,603.93 657.50,595.27 660.55,588.78 663.60,590.95 666.64,586.62 669.69,598.52 672.74,594.19 675.78,597.44 678.83,608.26 681.88,611.50 684.92,602.85 687.97,599.60 691.02,589.86 694.07,581.21" fill="none" stroke="#5858ee" stroke-width="0.85" stroke-linejoin="round"/>
<line x1="407.65" y1="605.01" x2="407.65" y2="641.80" stroke="#ee7884" stroke-width="0.95"/>
<line x1="405.85" y1="641.80" x2="409.45" y2="641.80" stroke="#ee7884" stroke-width="1.1"/>
<line x1="410.69" y1="595.92" x2="410.69" y2="621.24" stroke="#ee7884" stroke-width="0.95"/>
<line x1="408.89" y1="621.24" x2="412.49" y2="621.24" stroke="#ee7884" stroke-width="1.1"/>
<line x1="413.74" y1="611.50" x2="413.74" y2="630.98" stroke="#ee7884" stroke-width="0.95"/>
<line x1="411.94" y1="630.98" x2="415.54" y2="630.98" stroke="#ee7884" stroke-width="1.1"/>
<line x1="416.79" y1="615.83" x2="416.79" y2="630.98" stroke="#ee7884" stroke-width="0.95"/>
<line x1="414.99" y1="630.98" x2="418.59" y2="630.98" stroke="#ee7884" stroke-width="1.1"/>
<line x1="419.84" y1="607.18" x2="419.84" y2="636.39" stroke="#ee7884" stroke-width="0.95"/>
<line x1="418.04" y1="636.39" x2="421.64" y2="636.39" stroke="#ee7884" stroke-width="1.1"/>
<line x1="422.88" y1="614.75" x2="422.88" y2="646.13" stroke="#ee7884" stroke-width="0.95"/>
<line x1="421.08" y1="646.13" x2="424.68" y2="646.13" stroke="#ee7884" stroke-width="1.1"/>
<line x1="425.93" y1="621.24" x2="425.93" y2="648.29" stroke="#ee7884" stroke-width="0.95"/>
<line x1="424.13" y1="648.29" x2="427.73" y2="648.29" stroke="#ee7884" stroke-width="1.1"/>
<line x1="428.98" y1="625.57" x2="428.98" y2="659.11" stroke="#ee7884" stroke-width="0.95"/>
<line x1="427.18" y1="659.11" x2="430.78" y2="659.11" stroke="#ee7884" stroke-width="1.1"/>
<line x1="432.02" y1="630.98" x2="432.02" y2="641.37" stroke="#ee7884" stroke-width="0.95"/>
<line x1="430.22" y1="641.37" x2="433.82" y2="641.37" stroke="#ee7884" stroke-width="1.1"/>
<line x1="435.07" y1="626.65" x2="435.07" y2="641.37" stroke="#ee7884" stroke-width="0.95"/>
<line x1="433.27" y1="641.37" x2="436.87" y2="641.37" stroke="#ee7884" stroke-width="1.1"/>
<line x1="438.12" y1="621.89" x2="438.12" y2="652.19" stroke="#ee7884" stroke-width="0.95"/>
<line x1="436.32" y1="652.19" x2="439.92" y2="652.19" stroke="#ee7884" stroke-width="1.1"/>
<line x1="441.16" y1="618.00" x2="441.16" y2="651.54" stroke="#ee7884" stroke-width="0.95"/>
<line x1="439.36" y1="651.54" x2="442.96" y2="651.54" stroke="#ee7884" stroke-width="1.1"/>
<line x1="444.21" y1="616.91" x2="444.21" y2="641.80" stroke="#ee7884" stroke-width="0.95"/>
<line x1="442.41" y1="641.80" x2="446.01" y2="641.80" stroke="#ee7884" stroke-width="1.1"/>
<line x1="447.26" y1="618.00" x2="447.26" y2="634.88" stroke="#ee7884" stroke-width="0.95"/>
<line x1="445.46" y1="634.88" x2="449.06" y2="634.88" stroke="#ee7884" stroke-width="1.1"/>
<line x1="450.31" y1="619.08" x2="450.31" y2="638.55" stroke="#ee7884" stroke-width="0.95"/>
<line x1="448.50" y1="638.55" x2="452.11" y2="638.55" stroke="#ee7884" stroke-width="1.1"/>
<line x1="453.35" y1="615.83" x2="453.35" y2="628.82" stroke="#ee7884" stroke-width="0.95"/>
<line x1="451.55" y1="628.82" x2="455.15" y2="628.82" stroke="#ee7884" stroke-width="1.1"/>
<line x1="456.40" y1="614.75" x2="456.40" y2="628.38" stroke="#ee7884" stroke-width="0.95"/>
<line x1="454.60" y1="628.38" x2="458.20" y2="628.38" stroke="#ee7884" stroke-width="1.1"/>
<line x1="459.45" y1="616.91" x2="459.45" y2="629.90" stroke="#ee7884" stroke-width="0.95"/>
<line x1="457.65" y1="629.90" x2="461.25" y2="629.90" stroke="#ee7884" stroke-width="1.1"/>
<line x1="462.49" y1="616.91" x2="462.49" y2="622.32" stroke="#ee7884" stroke-width="0.95"/>
<line x1="460.69" y1="622.32" x2="464.29" y2="622.32" stroke="#ee7884" stroke-width="1.1"/>
<line x1="465.54" y1="615.83" x2="465.54" y2="638.55" stroke="#ee7884" stroke-width="0.95"/>
<line x1="463.74" y1="638.55" x2="467.34" y2="638.55" stroke="#ee7884" stroke-width="1.1"/>
<line x1="468.59" y1="618.00" x2="468.59" y2="639.20" stroke="#ee7884" stroke-width="0.95"/>
<line x1="466.79" y1="639.20" x2="470.39" y2="639.20" stroke="#ee7884" stroke-width="1.1"/>
<line x1="471.63" y1="619.08" x2="471.63" y2="630.98" stroke="#ee7884" stroke-width="0.95"/>
<line x1="469.83" y1="630.98" x2="473.43" y2="630.98" stroke="#ee7884" stroke-width="1.1"/>
<line x1="474.68" y1="615.83" x2="474.68" y2="636.39" stroke="#ee7884" stroke-width="0.95"/>
<line x1="472.88" y1="636.39" x2="476.48" y2="636.39" stroke="#ee7884" stroke-width="1.1"/>
<line x1="477.73" y1="613.67" x2="477.73" y2="633.14" stroke="#ee7884" stroke-width="0.95"/>
<line x1="475.93" y1="633.14" x2="479.53" y2="633.14" stroke="#ee7884" stroke-width="1.1"/>
<line x1="480.78" y1="616.91" x2="480.78" y2="630.98" stroke="#ee7884" stroke-width="0.95"/>
<line x1="478.98" y1="630.98" x2="482.58" y2="630.98" stroke="#ee7884" stroke-width="1.1"/>
<line x1="483.82" y1="612.59" x2="483.82" y2="635.31" stroke="#ee7884" stroke-width="0.95"/>
<line x1="482.02" y1="635.31" x2="485.62" y2="635.31" stroke="#ee7884" stroke-width="1.1"/>
<line x1="486.87" y1="610.42" x2="486.87" y2="634.88" stroke="#ee7884" stroke-width="0.95"/>
<line x1="485.07" y1="634.88" x2="488.67" y2="634.88" stroke="#ee7884" stroke-width="1.1"/>
<line x1="489.92" y1="607.18" x2="489.92" y2="634.23" stroke="#ee7884" stroke-width="0.95"/>
<line x1="488.12" y1="634.23" x2="491.72" y2="634.23" stroke="#ee7884" stroke-width="1.1"/>
<line x1="492.96" y1="609.34" x2="492.96" y2="626.65" stroke="#ee7884" stroke-width="0.95"/>
<line x1="491.16" y1="626.65" x2="494.76" y2="626.65" stroke="#ee7884" stroke-width="1.1"/>
<line x1="496.01" y1="608.26" x2="496.01" y2="629.90" stroke="#ee7884" stroke-width="0.95"/>
<line x1="494.21" y1="629.90" x2="497.81" y2="629.90" stroke="#ee7884" stroke-width="1.1"/>
<line x1="499.06" y1="605.01" x2="499.06" y2="622.32" stroke="#ee7884" stroke-width="0.95"/>
<line x1="497.26" y1="622.32" x2="500.86" y2="622.32" stroke="#ee7884" stroke-width="1.1"/>
<line x1="502.10" y1="601.77" x2="502.10" y2="625.57" stroke="#ee7884" stroke-width="0.95"/>
<line x1="500.30" y1="625.57" x2="503.90" y2="625.57" stroke="#ee7884" stroke-width="1.1"/>
<line x1="505.15" y1="602.85" x2="505.15" y2="621.24" stroke="#ee7884" stroke-width="0.95"/>
<line x1="503.35" y1="621.24" x2="506.95" y2="621.24" stroke="#ee7884" stroke-width="1.1"/>
<line x1="508.20" y1="606.09" x2="508.20" y2="625.57" stroke="#ee7884" stroke-width="0.95"/>
<line x1="506.40" y1="625.57" x2="510.00" y2="625.57" stroke="#ee7884" stroke-width="1.1"/>
<line x1="511.25" y1="607.18" x2="511.25" y2="621.24" stroke="#ee7884" stroke-width="0.95"/>
<line x1="509.44" y1="621.24" x2="513.04" y2="621.24" stroke="#ee7884" stroke-width="1.1"/>
<line x1="514.29" y1="605.01" x2="514.29" y2="626.22" stroke="#ee7884" stroke-width="0.95"/>
<line x1="512.49" y1="626.22" x2="516.09" y2="626.22" stroke="#ee7884" stroke-width="1.1"/>
<line x1="517.34" y1="605.01" x2="517.34" y2="622.32" stroke="#ee7884" stroke-width="0.95"/>
<line x1="515.54" y1="622.32" x2="519.14" y2="622.32" stroke="#ee7884" stroke-width="1.1"/>
<line x1="520.39" y1="603.93" x2="520.39" y2="615.83" stroke="#ee7884" stroke-width="0.95"/>
<line x1="518.59" y1="615.83" x2="522.19" y2="615.83" stroke="#ee7884" stroke-width="1.1"/>
<line x1="523.43" y1="601.77" x2="523.43" y2="614.75" stroke="#ee7884" stroke-width="0.95"/>
<line x1="521.63" y1="614.75" x2="525.23" y2="614.75" stroke="#ee7884" stroke-width="1.1"/>
<line x1="526.48" y1="602.85" x2="526.48" y2="624.49" stroke="#ee7884" stroke-width="0.95"/>
<line x1="524.68" y1="624.49" x2="528.28" y2="624.49" stroke="#ee7884" stroke-width="1.1"/>
<line x1="529.53" y1="603.93" x2="529.53" y2="624.92" stroke="#ee7884" stroke-width="0.95"/>
<line x1="527.73" y1="624.92" x2="531.33" y2="624.92" stroke="#ee7884" stroke-width="1.1"/>
<line x1="532.57" y1="606.09" x2="532.57" y2="620.59" stroke="#ee7884" stroke-width="0.95"/>
<line x1="530.77" y1="620.59" x2="534.37" y2="620.59" stroke="#ee7884" stroke-width="1.1"/>
<line x1="535.62" y1="600.68" x2="535.62" y2="622.32" stroke="#ee7884" stroke-width="0.95"/>
<line x1="533.82" y1="622.32" x2="537.42" y2="622.32" stroke="#ee7884" stroke-width="1.1"/>
<line x1="538.67" y1="594.19" x2="538.67" y2="623.41" stroke="#ee7884" stroke-width="0.95"/>
<line x1="536.87" y1="623.41" x2="540.47" y2="623.41" stroke="#ee7884" stroke-width="1.1"/>
<line x1="541.72" y1="605.01" x2="541.72" y2="634.23" stroke="#ee7884" stroke-width="0.95"/>
<line x1="539.92" y1="634.23" x2="543.51" y2="634.23" stroke="#ee7884" stroke-width="1.1"/>
<line x1="544.76" y1="600.68" x2="544.76" y2="624.92" stroke="#ee7884" stroke-width="0.95"/>
<line x1="542.96" y1="624.92" x2="546.56" y2="624.92" stroke="#ee7884" stroke-width="1.1"/>
<line x1="547.81" y1="597.44" x2="547.81" y2="624.49" stroke="#ee7884" stroke-width="0.95"/>
<line x1="546.01" y1="624.49" x2="549.61" y2="624.49" stroke="#ee7884" stroke-width="1.1"/>
<line x1="550.86" y1="602.85" x2="550.86" y2="625.57" stroke="#ee7884" stroke-width="0.95"/>
<line x1="549.06" y1="625.57" x2="552.66" y2="625.57" stroke="#ee7884" stroke-width="1.1"/>
<line x1="553.90" y1="593.11" x2="553.90" y2="630.98" stroke="#ee7884" stroke-width="0.95"/>
<line x1="552.10" y1="630.98" x2="555.70" y2="630.98" stroke="#ee7884" stroke-width="1.1"/>
<line x1="556.95" y1="600.68" x2="556.95" y2="630.98" stroke="#ee7884" stroke-width="0.95"/>
<line x1="555.15" y1="630.98" x2="558.75" y2="630.98" stroke="#ee7884" stroke-width="1.1"/>
<line x1="560.00" y1="592.03" x2="560.00" y2="629.90" stroke="#ee7884" stroke-width="0.95"/>
<line x1="558.20" y1="629.90" x2="561.80" y2="629.90" stroke="#ee7884" stroke-width="1.1"/>
<line x1="563.04" y1="606.09" x2="563.04" y2="628.82" stroke="#ee7884" stroke-width="0.95"/>
<line x1="561.24" y1="628.82" x2="564.84" y2="628.82" stroke="#ee7884" stroke-width="1.1"/>
<line x1="566.09" y1="603.93" x2="566.09" y2="623.41" stroke="#ee7884" stroke-width="0.95"/>
<line x1="564.29" y1="623.41" x2="567.89" y2="623.41" stroke="#ee7884" stroke-width="1.1"/>
<line x1="569.14" y1="595.27" x2="569.14" y2="622.32" stroke="#ee7884" stroke-width="0.95"/>
<line x1="567.34" y1="622.32" x2="570.94" y2="622.32" stroke="#ee7884" stroke-width="1.1"/>
<line x1="572.19" y1="598.52" x2="572.19" y2="625.57" stroke="#ee7884" stroke-width="0.95"/>
<line x1="570.39" y1="625.57" x2="573.99" y2="625.57" stroke="#ee7884" stroke-width="1.1"/>
<line x1="575.23" y1="602.85" x2="575.23" y2="625.57" stroke="#ee7884" stroke-width="0.95"/>
<line x1="573.43" y1="625.57" x2="577.03" y2="625.57" stroke="#ee7884" stroke-width="1.1"/>
<line x1="578.28" y1="593.11" x2="578.28" y2="618.00" stroke="#ee7884" stroke-width="0.95"/>
<line x1="576.48" y1="618.00" x2="580.08" y2="618.00" stroke="#ee7884" stroke-width="1.1"/>
<line x1="581.33" y1="593.11" x2="581.33" y2="616.91" stroke="#ee7884" stroke-width="0.95"/>
<line x1="579.53" y1="616.91" x2="583.13" y2="616.91" stroke="#ee7884" stroke-width="1.1"/>
<line x1="584.37" y1="596.36" x2="584.37" y2="615.83" stroke="#ee7884" stroke-width="0.95"/>
<line x1="582.57" y1="615.83" x2="586.17" y2="615.83" stroke="#ee7884" stroke-width="1.1"/>
<line x1="587.42" y1="594.19" x2="587.42" y2="611.50" stroke="#ee7884" stroke-width="0.95"/>
<line x1="585.62" y1="611.50" x2="589.22" y2="611.50" stroke="#ee7884" stroke-width="1.1"/>
<line x1="590.47" y1="597.44" x2="590.47" y2="610.42" stroke="#ee7884" stroke-width="0.95"/>
<line x1="588.67" y1="610.42" x2="592.27" y2="610.42" stroke="#ee7884" stroke-width="1.1"/>
<line x1="593.51" y1="588.78" x2="593.51" y2="607.18" stroke="#ee7884" stroke-width="0.95"/>
<line x1="591.71" y1="607.18" x2="595.31" y2="607.18" stroke="#ee7884" stroke-width="1.1"/>
<line x1="596.56" y1="598.52" x2="596.56" y2="607.18" stroke="#ee7884" stroke-width="0.95"/>
<line x1="594.76" y1="607.18" x2="598.36" y2="607.18" stroke="#ee7884" stroke-width="1.1"/>
<line x1="599.61" y1="592.03" x2="599.61" y2="603.93" stroke="#ee7884" stroke-width="0.95"/>
<line x1="597.81" y1="603.93" x2="601.41" y2="603.93" stroke="#ee7884" stroke-width="1.1"/>
<line x1="602.65" y1="586.62" x2="602.65" y2="596.36" stroke="#ee7884" stroke-width="0.95"/>
<line x1="600.86" y1="596.36" x2="604.45" y2="596.36" stroke="#ee7884" stroke-width="1.1"/>
<line x1="605.70" y1="581.21" x2="605.70" y2="605.01" stroke="#ee7884" stroke-width="0.95"/>
<line x1="603.90" y1="605.01" x2="607.50" y2="605.01" stroke="#ee7884" stroke-width="1.1"/>
<line x1="608.75" y1="579.04" x2="608.75" y2="590.95" stroke="#ee7884" stroke-width="0.95"/>
<line x1="606.95" y1="590.95" x2="610.55" y2="590.95" stroke="#ee7884" stroke-width="1.1"/>
<line x1="611.80" y1="577.96" x2="611.80" y2="593.11" stroke="#ee7884" stroke-width="0.95"/>
<line x1="610.00" y1="593.11" x2="613.60" y2="593.11" stroke="#ee7884" stroke-width="1.1"/>
<line x1="614.84" y1="574.72" x2="614.84" y2="592.03" stroke="#ee7884" stroke-width="0.95"/>
<line x1="613.04" y1="592.03" x2="616.64" y2="592.03" stroke="#ee7884" stroke-width="1.1"/>
<line x1="617.89" y1="582.29" x2="617.89" y2="601.77" stroke="#ee7884" stroke-width="0.95"/>
<line x1="616.09" y1="601.77" x2="619.69" y2="601.77" stroke="#ee7884" stroke-width="1.1"/>
<line x1="620.94" y1="585.54" x2="620.94" y2="598.52" stroke="#ee7884" stroke-width="0.95"/>
<line x1="619.14" y1="598.52" x2="622.74" y2="598.52" stroke="#ee7884" stroke-width="1.1"/>
<line x1="623.98" y1="588.78" x2="623.98" y2="598.09" stroke="#ee7884" stroke-width="0.95"/>
<line x1="622.18" y1="598.09" x2="625.78" y2="598.09" stroke="#ee7884" stroke-width="1.1"/>
<line x1="627.03" y1="584.45" x2="627.03" y2="597.44" stroke="#ee7884" stroke-width="0.95"/>
<line x1="625.23" y1="597.44" x2="628.83" y2="597.44" stroke="#ee7884" stroke-width="1.1"/>
<line x1="630.08" y1="594.19" x2="630.08" y2="605.01" stroke="#ee7884" stroke-width="0.95"/>
<line x1="628.28" y1="605.01" x2="631.88" y2="605.01" stroke="#ee7884" stroke-width="1.1"/>
<line x1="633.12" y1="597.44" x2="633.12" y2="614.75" stroke="#ee7884" stroke-width="0.95"/>
<line x1="631.33" y1="614.75" x2="634.92" y2="614.75" stroke="#ee7884" stroke-width="1.1"/>
<line x1="636.17" y1="605.01" x2="636.17" y2="620.16" stroke="#ee7884" stroke-width="0.95"/>
<line x1="634.37" y1="620.16" x2="637.97" y2="620.16" stroke="#ee7884" stroke-width="1.1"/>
<line x1="639.22" y1="593.11" x2="639.22" y2="610.42" stroke="#ee7884" stroke-width="0.95"/>
<line x1="637.42" y1="610.42" x2="641.02" y2="610.42" stroke="#ee7884" stroke-width="1.1"/>
<line x1="642.27" y1="597.44" x2="642.27" y2="611.50" stroke="#ee7884" stroke-width="0.95"/>
<line x1="640.47" y1="611.50" x2="644.07" y2="611.50" stroke="#ee7884" stroke-width="1.1"/>
<line x1="645.31" y1="589.86" x2="645.31" y2="612.59" stroke="#ee7884" stroke-width="0.95"/>
<line x1="643.51" y1="612.59" x2="647.11" y2="612.59" stroke="#ee7884" stroke-width="1.1"/>
<line x1="651.41" y1="576.88" x2="651.41" y2="586.62" stroke="#ee7884" stroke-width="0.95"/>
<line x1="649.61" y1="586.62" x2="653.21" y2="586.62" stroke="#ee7884" stroke-width="1.1"/>
<line x1="654.45" y1="581.21" x2="654.45" y2="594.19" stroke="#ee7884" stroke-width="0.95"/>
<line x1="652.65" y1="594.19" x2="656.25" y2="594.19" stroke="#ee7884" stroke-width="1.1"/>
<line x1="657.50" y1="584.45" x2="657.50" y2="592.03" stroke="#ee7884" stroke-width="0.95"/>
<line x1="655.70" y1="592.03" x2="659.30" y2="592.03" stroke="#ee7884" stroke-width="1.1"/>
<line x1="660.55" y1="576.88" x2="660.55" y2="595.27" stroke="#ee7884" stroke-width="0.95"/>
<line x1="658.75" y1="595.27" x2="662.35" y2="595.27" stroke="#ee7884" stroke-width="1.1"/>
<line x1="663.60" y1="579.04" x2="663.60" y2="592.03" stroke="#ee7884" stroke-width="0.95"/>
<line x1="661.80" y1="592.03" x2="665.39" y2="592.03" stroke="#ee7884" stroke-width="1.1"/>
<line x1="666.64" y1="584.45" x2="666.64" y2="586.62" stroke="#ee7884" stroke-width="0.95"/>
<line x1="664.84" y1="586.62" x2="668.44" y2="586.62" stroke="#ee7884" stroke-width="1.1"/>
<line x1="669.69" y1="574.72" x2="669.69" y2="585.54" stroke="#ee7884" stroke-width="0.95"/>
<line x1="667.89" y1="585.54" x2="671.49" y2="585.54" stroke="#ee7884" stroke-width="1.1"/>
<line x1="672.74" y1="582.29" x2="672.74" y2="585.54" stroke="#ee7884" stroke-width="0.95"/>
<line x1="670.94" y1="585.54" x2="674.54" y2="585.54" stroke="#ee7884" stroke-width="1.1"/>
<line x1="675.78" y1="583.37" x2="675.78" y2="614.75" stroke="#ee7884" stroke-width="0.95"/>
<line x1="673.98" y1="614.75" x2="677.58" y2="614.75" stroke="#ee7884" stroke-width="1.1"/>
<line x1="678.83" y1="562.81" x2="678.83" y2="605.01" stroke="#ee7884" stroke-width="0.95"/>
<line x1="677.03" y1="605.01" x2="680.63" y2="605.01" stroke="#ee7884" stroke-width="1.1"/>
<line x1="681.88" y1="561.73" x2="681.88" y2="592.03" stroke="#ee7884" stroke-width="0.95"/>
<line x1="680.08" y1="592.03" x2="683.68" y2="592.03" stroke="#ee7884" stroke-width="1.1"/>
<line x1="684.92" y1="583.37" x2="684.92" y2="584.45" stroke="#ee7884" stroke-width="0.95"/>
<line x1="683.12" y1="584.45" x2="686.72" y2="584.45" stroke="#ee7884" stroke-width="1.1"/>
<line x1="687.97" y1="568.22" x2="687.97" y2="598.52" stroke="#ee7884" stroke-width="0.95"/>
<line x1="686.17" y1="598.52" x2="689.77" y2="598.52" stroke="#ee7884" stroke-width="1.1"/>
<line x1="691.02" y1="574.72" x2="691.02" y2="607.18" stroke="#ee7884" stroke-width="0.95"/>
<line x1="689.22" y1="607.18" x2="692.82" y2="607.18" stroke="#ee7884" stroke-width="1.1"/>
<line x1="694.07" y1="557.40" x2="694.07" y2="594.19" stroke="#ee7884" stroke-width="0.95"/>
<line x1="692.27" y1="594.19" x2="695.87" y2="594.19" stroke="#ee7884" stroke-width="1.1"/>
<polyline points="407.65,605.01 410.69,595.92 413.74,611.50 416.79,615.83 419.84,607.18 422.88,614.75 425.93,621.24 428.98,625.57 432.02,630.98 435.07,626.65 438.12,621.89 441.16,618.00 444.21,616.91 447.26,618.00 450.31,619.08 453.35,615.83 456.40,614.75 459.45,616.91 462.49,616.91 465.54,615.83 468.59,618.00 471.63,619.08 474.68,615.83 477.73,613.67 480.78,616.91 483.82,612.59 486.87,610.42 489.92,607.18 492.96,609.34 496.01,608.26 499.06,605.01 502.10,601.77 505.15,602.85 508.20,606.09 511.25,607.18 514.29,605.01 517.34,605.01 520.39,603.93 523.43,601.77 526.48,602.85 529.53,603.93 532.57,606.09 535.62,600.68 538.67,594.19 541.72,605.01 544.76,600.68 547.81,597.44 550.86,602.85 553.90,593.11 556.95,600.68 560.00,592.03 563.04,606.09 566.09,603.93 569.14,595.27 572.19,598.52 575.23,602.85 578.28,593.11 581.33,593.11 584.37,596.36 587.42,594.19 590.47,597.44 593.51,588.78 596.56,598.52 599.61,592.03 602.65,586.62 605.70,581.21 608.75,579.04 611.80,577.96 614.84,574.72 617.89,582.29 620.94,585.54 623.98,588.78 627.03,584.45 630.08,594.19 633.12,597.44 636.17,605.01 639.22,593.11 642.27,597.44 645.31,589.86 648.36,598.52 651.41,576.88 654.45,581.21 657.50,584.45 660.55,576.88 663.60,579.04 666.64,584.45 669.69,574.72 672.74,582.29 675.78,583.37 678.83,562.81 681.88,561.73 684.92,583.37 687.97,568.22 691.02,574.72 694.07,557.40" fill="none" stroke="#ea4d60" stroke-width="0.85" stroke-linejoin="round"/>
<line x1="401.9" y1="502.10" x2="401.9" y2="696.60" stroke="#ababab" stroke-width="1"/>
<line x1="397.10" y1="696.60" x2="401.9" y2="696.60" stroke="#7d7d7d" stroke-width="1"/>
<text x="394.60" y="700.40" text-anchor="end" font-size="10.5" fill="#1e1e1e" stroke="#1e1e1e" stroke-width="0.25">0</text>
<line x1="397.10" y1="631.77" x2="401.9" y2="631.77" stroke="#7d7d7d" stroke-width="1"/>
<text x="394.60" y="635.57" text-anchor="end" font-size="10.5" fill="#1e1e1e" stroke="#1e1e1e" stroke-width="0.25">5</text>
<line x1="397.10" y1="566.93" x2="401.9" y2="566.93" stroke="#7d7d7d" stroke-width="1"/>
<text x="394.60" y="570.73" text-anchor="end" font-size="10.5" fill="#1e1e1e" stroke="#1e1e1e" stroke-width="0.25">10</text>
<line x1="397.10" y1="502.10" x2="401.9" y2="502.10" stroke="#7d7d7d" stroke-width="1"/>
<text x="394.60" y="505.90" text-anchor="end" font-size="10.5" fill="#1e1e1e" stroke="#1e1e1e" stroke-width="0.25">15</text>
<line x1="397.00" y1="696.60" x2="693.70" y2="696.60" stroke="#7d7d7d" stroke-width="1.3"/>
<line x1="404.60" y1="696.60" x2="404.60" y2="701.30" stroke="#7d7d7d" stroke-width="1"/>
<text transform="translate(407.60,711.60) rotate(-45)" text-anchor="end" font-size="10.5" fill="#1e1e1e" stroke="#1e1e1e" stroke-width="0.25">0</text>
<line x1="435.07" y1="696.60" x2="435.07" y2="701.30" stroke="#7d7d7d" stroke-width="1"/>
<text transform="translate(438.07,711.60) rotate(-45)" text-anchor="end" font-size="10.5" fill="#1e1e1e" stroke="#1e1e1e" stroke-width="0.25">10</text>
<line x1="465.54" y1="696.60" x2="465.54" y2="701.30" stroke="#7d7d7d" stroke-width="1"/>
<text transform="translate(468.54,711.60) rotate(-45)" text-anchor="end" font-size="10.5" fill="#1e1e1e" stroke="#1e1e1e" stroke-width="0.25">20</text>
<line x1="496.01" y1="696.60" x2="496.01" y2="701.30" stroke="#7d7d7d" stroke-width="1"/>
<text transform="translate(499.01,711.60) rotate(-45)" text-anchor="end" font-size="10.5" fill="#1e1e1e" stroke="#1e1e1e" stroke-width="0.25">30</text>
<line x1="526.48" y1="696.60" x2="526.48" y2="701.30" stroke="#7d7d7d" stroke-width="1"/>
<text transform="translate(529.48,711.60) rotate(-45)" text-anchor="end" font-size="10.5" fill="#1e1e1e" stroke="#1e1e1e" stroke-width="0.25">40</text>
<line x1="556.95" y1="696.60" x2="556.95" y2="701.30" stroke="#7d7d7d" stroke-width="1"/>
<text transform="translate(559.95,711.60) rotate(-45)" text-anchor="end" font-size="10.5" fill="#1e1e1e" stroke="#1e1e1e" stroke-width="0.25">50</text>
<line x1="587.42" y1="696.60" x2="587.42" y2="701.30" stroke="#7d7d7d" stroke-width="1"/>
<text transform="translate(590.42,711.60) rotate(-45)" text-anchor="end" font-size="10.5" fill="#1e1e1e" stroke="#1e1e1e" stroke-width="0.25">60</text>
<line x1="617.89" y1="696.60" x2="617.89" y2="701.30" stroke="#7d7d7d" stroke-width="1"/>
<text transform="translate(620.89,711.60) rotate(-45)" text-anchor="end" font-size="10.5" fill="#1e1e1e" stroke="#1e1e1e" stroke-width="0.25">70</text>
<line x1="648.36" y1="696.60" x2="648.36" y2="701.30" stroke="#7d7d7d" stroke-width="1"/>
<text transform="translate(651.36,711.60) rotate(-45)" text-anchor="end" font-size="10.5" fill="#1e1e1e" stroke="#1e1e1e" stroke-width="0.25">80</text>
<line x1="678.83" y1="696.60" x2="678.83" y2="701.30" stroke="#7d7d7d" stroke-width="1"/>
<text transform="translate(681.83,711.60) rotate(-45)" text-anchor="end" font-size="10.5" fill="#1e1e1e" stroke="#1e1e1e" stroke-width="0.25">90</text>
<text transform="translate(374.90,600.10) rotate(-90)" text-anchor="middle" font-size="13.9" font-weight="bold" fill="#1e1e1e" stroke="#1e1e1e" stroke-width="0.3" textLength="95.5" lengthAdjust="spacing">Glucose (mM)</text>
<text x="99.6" y="737.9" font-size="13.8" font-weight="bold" fill="#1e1e1e" stroke="#1e1e1e" stroke-width="0.3" textLength="185.5" lengthAdjust="spacing">Hours since Randomization</text>
<text x="456.0" y="737.9" font-size="13.8" font-weight="bold" fill="#1e1e1e" stroke="#1e1e1e" stroke-width="0.3" textLength="185.3" lengthAdjust="spacing">Hours since Randomization</text>
</svg></body></html>
